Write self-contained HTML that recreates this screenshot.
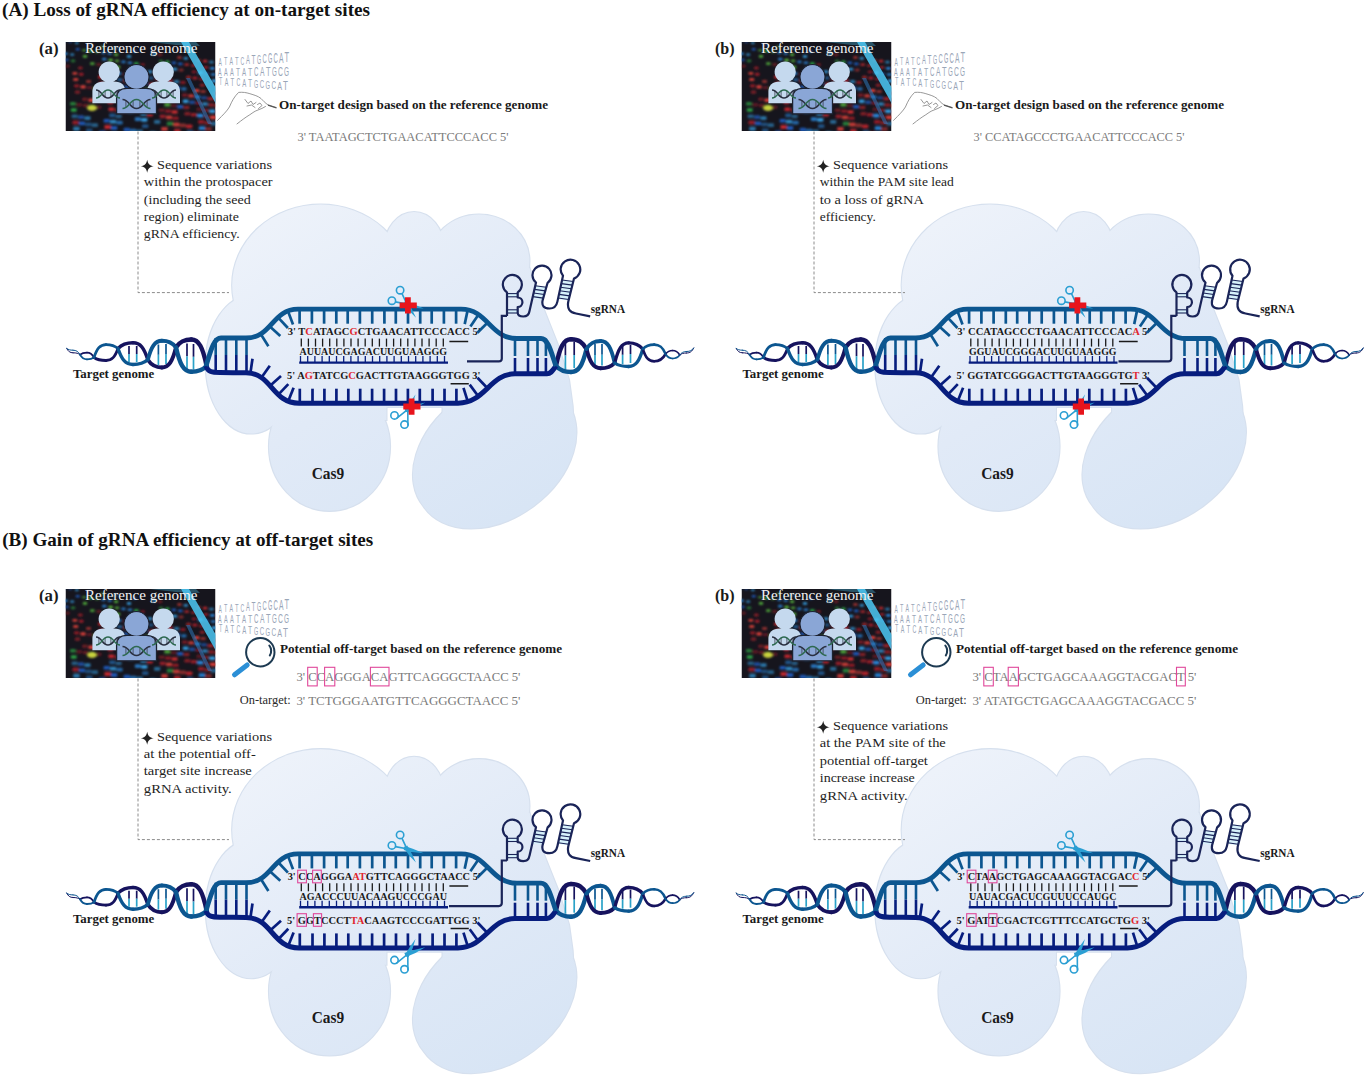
<!DOCTYPE html><html><head><meta charset="utf-8"><style>html,body{margin:0;padding:0;background:#fff;width:1366px;height:1075px;overflow:hidden}svg{display:block}</style></head><body><svg width="1366" height="1075" viewBox="0 0 1366 1075"><defs><clipPath id="refclip"><rect x="65.5" y="42" width="150" height="89"/></clipPath><filter id="soft" x="-5%" y="-5%" width="110%" height="110%"><feGaussianBlur stdDeviation="0.9"/></filter><linearGradient id="blobg" gradientUnits="userSpaceOnUse" x1="300" y1="205" x2="500" y2="525"><stop offset="0" stop-color="#edf2fa"/><stop offset="0.5" stop-color="#e1eaf7"/><stop offset="1" stop-color="#d8e5f5"/></linearGradient></defs><rect width="1366" height="1075" fill="#fff"/><text x="2" y="15.8" font-family="Liberation Serif" font-size="19" font-weight="bold" fill="#111" textLength="368" lengthAdjust="spacingAndGlyphs">(A) Loss of gRNA efficiency at on-target sites</text><text x="2.2" y="546.4" font-family="Liberation Serif" font-size="19" font-weight="bold" fill="#111" textLength="371" lengthAdjust="spacingAndGlyphs">(B) Gain of gRNA efficiency at off-target sites</text><g transform="translate(0,0)"><g fill="#d9e3f0" stroke="#d6e0ee" stroke-width="2.2"><ellipse cx="320.6" cy="285.3" rx="88.4" ry="80.8"/><ellipse cx="414.1" cy="248.4" rx="29.8" ry="36.3"/><ellipse cx="479.1" cy="261.2" rx="50.3" ry="46.7"/><ellipse cx="251.3" cy="364.5" rx="45.5" ry="69"/><ellipse cx="329.5" cy="446.6" rx="60.5" ry="64.2"/><path d="M423.6,506.4A88.6,63.4 143.4 1 1 565.8,400.8A88.6,63.4 143.4 1 1 423.6,506.4Z"/><path d="M250,300L320,250L414,262L479,270L529.5,268C536,290 540,300 544,310L558,345L569,380L572.6,406L574,432L545,470L442.6,420L442.6,407L386.4,407L386.4,420L330,420L255,410L222,360Z"/></g><g fill="url(#blobg)"><ellipse cx="320.6" cy="285.3" rx="88.4" ry="80.8"/><ellipse cx="414.1" cy="248.4" rx="29.8" ry="36.3"/><ellipse cx="479.1" cy="261.2" rx="50.3" ry="46.7"/><ellipse cx="251.3" cy="364.5" rx="45.5" ry="69"/><ellipse cx="329.5" cy="446.6" rx="60.5" ry="64.2"/><path d="M423.6,506.4A88.6,63.4 143.4 1 1 565.8,400.8A88.6,63.4 143.4 1 1 423.6,506.4Z"/><path d="M250,300L320,250L414,262L479,270L529.5,268C536,290 540,300 544,310L558,345L569,380L572.6,406L574,432L545,470L442.6,420L442.6,407L386.4,407L386.4,420L330,420L255,410L222,360Z"/></g><path d="M129,346V354" stroke="#16135e" stroke-width="1.7"/><path d="M129,354V362" stroke="#2aa2c8" stroke-width="1.7"/><path d="M136.7,346V354" stroke="#16135e" stroke-width="1.7"/><path d="M136.7,354V362" stroke="#2aa2c8" stroke-width="1.7"/><path d="M158.4,344.5V354.8" stroke="#0c5690" stroke-width="1.7"/><path d="M158.4,354.8V365" stroke="#2aa2c8" stroke-width="1.7"/><path d="M166,344V354" stroke="#0c5690" stroke-width="1.7"/><path d="M166,354V364" stroke="#2aa2c8" stroke-width="1.7"/><path d="M187,343.5V356.2" stroke="#16135e" stroke-width="1.7"/><path d="M187,356.2V369" stroke="#2aa2c8" stroke-width="1.7"/><path d="M193.5,344V356.8" stroke="#16135e" stroke-width="1.7"/><path d="M193.5,356.8V369.5" stroke="#2aa2c8" stroke-width="1.7"/><path d="M66.7,348.4C68.3,351.5 69.8,352.8 73,352.8" stroke="#16135e" stroke-width="1.0" fill="none" stroke-linecap="round"/><path d="M66.7,348.4C68.3,349.7 69.8,350.2 73,350.2" stroke="#0c5690" stroke-width="1.0" fill="none" stroke-linecap="round"/><path d="M73,352.8C76.5,352.8 78.2,353.3 80,354.6" stroke="#16135e" stroke-width="1.0" fill="none" stroke-linecap="round"/><path d="M73,350.2C76.5,350.2 78.2,351.5 80,354.6" stroke="#0c5690" stroke-width="1.0" fill="none" stroke-linecap="round"/><path d="M80,354.6C81.8,353.2 83.5,352.6 87,352.6" stroke="#16135e" stroke-width="1.8" fill="none" stroke-linecap="round"/><path d="M80,354.6C81.8,357.9 83.5,359.3 87,359.3" stroke="#0c5690" stroke-width="1.8" fill="none" stroke-linecap="round"/><path d="M87,352.6C90.5,352.6 92.2,354.1 94,357.5" stroke="#16135e" stroke-width="1.8" fill="none" stroke-linecap="round"/><path d="M87,359.3C90.5,359.3 92.2,358.8 94,357.5" stroke="#0c5690" stroke-width="1.8" fill="none" stroke-linecap="round"/><path d="M94,357.5C97,359.6 100,360.5 106,360.5" stroke="#16135e" stroke-width="2.8" fill="none" stroke-linecap="round"/><path d="M94,357.5C97,348.5 100,344.6 106,344.6" stroke="#0c5690" stroke-width="2.8" fill="none" stroke-linecap="round"/><path d="M106,360.5C112,360.5 115,356.9 118,348.5" stroke="#16135e" stroke-width="2.8" fill="none" stroke-linecap="round"/><path d="M106,344.6C112,344.6 115,345.8 118,348.5" stroke="#0c5690" stroke-width="2.8" fill="none" stroke-linecap="round"/><path d="M118,348.5C121.8,344.5 125.5,342.8 133,342.8" stroke="#16135e" stroke-width="3.4" fill="none" stroke-linecap="round"/><path d="M118,348.5C121.8,359.7 125.5,364.5 133,364.5" stroke="#0c5690" stroke-width="3.4" fill="none" stroke-linecap="round"/><path d="M133,342.8C140.4,342.8 144.1,347.9 147.8,359.8" stroke="#16135e" stroke-width="3.4" fill="none" stroke-linecap="round"/><path d="M133,364.5C140.4,364.5 144.1,363.1 147.8,359.8" stroke="#0c5690" stroke-width="3.4" fill="none" stroke-linecap="round"/><path d="M147.8,359.8C151.3,365.2 154.9,367.5 161.9,367.5" stroke="#16135e" stroke-width="3.9" fill="none" stroke-linecap="round"/><path d="M147.8,359.8C151.3,346.5 154.9,340.8 161.9,340.8" stroke="#0c5690" stroke-width="3.9" fill="none" stroke-linecap="round"/><path d="M161.9,367.5C168.9,367.5 172.5,361.4 176,347.3" stroke="#16135e" stroke-width="3.9" fill="none" stroke-linecap="round"/><path d="M161.9,340.8C168.9,340.8 172.5,342.8 176,347.3" stroke="#0c5690" stroke-width="3.9" fill="none" stroke-linecap="round"/><path d="M176,347.3C179.8,341.8 183.7,339.5 191.3,339.5" stroke="#16135e" stroke-width="4.4" fill="none" stroke-linecap="round"/><path d="M176,347.3C179.8,364.4 183.7,371.8 191.3,371.8" stroke="#0c5690" stroke-width="4.4" fill="none" stroke-linecap="round"/><path d="M191.3,339.5C198.9,339.5 202.8,347.4 206.6,366" stroke="#16135e" stroke-width="4.4" fill="none" stroke-linecap="round"/><path d="M191.3,371.8C198.9,371.8 202.8,370.1 206.6,366" stroke="#0c5690" stroke-width="4.4" fill="none" stroke-linecap="round"/><path d="M565.4,342V355.5" stroke="#16135e" stroke-width="1.7"/><path d="M565.4,355.5V369" stroke="#2aa2c8" stroke-width="1.7"/><path d="M574.2,342V355" stroke="#16135e" stroke-width="1.7"/><path d="M574.2,355V368" stroke="#2aa2c8" stroke-width="1.7"/><path d="M595,344V355" stroke="#0c5690" stroke-width="1.7"/><path d="M595,355V366" stroke="#2aa2c8" stroke-width="1.7"/><path d="M602,344V354.8" stroke="#0c5690" stroke-width="1.7"/><path d="M602,354.8V365.5" stroke="#2aa2c8" stroke-width="1.7"/><path d="M622.6,345.5V354.8" stroke="#16135e" stroke-width="1.7"/><path d="M622.6,354.8V364" stroke="#2aa2c8" stroke-width="1.7"/><path d="M630.5,345V354" stroke="#16135e" stroke-width="1.7"/><path d="M630.5,354V363" stroke="#2aa2c8" stroke-width="1.7"/><path d="M556,366C559.8,347.3 563.5,339.3 571,339.3" stroke="#16135e" stroke-width="4.4" fill="none" stroke-linecap="round"/><path d="M556,366C559.8,370.2 563.5,372 571,372" stroke="#0c5690" stroke-width="4.4" fill="none" stroke-linecap="round"/><path d="M571,339.3C578.8,339.3 582.6,342.2 586.5,349" stroke="#16135e" stroke-width="4.4" fill="none" stroke-linecap="round"/><path d="M571,372C578.8,372 582.6,365.1 586.5,349" stroke="#0c5690" stroke-width="4.4" fill="none" stroke-linecap="round"/><path d="M586.5,349C590,362.5 593.5,368.3 600.6,368.3" stroke="#16135e" stroke-width="3.9" fill="none" stroke-linecap="round"/><path d="M586.5,349C590,343.4 593.5,341 600.6,341" stroke="#0c5690" stroke-width="3.9" fill="none" stroke-linecap="round"/><path d="M600.6,368.3C607.7,368.3 611.2,366.7 614.7,363" stroke="#16135e" stroke-width="3.9" fill="none" stroke-linecap="round"/><path d="M600.6,341C607.7,341 611.2,347.6 614.7,363" stroke="#0c5690" stroke-width="3.9" fill="none" stroke-linecap="round"/><path d="M614.7,363C618.2,348.9 621.7,342.8 628.7,342.8" stroke="#16135e" stroke-width="3.3" fill="none" stroke-linecap="round"/><path d="M614.7,363C618.2,365.4 621.7,366.5 628.7,366.5" stroke="#0c5690" stroke-width="3.3" fill="none" stroke-linecap="round"/><path d="M628.7,342.8C635.8,342.8 639.3,344.7 642.8,349" stroke="#16135e" stroke-width="3.3" fill="none" stroke-linecap="round"/><path d="M628.7,366.5C635.8,366.5 639.3,361.2 642.8,349" stroke="#0c5690" stroke-width="3.3" fill="none" stroke-linecap="round"/><path d="M642.8,349C645.6,357.6 648.5,361.3 654.2,361.3" stroke="#16135e" stroke-width="2.6" fill="none" stroke-linecap="round"/><path d="M642.8,349C645.6,345.9 648.5,344.6 654.2,344.6" stroke="#0c5690" stroke-width="2.6" fill="none" stroke-linecap="round"/><path d="M654.2,361.3C659.9,361.3 662.8,359.1 665.6,354" stroke="#16135e" stroke-width="2.6" fill="none" stroke-linecap="round"/><path d="M654.2,344.6C659.9,344.6 662.8,347.4 665.6,354" stroke="#0c5690" stroke-width="2.6" fill="none" stroke-linecap="round"/><path d="M665.6,354C667.4,351.6 669.1,350.5 672.6,350.5" stroke="#16135e" stroke-width="1.7" fill="none" stroke-linecap="round"/><path d="M665.6,354C667.4,357.1 669.1,358.5 672.6,358.5" stroke="#0c5690" stroke-width="1.7" fill="none" stroke-linecap="round"/><path d="M672.6,350.5C676.2,350.5 677.9,351.9 679.7,355" stroke="#16135e" stroke-width="1.7" fill="none" stroke-linecap="round"/><path d="M672.6,358.5C676.2,358.5 677.9,357.4 679.7,355" stroke="#0c5690" stroke-width="1.7" fill="none" stroke-linecap="round"/><path d="M679.7,355C681.5,353.6 683.2,353 686.7,353" stroke="#16135e" stroke-width="1.0" fill="none" stroke-linecap="round"/><path d="M679.7,355C681.5,352.6 683.2,351.5 686.7,351.5" stroke="#0c5690" stroke-width="1.0" fill="none" stroke-linecap="round"/><path d="M686.7,353C690.2,353 692,351.5 693.7,348" stroke="#16135e" stroke-width="1.0" fill="none" stroke-linecap="round"/><path d="M686.7,351.5C690.2,351.5 692,350.4 693.7,348" stroke="#0c5690" stroke-width="1.0" fill="none" stroke-linecap="round"/><path d="M215.7,338V355" stroke="#0c5690" stroke-width="2.6"/><path d="M215.7,355V372.5" stroke="#071d7e" stroke-width="2.6"/><path d="M226,338V355" stroke="#0c5690" stroke-width="2.6"/><path d="M226,355V372.5" stroke="#071d7e" stroke-width="2.6"/><path d="M236.3,338V355" stroke="#0c5690" stroke-width="2.6"/><path d="M236.3,355V372.5" stroke="#071d7e" stroke-width="2.6"/><path d="M246.5,338V355" stroke="#0c5690" stroke-width="2.6"/><path d="M246.5,355V372.5" stroke="#071d7e" stroke-width="2.6"/><path d="M515,338.5V356" stroke="#0c5690" stroke-width="2.6"/><path d="M515,358V373.8" stroke="#071d7e" stroke-width="2.6"/><path d="M528,338.5V356" stroke="#0c5690" stroke-width="2.6"/><path d="M528,358V373.8" stroke="#071d7e" stroke-width="2.6"/><path d="M537.5,338.5V356" stroke="#0c5690" stroke-width="2.6"/><path d="M537.5,358V373.8" stroke="#071d7e" stroke-width="2.6"/><path d="M545.9,338.5V356" stroke="#0c5690" stroke-width="2.6"/><path d="M545.9,358V373.8" stroke="#071d7e" stroke-width="2.6"/><path d="M260.7,334L268.4,346.3" stroke="#0c5690" stroke-width="2.7"/><path d="M269.6,326.2L280.3,336" stroke="#0c5690" stroke-width="2.7"/><path d="M278,317.3L287.9,328" stroke="#0c5690" stroke-width="2.7"/><path d="M287.9,310.9L293,324.5" stroke="#0c5690" stroke-width="2.7"/><path d="M299.6,309.2L299.6,323.7" stroke="#0c5690" stroke-width="2.7"/><path d="M311.9,309.2L311.9,323.7" stroke="#0c5690" stroke-width="2.7"/><path d="M324.1,309.2L324.1,323.7" stroke="#0c5690" stroke-width="2.7"/><path d="M336.3,309.2L336.3,323.7" stroke="#0c5690" stroke-width="2.7"/><path d="M347.7,309.2L347.7,323.7" stroke="#0c5690" stroke-width="2.7"/><path d="M359.9,309.2L359.9,323.7" stroke="#0c5690" stroke-width="2.7"/><path d="M372.2,309.2L372.2,323.7" stroke="#0c5690" stroke-width="2.7"/><path d="M384.4,309.2L384.4,323.7" stroke="#0c5690" stroke-width="2.7"/><path d="M395.8,309.2L395.8,323.7" stroke="#0c5690" stroke-width="2.7"/><path d="M408,309.2L408,323.7" stroke="#0c5690" stroke-width="2.7"/><path d="M420.2,309.2L420.2,323.7" stroke="#0c5690" stroke-width="2.7"/><path d="M431.7,309.2L431.7,323.7" stroke="#0c5690" stroke-width="2.7"/><path d="M443.9,309.2L443.9,323.7" stroke="#0c5690" stroke-width="2.7"/><path d="M456.1,309.2L456.1,323.7" stroke="#0c5690" stroke-width="2.7"/><path d="M467.7,309.9L464.7,324.1" stroke="#0c5690" stroke-width="2.7"/><path d="M478.6,314.6L470.4,326.6" stroke="#0c5690" stroke-width="2.7"/><path d="M487.7,322.5L477.4,332.8" stroke="#0c5690" stroke-width="2.7"/><path d="M250.4,373.1L252.5,358.8" stroke="#071d7e" stroke-width="2.7"/><path d="M261.5,377.6L269.8,365.7" stroke="#071d7e" stroke-width="2.7"/><path d="M270.1,385.7L281,376.1" stroke="#071d7e" stroke-width="2.7"/><path d="M278.3,394.6L288.3,384.1" stroke="#071d7e" stroke-width="2.7"/><path d="M288.2,401.2L293.6,387.8" stroke="#071d7e" stroke-width="2.7"/><path d="M299.8,403.2L299.8,388.7" stroke="#071d7e" stroke-width="2.7"/><path d="M312.5,403.2L312.5,388.7" stroke="#071d7e" stroke-width="2.7"/><path d="M324.4,403.2L324.4,388.7" stroke="#071d7e" stroke-width="2.7"/><path d="M336.4,403.2L336.4,388.7" stroke="#071d7e" stroke-width="2.7"/><path d="M348.3,403.2L348.3,388.7" stroke="#071d7e" stroke-width="2.7"/><path d="M360.2,403.2L360.2,388.7" stroke="#071d7e" stroke-width="2.7"/><path d="M372.1,403.2L372.1,388.7" stroke="#071d7e" stroke-width="2.7"/><path d="M384.1,403.2L384.1,388.7" stroke="#071d7e" stroke-width="2.7"/><path d="M396,403.2L396,388.7" stroke="#071d7e" stroke-width="2.7"/><path d="M407.9,403.2L407.9,388.7" stroke="#071d7e" stroke-width="2.7"/><path d="M419.8,403.2L419.8,388.7" stroke="#071d7e" stroke-width="2.7"/><path d="M432.6,403.2L432.6,388.7" stroke="#071d7e" stroke-width="2.7"/><path d="M444.5,403.2L444.5,388.7" stroke="#071d7e" stroke-width="2.7"/><path d="M456.4,403.2L456.4,388.7" stroke="#071d7e" stroke-width="2.7"/><path d="M467.8,401.7L463.5,387.9" stroke="#071d7e" stroke-width="2.7"/><path d="M478.3,396.3L469.7,384.6" stroke="#071d7e" stroke-width="2.7"/><path d="M487.5,388.3L477.5,377.8" stroke="#071d7e" stroke-width="2.7"/><path d="M206,366C208,372 212,372.5 220,372.5C228.7,372.6 237.3,372.7 246,372.8C272,372.8 272,403.2 299,403.2C352,403.2 405,403.2 458,403.2C485,403.2 490,373.8 515,373.8C525.7,373.8 536.3,373.8 547,373.8C551,373.8 553,370 556,366" stroke="#071d7e" stroke-width="5" fill="none" stroke-linejoin="round"/><path d="M206,366C210,354 213,338 221,338C229.3,338 237.7,338 246,338C272,338 272,309.2 298,309.2C352.3,309.2 406.7,309.2 461,309.2C488,309.2 490,338.5 517,338.5C525,338.5 533,338.5 541,338.5C549,338.5 552,356 556,366" stroke="#0c5690" stroke-width="4.8" fill="none" stroke-linejoin="round"/><path d="M467,361.4H498.8Q501.8,361.4 501.8,358.4V315.8H507" stroke="#1a2458" stroke-width="2.2" fill="none"/><rect x="507" y="293.3" width="10.7" height="3.8" fill="#d6f1fb"/><rect x="507" y="309.5" width="10.7" height="3.8" fill="#d6f1fb"/><path d="M507,293.6H517.7" stroke="#1a2458" stroke-width="1.1"/><path d="M507,296.8H517.7" stroke="#1a2458" stroke-width="1.1"/><path d="M507,309.8H517.7" stroke="#1a2458" stroke-width="1.1"/><path d="M507,313H517.7" stroke="#1a2458" stroke-width="1.1"/><path d="M535.3,285.5L546.4,287L542.7,300L532.4,298.5Z" fill="#d6f1fb"/><path d="M535.2,285.8L546.3,287.3" stroke="#1a2458" stroke-width="1.1"/><path d="M534.4,289.4L545.3,290.9" stroke="#1a2458" stroke-width="1.1"/><path d="M533.6,293L544.3,294.5" stroke="#1a2458" stroke-width="1.1"/><path d="M532.8,296.6L543.3,298.1" stroke="#1a2458" stroke-width="1.1"/><path d="M562.2,279.5L573.4,281L568.6,300.5L558,299Z" fill="#d6f1fb"/><path d="M562.1,280L573.3,281.5" stroke="#1a2458" stroke-width="1.1"/><path d="M561.3,283.6L572.4,285.1" stroke="#1a2458" stroke-width="1.1"/><path d="M560.5,287.2L571.5,288.7" stroke="#1a2458" stroke-width="1.1"/><path d="M559.7,290.8L570.6,292.3" stroke="#1a2458" stroke-width="1.1"/><path d="M559,294.4L569.7,295.9" stroke="#1a2458" stroke-width="1.1"/><path d="M558.2,298L568.8,299.5" stroke="#1a2458" stroke-width="1.1"/><path d="M507,316V292.3 A9.5,9.5 0 1 1 517.7,292.3 V297.5 A4.6,4.6 0 0 1 517.7,307 V313 Q518,316.5 523.3,316.5 Q528.7,316.5 529.5,311 L536,282.5 A9.5,9.5 0 1 1 547.6,282.8 L542.6,300.4 Q541,308.5 549.5,308.5 Q556,308.5 557.4,301.6 L563,275.8 A9.8,9.8 0 1 1 574,278.6 L568.2,302 Q566.5,312 576,313.5 L590.2,316.3" stroke="#1a2458" stroke-width="2.2" fill="none" stroke-linejoin="round"/><circle cx="400.1" cy="290.2" r="3.7" stroke="#2b9fd3" stroke-width="1.6" fill="none"/><circle cx="391.9" cy="300.7" r="3.7" stroke="#2b9fd3" stroke-width="1.6" fill="none"/><path d="M401.9,293.4L406.8,304M395.3,301.9L406.8,304" stroke="#2b9fd3" stroke-width="1.6"/><path d="M403.7,305.3Q413.3,308.4 423.7,308.6Q414.4,304.3 404.8,301.3Z" fill="#2b9fd3"/><path d="M403.7,303.1Q408.6,311.3 416,317.8Q412.1,308.9 407.2,300.8Z" fill="#2b9fd3"/><path d="M405,297.2h5.8v5.2h6v5.8h-6v5.4h-5.8v-5.4h-5.4v-5.8h5.4z" fill="#e8141c"/><circle cx="394.5" cy="415.4" r="3.7" stroke="#2b9fd3" stroke-width="1.6" fill="none"/><circle cx="404.5" cy="424.6" r="3.7" stroke="#2b9fd3" stroke-width="1.6" fill="none"/><path d="M396.3,418.6L407.8,409.3M407.9,425.8L407.8,409.3" stroke="#2b9fd3" stroke-width="1.6"/><path d="M408.5,412.5Q413.3,404.1 415.5,394.4Q409.6,402.2 404.8,410.6Z" fill="#2b9fd3"/><path d="M405.9,412.3Q416.1,408.8 425.2,402.6Q414.6,404.9 404.4,408.3Z" fill="#2b9fd3"/><path d="M408.7,398.4h5.8v5.2h6v5.8h-6v5.4h-5.8v-5.4h-5.4v-5.8h5.4z" fill="#e8141c"/><text x="287.7" y="335.3" font-family="Liberation Serif" font-size="11.4" font-weight="bold" fill="#1a1a1a" textLength="193" lengthAdjust="spacingAndGlyphs">3' T<tspan fill="#e0262e">C</tspan>ATAGC<tspan fill="#e0262e">G</tspan>CTGAACATTCCCACC 5'</text><path d="M301.3,338.6V346.6" stroke="#1a1a1a" stroke-width="1.3"/><path d="M308.4,338.6V346.6" stroke="#1a1a1a" stroke-width="1.3"/><path d="M315.5,338.6V346.6" stroke="#1a1a1a" stroke-width="1.3"/><path d="M322.6,338.6V346.6" stroke="#1a1a1a" stroke-width="1.3"/><path d="M329.7,338.6V346.6" stroke="#1a1a1a" stroke-width="1.3"/><path d="M336.8,338.6V346.6" stroke="#1a1a1a" stroke-width="1.3"/><path d="M343.9,338.6V346.6" stroke="#1a1a1a" stroke-width="1.3"/><path d="M351,338.6V346.6" stroke="#1a1a1a" stroke-width="1.3"/><path d="M358.1,338.6V346.6" stroke="#1a1a1a" stroke-width="1.3"/><path d="M365.2,338.6V346.6" stroke="#1a1a1a" stroke-width="1.3"/><path d="M372.3,338.6V346.6" stroke="#1a1a1a" stroke-width="1.3"/><path d="M379.4,338.6V346.6" stroke="#1a1a1a" stroke-width="1.3"/><path d="M386.5,338.6V346.6" stroke="#1a1a1a" stroke-width="1.3"/><path d="M393.6,338.6V346.6" stroke="#1a1a1a" stroke-width="1.3"/><path d="M400.7,338.6V346.6" stroke="#1a1a1a" stroke-width="1.3"/><path d="M407.8,338.6V346.6" stroke="#1a1a1a" stroke-width="1.3"/><path d="M414.9,338.6V346.6" stroke="#1a1a1a" stroke-width="1.3"/><path d="M422,338.6V346.6" stroke="#1a1a1a" stroke-width="1.3"/><path d="M429.1,338.6V346.6" stroke="#1a1a1a" stroke-width="1.3"/><path d="M436.2,338.6V346.6" stroke="#1a1a1a" stroke-width="1.3"/><path d="M443.3,338.6V346.6" stroke="#1a1a1a" stroke-width="1.3"/><text x="299.5" y="355.3" font-family="Liberation Serif" font-size="11.4" font-weight="bold" fill="#1a1a1a" textLength="147.5" lengthAdjust="spacingAndGlyphs">AUUAUCGAGACUUGUAAGGG</text><path d="M300.5,356V362" stroke="#071d7e" stroke-width="1.3"/><path d="M307.7,356V362" stroke="#071d7e" stroke-width="1.3"/><path d="M314.9,356V362" stroke="#071d7e" stroke-width="1.3"/><path d="M322.1,356V362" stroke="#071d7e" stroke-width="1.3"/><path d="M329.3,356V362" stroke="#071d7e" stroke-width="1.3"/><path d="M336.5,356V362" stroke="#071d7e" stroke-width="1.3"/><path d="M343.7,356V362" stroke="#071d7e" stroke-width="1.3"/><path d="M350.9,356V362" stroke="#071d7e" stroke-width="1.3"/><path d="M358.1,356V362" stroke="#071d7e" stroke-width="1.3"/><path d="M365.3,356V362" stroke="#071d7e" stroke-width="1.3"/><path d="M372.5,356V362" stroke="#071d7e" stroke-width="1.3"/><path d="M379.7,356V362" stroke="#071d7e" stroke-width="1.3"/><path d="M386.9,356V362" stroke="#071d7e" stroke-width="1.3"/><path d="M394.1,356V362" stroke="#071d7e" stroke-width="1.3"/><path d="M401.3,356V362" stroke="#071d7e" stroke-width="1.3"/><path d="M408.5,356V362" stroke="#071d7e" stroke-width="1.3"/><path d="M415.7,356V362" stroke="#071d7e" stroke-width="1.3"/><path d="M422.9,356V362" stroke="#071d7e" stroke-width="1.3"/><path d="M430.1,356V362" stroke="#071d7e" stroke-width="1.3"/><path d="M437.3,356V362" stroke="#071d7e" stroke-width="1.3"/><path d="M444.5,356V362" stroke="#071d7e" stroke-width="1.3"/><path d="M299.2,362.6H448" stroke="#071d7e" stroke-width="2.4"/><text x="287" y="378.9" font-family="Liberation Serif" font-size="11.4" font-weight="bold" fill="#1a1a1a" textLength="193.5" lengthAdjust="spacingAndGlyphs">5' A<tspan fill="#e0262e">G</tspan>TATCG<tspan fill="#e0262e">C</tspan>GACTTGTAAGGGTGG 3'</text><path d="M449.4,341.4H468.2M450.6,383.7H468.8" stroke="#1a1a1a" stroke-width="1.5"/><text x="72.9" y="378" font-family="Liberation Serif" font-size="13" font-weight="bold" fill="#1a1a1a" textLength="81.4" lengthAdjust="spacingAndGlyphs">Target genome</text><text x="311.7" y="478.6" font-family="Liberation Serif" font-size="16" font-weight="bold" fill="#1a1a1a" textLength="32.5" lengthAdjust="spacingAndGlyphs">Cas9</text><text x="590.7" y="312.5" font-family="Liberation Serif" font-size="11.5" font-weight="bold" fill="#1a1a1a" textLength="34.3" lengthAdjust="spacingAndGlyphs">sgRNA</text></g><g transform="translate(0,0)"><text x="39" y="53.8" font-family="Liberation Serif" font-size="16.5" font-weight="bold" fill="#1a1a1a" textLength="19.6" lengthAdjust="spacingAndGlyphs">(a)</text><g clip-path="url(#refclip)"><rect x="65.5" y="42" width="150" height="89" fill="#16151d"/><g filter="url(#soft)"><rect x="62" y="40" width="3.9" height="2.4" rx="1.2" fill="#2060c8" opacity="0.47"/><rect x="68.4" y="40.9" width="4" height="2.4" rx="1.2" fill="#2060c8" opacity="0.48"/><rect x="74.8" y="41.8" width="4" height="2.4" rx="1.2" fill="#38a8f0" opacity="0.66"/><rect x="87.6" y="43.6" width="4" height="2.4" rx="1.2" fill="#2060c8" opacity="0.51"/><rect x="100.4" y="45.4" width="4.1" height="2.5" rx="1.2" fill="#5ac040" opacity="0.47"/><rect x="113.2" y="47.2" width="4.2" height="2.5" rx="1.2" fill="#38a8f0" opacity="0.52"/><rect x="132.4" y="49.9" width="4.2" height="2.5" rx="1.2" fill="#2060c8" opacity="0.74"/><rect x="151.6" y="52.6" width="4.3" height="2.6" rx="1.2" fill="#38a8f0" opacity="0.79"/><rect x="158" y="53.5" width="4.3" height="2.6" rx="1.2" fill="#a01c28" opacity="0.63"/><rect x="177.2" y="56.2" width="4.4" height="2.6" rx="1.2" fill="#e0403a" opacity="0.71"/><rect x="183.6" y="57.1" width="4.4" height="2.7" rx="1.2" fill="#38a8f0" opacity="0.75"/><rect x="196.4" y="58.9" width="4.5" height="2.7" rx="1.2" fill="#e0403a" opacity="0.53"/><rect x="202.8" y="59.8" width="4.5" height="2.7" rx="1.2" fill="#d02a30" opacity="0.83"/><rect x="209.2" y="60.7" width="4.5" height="2.7" rx="1.2" fill="#38a8f0" opacity="0.62"/><rect x="215.6" y="61.6" width="4.6" height="2.7" rx="1.2" fill="#a01c28" opacity="0.48"/><rect x="75.6" y="48" width="4.2" height="2.5" rx="1.2" fill="#2060c8" opacity="0.80"/><rect x="82" y="48.9" width="4.2" height="2.5" rx="1.2" fill="#5ac040" opacity="0.59"/><rect x="88.4" y="49.8" width="4.2" height="2.5" rx="1.2" fill="#30b84a" opacity="0.92"/><rect x="94.8" y="50.7" width="4.3" height="2.6" rx="1.2" fill="#5ac040" opacity="0.48"/><rect x="101.2" y="51.6" width="4.3" height="2.6" rx="1.2" fill="#2a8ee8" opacity="0.65"/><rect x="107.6" y="52.5" width="4.3" height="2.6" rx="1.2" fill="#2a8ee8" opacity="0.67"/><rect x="114" y="53.4" width="4.3" height="2.6" rx="1.2" fill="#5ac040" opacity="0.88"/><rect x="126.8" y="55.2" width="4.4" height="2.6" rx="1.2" fill="#38a8f0" opacity="0.93"/><rect x="158.8" y="59.7" width="4.5" height="2.7" rx="1.2" fill="#30b84a" opacity="0.52"/><rect x="165.2" y="60.6" width="4.5" height="2.7" rx="1.2" fill="#30b84a" opacity="0.80"/><rect x="171.6" y="61.5" width="4.6" height="2.7" rx="1.2" fill="#2060c8" opacity="0.82"/><rect x="178" y="62.4" width="4.6" height="2.8" rx="1.2" fill="#2060c8" opacity="0.85"/><rect x="184.4" y="63.3" width="4.6" height="2.8" rx="1.2" fill="#d02a30" opacity="0.69"/><rect x="190.8" y="64.2" width="4.6" height="2.8" rx="1.2" fill="#b8222c" opacity="0.67"/><rect x="203.6" y="66" width="4.7" height="2.8" rx="1.2" fill="#b8222c" opacity="0.72"/><rect x="210" y="66.9" width="4.7" height="2.8" rx="1.2" fill="#2a8ee8" opacity="0.89"/><rect x="216.4" y="67.8" width="4.8" height="2.9" rx="1.2" fill="#e0403a" opacity="0.93"/><rect x="63.6" y="52.4" width="4.3" height="2.6" rx="1.2" fill="#2a8ee8" opacity="0.87"/><rect x="70" y="53.3" width="4.3" height="2.6" rx="1.2" fill="#38a8f0" opacity="0.61"/><rect x="82.8" y="55.1" width="4.4" height="2.6" rx="1.2" fill="#5ac040" opacity="0.86"/><rect x="102" y="57.8" width="4.5" height="2.7" rx="1.2" fill="#2a8ee8" opacity="0.80"/><rect x="108.4" y="58.7" width="4.5" height="2.7" rx="1.2" fill="#5ac040" opacity="0.94"/><rect x="114.8" y="59.6" width="4.5" height="2.7" rx="1.2" fill="#5ac040" opacity="0.71"/><rect x="121.2" y="60.5" width="4.5" height="2.7" rx="1.2" fill="#2a8ee8" opacity="0.72"/><rect x="127.6" y="61.4" width="4.6" height="2.7" rx="1.2" fill="#2a8ee8" opacity="0.76"/><rect x="134" y="62.3" width="4.6" height="2.8" rx="1.2" fill="#30b84a" opacity="0.86"/><rect x="140.4" y="63.2" width="4.6" height="2.8" rx="1.2" fill="#a01c28" opacity="0.63"/><rect x="172.4" y="67.7" width="4.8" height="2.9" rx="1.2" fill="#38a8f0" opacity="0.85"/><rect x="178.8" y="68.6" width="4.8" height="2.9" rx="1.2" fill="#e0403a" opacity="0.49"/><rect x="191.6" y="70.4" width="4.8" height="2.9" rx="1.2" fill="#a01c28" opacity="0.76"/><rect x="198" y="71.3" width="4.9" height="2.9" rx="1.2" fill="#38a8f0" opacity="0.90"/><rect x="204.4" y="72.2" width="4.9" height="2.9" rx="1.2" fill="#2060c8" opacity="0.51"/><rect x="210.8" y="73.1" width="4.9" height="2.9" rx="1.2" fill="#2a8ee8" opacity="0.69"/><rect x="64.4" y="58.6" width="4.5" height="2.7" rx="1.2" fill="#2060c8" opacity="0.65"/><rect x="70.8" y="59.5" width="4.5" height="2.7" rx="1.2" fill="#30b84a" opacity="0.54"/><rect x="90" y="62.2" width="4.6" height="2.8" rx="1.2" fill="#5ac040" opacity="0.78"/><rect x="96.4" y="63.1" width="4.6" height="2.8" rx="1.2" fill="#b8222c" opacity="0.46"/><rect x="102.8" y="64" width="4.6" height="2.8" rx="1.2" fill="#30b84a" opacity="0.67"/><rect x="109.2" y="64.9" width="4.7" height="2.8" rx="1.2" fill="#5ac040" opacity="0.56"/><rect x="115.6" y="65.8" width="4.7" height="2.8" rx="1.2" fill="#5ac040" opacity="0.87"/><rect x="128.4" y="67.6" width="4.7" height="2.8" rx="1.2" fill="#2060c8" opacity="0.66"/><rect x="134.8" y="68.5" width="4.8" height="2.9" rx="1.2" fill="#2060c8" opacity="0.71"/><rect x="141.2" y="69.4" width="4.8" height="2.9" rx="1.2" fill="#2a8ee8" opacity="0.54"/><rect x="147.6" y="70.3" width="4.8" height="2.9" rx="1.2" fill="#38a8f0" opacity="0.79"/><rect x="154" y="71.2" width="4.9" height="2.9" rx="1.2" fill="#d02a30" opacity="0.89"/><rect x="186" y="75.7" width="5" height="3" rx="1.2" fill="#d02a30" opacity="0.67"/><rect x="192.4" y="76.6" width="5" height="3" rx="1.2" fill="#b8222c" opacity="0.80"/><rect x="198.8" y="77.5" width="5" height="3" rx="1.2" fill="#a01c28" opacity="0.70"/><rect x="211.6" y="79.3" width="5.1" height="3.1" rx="1.2" fill="#38a8f0" opacity="0.91"/><rect x="65.2" y="64.8" width="4.7" height="2.8" rx="1.2" fill="#a01c28" opacity="0.52"/><rect x="78" y="66.6" width="4.7" height="2.8" rx="1.2" fill="#b8222c" opacity="0.66"/><rect x="103.6" y="70.2" width="4.8" height="2.9" rx="1.2" fill="#38a8f0" opacity="0.52"/><rect x="110" y="71.1" width="4.9" height="2.9" rx="1.2" fill="#30b84a" opacity="0.65"/><rect x="116.4" y="72" width="4.9" height="2.9" rx="1.2" fill="#2a8ee8" opacity="0.80"/><rect x="122.8" y="72.9" width="4.9" height="2.9" rx="1.2" fill="#a01c28" opacity="0.55"/><rect x="135.6" y="74.7" width="5" height="3" rx="1.2" fill="#a01c28" opacity="0.67"/><rect x="148.4" y="76.5" width="5" height="3" rx="1.2" fill="#2a8ee8" opacity="0.51"/><rect x="154.8" y="77.4" width="5" height="3" rx="1.2" fill="#d02a30" opacity="0.49"/><rect x="167.6" y="79.2" width="5.1" height="3.1" rx="1.2" fill="#b8222c" opacity="0.86"/><rect x="174" y="80.1" width="5.1" height="3.1" rx="1.2" fill="#38a8f0" opacity="0.65"/><rect x="180.4" y="81" width="5.1" height="3.1" rx="1.2" fill="#a01c28" opacity="0.80"/><rect x="199.6" y="83.7" width="5.2" height="3.1" rx="1.2" fill="#d02a30" opacity="0.58"/><rect x="72.4" y="71.9" width="4.9" height="2.9" rx="1.2" fill="#e0403a" opacity="0.88"/><rect x="78.8" y="72.8" width="4.9" height="2.9" rx="1.2" fill="#a01c28" opacity="0.91"/><rect x="98" y="75.5" width="5" height="3" rx="1.2" fill="#d02a30" opacity="0.93"/><rect x="117.2" y="78.2" width="5.1" height="3" rx="1.2" fill="#2a8ee8" opacity="0.59"/><rect x="123.6" y="79.1" width="5.1" height="3.1" rx="1.2" fill="#e0403a" opacity="0.85"/><rect x="130" y="80" width="5.1" height="3.1" rx="1.2" fill="#d02a30" opacity="0.82"/><rect x="136.4" y="80.9" width="5.1" height="3.1" rx="1.2" fill="#a01c28" opacity="0.57"/><rect x="142.8" y="81.8" width="5.2" height="3.1" rx="1.2" fill="#2060c8" opacity="0.70"/><rect x="149.2" y="82.7" width="5.2" height="3.1" rx="1.2" fill="#e0403a" opacity="0.79"/><rect x="155.6" y="83.6" width="5.2" height="3.1" rx="1.2" fill="#b8222c" opacity="0.65"/><rect x="162" y="84.5" width="5.2" height="3.1" rx="1.2" fill="#b8222c" opacity="0.46"/><rect x="168.4" y="85.4" width="5.3" height="3.2" rx="1.2" fill="#30b84a" opacity="0.49"/><rect x="174.8" y="86.3" width="5.3" height="3.2" rx="1.2" fill="#2060c8" opacity="0.94"/><rect x="181.2" y="87.2" width="5.3" height="3.2" rx="1.2" fill="#2a8ee8" opacity="0.68"/><rect x="194" y="89" width="5.4" height="3.2" rx="1.2" fill="#e0403a" opacity="0.94"/><rect x="200.4" y="89.9" width="5.4" height="3.2" rx="1.2" fill="#e0403a" opacity="0.56"/><rect x="213.2" y="91.7" width="5.5" height="3.3" rx="1.2" fill="#e0403a" opacity="0.70"/><rect x="73.2" y="78.1" width="5.1" height="3" rx="1.2" fill="#e0403a" opacity="0.86"/><rect x="86" y="79.9" width="5.1" height="3.1" rx="1.2" fill="#e0403a" opacity="0.60"/><rect x="98.8" y="81.7" width="5.2" height="3.1" rx="1.2" fill="#b8222c" opacity="0.78"/><rect x="105.2" y="82.6" width="5.2" height="3.1" rx="1.2" fill="#5ac040" opacity="0.81"/><rect x="111.6" y="83.5" width="5.2" height="3.1" rx="1.2" fill="#b8222c" opacity="0.47"/><rect x="118" y="84.4" width="5.2" height="3.1" rx="1.2" fill="#2060c8" opacity="0.80"/><rect x="124.4" y="85.3" width="5.3" height="3.2" rx="1.2" fill="#2060c8" opacity="0.87"/><rect x="130.8" y="86.2" width="5.3" height="3.2" rx="1.2" fill="#2060c8" opacity="0.79"/><rect x="137.2" y="87.1" width="5.3" height="3.2" rx="1.2" fill="#d02a30" opacity="0.47"/><rect x="143.6" y="88" width="5.3" height="3.2" rx="1.2" fill="#5ac040" opacity="0.73"/><rect x="150" y="88.9" width="5.4" height="3.2" rx="1.2" fill="#38a8f0" opacity="0.58"/><rect x="156.4" y="89.8" width="5.4" height="3.2" rx="1.2" fill="#d02a30" opacity="0.78"/><rect x="169.2" y="91.6" width="5.4" height="3.3" rx="1.2" fill="#d02a30" opacity="0.87"/><rect x="182" y="93.4" width="5.5" height="3.3" rx="1.2" fill="#a01c28" opacity="0.70"/><rect x="188.4" y="94.3" width="5.5" height="3.3" rx="1.2" fill="#e0403a" opacity="0.83"/><rect x="194.8" y="95.2" width="5.6" height="3.3" rx="1.2" fill="#2a8ee8" opacity="0.75"/><rect x="201.2" y="96.1" width="5.6" height="3.3" rx="1.2" fill="#2060c8" opacity="0.60"/><rect x="207.6" y="97" width="5.6" height="3.4" rx="1.2" fill="#d02a30" opacity="0.69"/><rect x="214" y="97.9" width="5.6" height="3.4" rx="1.2" fill="#b8222c" opacity="0.79"/><rect x="74" y="84.3" width="5.2" height="3.1" rx="1.2" fill="#a01c28" opacity="0.83"/><rect x="80.4" y="85.2" width="5.3" height="3.2" rx="1.2" fill="#e0403a" opacity="0.94"/><rect x="86.8" y="86.1" width="5.3" height="3.2" rx="1.2" fill="#a01c28" opacity="0.49"/><rect x="93.2" y="87" width="5.3" height="3.2" rx="1.2" fill="#c8e040" opacity="0.55"/><rect x="99.6" y="87.9" width="5.3" height="3.2" rx="1.2" fill="#d02a30" opacity="0.52"/><rect x="106" y="88.8" width="5.4" height="3.2" rx="1.2" fill="#5ac040" opacity="0.89"/><rect x="112.4" y="89.7" width="5.4" height="3.2" rx="1.2" fill="#a01c28" opacity="0.65"/><rect x="125.2" y="91.5" width="5.4" height="3.3" rx="1.2" fill="#30b84a" opacity="0.66"/><rect x="131.6" y="92.4" width="5.5" height="3.3" rx="1.2" fill="#e0403a" opacity="0.45"/><rect x="138" y="93.3" width="5.5" height="3.3" rx="1.2" fill="#30b84a" opacity="0.81"/><rect x="144.4" y="94.2" width="5.5" height="3.3" rx="1.2" fill="#e0403a" opacity="0.48"/><rect x="150.8" y="95.1" width="5.6" height="3.3" rx="1.2" fill="#5ac040" opacity="0.83"/><rect x="157.2" y="96" width="5.6" height="3.3" rx="1.2" fill="#d02a30" opacity="0.87"/><rect x="170" y="97.8" width="5.6" height="3.4" rx="1.2" fill="#e0403a" opacity="0.67"/><rect x="182.8" y="99.6" width="5.7" height="3.4" rx="1.2" fill="#38a8f0" opacity="0.89"/><rect x="189.2" y="100.5" width="5.7" height="3.4" rx="1.2" fill="#2060c8" opacity="0.72"/><rect x="195.6" y="101.4" width="5.7" height="3.4" rx="1.2" fill="#a01c28" opacity="0.68"/><rect x="202" y="102.3" width="5.8" height="3.5" rx="1.2" fill="#38a8f0" opacity="0.69"/><rect x="208.4" y="103.2" width="5.8" height="3.5" rx="1.2" fill="#b8222c" opacity="0.69"/><rect x="214.8" y="104.1" width="5.8" height="3.5" rx="1.2" fill="#e0403a" opacity="0.65"/><rect x="74.8" y="90.5" width="5.4" height="3.3" rx="1.2" fill="#d02a30" opacity="0.53"/><rect x="94" y="93.2" width="5.5" height="3.3" rx="1.2" fill="#b8222c" opacity="0.68"/><rect x="100.4" y="94.1" width="5.5" height="3.3" rx="1.2" fill="#30b84a" opacity="0.57"/><rect x="113.2" y="95.9" width="5.6" height="3.3" rx="1.2" fill="#e0403a" opacity="0.58"/><rect x="119.6" y="96.8" width="5.6" height="3.4" rx="1.2" fill="#38a8f0" opacity="0.64"/><rect x="126" y="97.7" width="5.6" height="3.4" rx="1.2" fill="#e0403a" opacity="0.62"/><rect x="145.2" y="100.4" width="5.7" height="3.4" rx="1.2" fill="#b8222c" opacity="0.50"/><rect x="151.6" y="101.3" width="5.7" height="3.4" rx="1.2" fill="#a01c28" opacity="0.67"/><rect x="164.4" y="103.1" width="5.8" height="3.5" rx="1.2" fill="#5ac040" opacity="0.80"/><rect x="170.8" y="104" width="5.8" height="3.5" rx="1.2" fill="#a01c28" opacity="0.45"/><rect x="177.2" y="104.9" width="5.8" height="3.5" rx="1.2" fill="#2060c8" opacity="0.88"/><rect x="183.6" y="105.8" width="5.9" height="3.5" rx="1.2" fill="#d02a30" opacity="0.56"/><rect x="196.4" y="107.6" width="5.9" height="3.5" rx="1.2" fill="#a01c28" opacity="0.49"/><rect x="202.8" y="108.5" width="5.9" height="3.6" rx="1.2" fill="#b8222c" opacity="0.57"/><rect x="209.2" y="109.4" width="6" height="3.6" rx="1.2" fill="#38a8f0" opacity="0.93"/><rect x="215.6" y="110.3" width="6" height="3.6" rx="1.2" fill="#a01c28" opacity="0.80"/><rect x="82" y="97.6" width="5.6" height="3.4" rx="1.2" fill="#a01c28" opacity="0.58"/><rect x="88.4" y="98.5" width="5.7" height="3.4" rx="1.2" fill="#e0403a" opacity="0.95"/><rect x="107.6" y="101.2" width="5.7" height="3.4" rx="1.2" fill="#b8222c" opacity="0.72"/><rect x="120.4" y="103" width="5.8" height="3.5" rx="1.2" fill="#30b84a" opacity="0.70"/><rect x="126.8" y="103.9" width="5.8" height="3.5" rx="1.2" fill="#e0403a" opacity="0.56"/><rect x="133.2" y="104.8" width="5.8" height="3.5" rx="1.2" fill="#a01c28" opacity="0.47"/><rect x="139.6" y="105.7" width="5.9" height="3.5" rx="1.2" fill="#a01c28" opacity="0.55"/><rect x="146" y="106.6" width="5.9" height="3.5" rx="1.2" fill="#2a8ee8" opacity="0.70"/><rect x="158.8" y="108.4" width="5.9" height="3.6" rx="1.2" fill="#a01c28" opacity="0.56"/><rect x="165.2" y="109.3" width="6" height="3.6" rx="1.2" fill="#a01c28" opacity="0.76"/><rect x="171.6" y="110.2" width="6" height="3.6" rx="1.2" fill="#d02a30" opacity="0.92"/><rect x="184.4" y="112" width="6" height="3.6" rx="1.2" fill="#b8222c" opacity="0.66"/><rect x="190.8" y="112.9" width="6.1" height="3.6" rx="1.2" fill="#a01c28" opacity="0.90"/><rect x="197.2" y="113.8" width="6.1" height="3.7" rx="1.2" fill="#2a8ee8" opacity="0.92"/><rect x="203.6" y="114.7" width="6.1" height="3.7" rx="1.2" fill="#a01c28" opacity="0.47"/><rect x="210" y="115.6" width="6.2" height="3.7" rx="1.2" fill="#e0403a" opacity="0.94"/><rect x="216.4" y="116.5" width="6.2" height="3.7" rx="1.2" fill="#d02a30" opacity="0.59"/><rect x="70" y="102" width="5.8" height="3.5" rx="1.2" fill="#30b84a" opacity="0.64"/><rect x="76.4" y="102.9" width="5.8" height="3.5" rx="1.2" fill="#a01c28" opacity="0.49"/><rect x="82.8" y="103.8" width="5.8" height="3.5" rx="1.2" fill="#a01c28" opacity="0.55"/><rect x="89.2" y="104.7" width="5.8" height="3.5" rx="1.2" fill="#5ac040" opacity="0.57"/><rect x="95.6" y="105.6" width="5.9" height="3.5" rx="1.2" fill="#a01c28" opacity="0.47"/><rect x="108.4" y="107.4" width="5.9" height="3.5" rx="1.2" fill="#d02a30" opacity="0.90"/><rect x="114.8" y="108.3" width="5.9" height="3.6" rx="1.2" fill="#d02a30" opacity="0.58"/><rect x="121.2" y="109.2" width="6" height="3.6" rx="1.2" fill="#e0403a" opacity="0.60"/><rect x="127.6" y="110.1" width="6" height="3.6" rx="1.2" fill="#2a8ee8" opacity="0.46"/><rect x="140.4" y="111.9" width="6" height="3.6" rx="1.2" fill="#38a8f0" opacity="0.84"/><rect x="146.8" y="112.8" width="6.1" height="3.6" rx="1.2" fill="#b8222c" opacity="0.91"/><rect x="159.6" y="114.6" width="6.1" height="3.7" rx="1.2" fill="#b8222c" opacity="0.75"/><rect x="166" y="115.5" width="6.1" height="3.7" rx="1.2" fill="#e0403a" opacity="0.84"/><rect x="172.4" y="116.4" width="6.2" height="3.7" rx="1.2" fill="#a01c28" opacity="0.83"/><rect x="198" y="120" width="6.3" height="3.8" rx="1.2" fill="#a01c28" opacity="0.89"/><rect x="204.4" y="120.9" width="6.3" height="3.8" rx="1.2" fill="#d02a30" opacity="0.55"/><rect x="210.8" y="121.8" width="6.3" height="3.8" rx="1.2" fill="#38a8f0" opacity="0.54"/><rect x="70.8" y="108.2" width="5.9" height="3.6" rx="1.2" fill="#30b84a" opacity="0.84"/><rect x="109.2" y="113.6" width="6.1" height="3.7" rx="1.2" fill="#2a8ee8" opacity="0.53"/><rect x="115.6" y="114.5" width="6.1" height="3.7" rx="1.2" fill="#38a8f0" opacity="0.48"/><rect x="134.8" y="117.2" width="6.2" height="3.7" rx="1.2" fill="#2a8ee8" opacity="0.78"/><rect x="141.2" y="118.1" width="6.2" height="3.7" rx="1.2" fill="#38a8f0" opacity="0.89"/><rect x="154" y="119.9" width="6.3" height="3.8" rx="1.2" fill="#38a8f0" opacity="0.57"/><rect x="166.8" y="121.7" width="6.3" height="3.8" rx="1.2" fill="#30b84a" opacity="0.64"/><rect x="173.2" y="122.6" width="6.4" height="3.8" rx="1.2" fill="#e0403a" opacity="0.84"/><rect x="179.6" y="123.5" width="6.4" height="3.8" rx="1.2" fill="#e0403a" opacity="0.56"/><rect x="186" y="124.4" width="6.4" height="3.8" rx="1.2" fill="#b8222c" opacity="0.95"/><rect x="198.8" y="126.2" width="6.5" height="3.9" rx="1.2" fill="#2a8ee8" opacity="0.86"/><rect x="205.2" y="127.1" width="6.5" height="3.9" rx="1.2" fill="#e0403a" opacity="0.49"/><rect x="71.6" y="114.4" width="6.1" height="3.7" rx="1.2" fill="#38a8f0" opacity="0.50"/><rect x="78" y="115.3" width="6.1" height="3.7" rx="1.2" fill="#2060c8" opacity="0.72"/><rect x="84.4" y="116.2" width="6.2" height="3.7" rx="1.2" fill="#38a8f0" opacity="0.65"/><rect x="103.6" y="118.9" width="6.2" height="3.7" rx="1.2" fill="#2060c8" opacity="0.89"/><rect x="110" y="119.8" width="6.3" height="3.8" rx="1.2" fill="#38a8f0" opacity="0.77"/><rect x="116.4" y="120.7" width="6.3" height="3.8" rx="1.2" fill="#2a8ee8" opacity="0.67"/><rect x="142" y="124.3" width="6.4" height="3.8" rx="1.2" fill="#2a8ee8" opacity="0.51"/><rect x="161.2" y="127" width="6.5" height="3.9" rx="1.2" fill="#e0403a" opacity="0.82"/><rect x="174" y="128.8" width="6.5" height="3.9" rx="1.2" fill="#b8222c" opacity="0.91"/><rect x="186.8" y="130.6" width="6.6" height="4" rx="1.2" fill="#2a8ee8" opacity="0.60"/><rect x="193.2" y="131.5" width="6.6" height="4" rx="1.2" fill="#a01c28" opacity="0.61"/><rect x="199.6" y="132.4" width="6.6" height="4" rx="1.2" fill="#2a8ee8" opacity="0.90"/><rect x="72.4" y="120.6" width="6.3" height="3.8" rx="1.2" fill="#b8222c" opacity="0.77"/><rect x="78.8" y="121.5" width="6.3" height="3.8" rx="1.2" fill="#2060c8" opacity="0.87"/><rect x="85.2" y="122.4" width="6.3" height="3.8" rx="1.2" fill="#2a8ee8" opacity="0.47"/><rect x="91.6" y="123.3" width="6.4" height="3.8" rx="1.2" fill="#38a8f0" opacity="0.51"/><rect x="104.4" y="125.1" width="6.4" height="3.9" rx="1.2" fill="#d02a30" opacity="0.89"/><rect x="110.8" y="126" width="6.5" height="3.9" rx="1.2" fill="#2060c8" opacity="0.87"/><rect x="123.6" y="127.8" width="6.5" height="3.9" rx="1.2" fill="#2060c8" opacity="0.84"/><rect x="130" y="128.7" width="6.5" height="3.9" rx="1.2" fill="#2a8ee8" opacity="0.66"/><rect x="136.4" y="129.6" width="6.6" height="3.9" rx="1.2" fill="#38a8f0" opacity="0.54"/><rect x="149.2" y="131.4" width="6.6" height="4" rx="1.2" fill="#38a8f0" opacity="0.83"/><rect x="155.6" y="132.3" width="6.6" height="4" rx="1.2" fill="#2a8ee8" opacity="0.86"/><rect x="73.2" y="126.8" width="6.5" height="3.9" rx="1.2" fill="#38a8f0" opacity="0.67"/><rect x="86" y="128.6" width="6.5" height="3.9" rx="1.2" fill="#2a8ee8" opacity="0.47"/><rect x="98.8" y="130.4" width="6.6" height="3.9" rx="1.2" fill="#2060c8" opacity="0.71"/><rect x="111.6" y="132.2" width="6.6" height="4" rx="1.2" fill="#2a8ee8" opacity="0.46"/><ellipse cx="92" cy="108" rx="5" ry="3" fill="#d8e040" opacity="0.9"/></g><path d="M150,42L196,42L200,46L176,45Z" fill="#4cc8f4" opacity="0.35"/><path d="M181,42L189,42L216,88L216,104Z" fill="#4cc8f4" opacity="0.85"/><path d="M186,78L190,78L212,124L208,124Z" fill="#2f7fc8" opacity="0.5"/></g><circle cx="109.2" cy="72.1" r="10.6" fill="#c5d9ee"/><path d="M92.4,103.2V92Q92.4,81.4 104,81.4H114Q125.3,81.4 125.3,92V103.2Z" fill="#c5d9ee"/><circle cx="163.3" cy="72.1" r="10.6" fill="#c5d9ee"/><path d="M147,103.2V92Q147,81.4 158,81.4H169Q180,81.4 180,92V103.2Z" fill="#c5d9ee"/><circle cx="136.5" cy="77" r="12.4" fill="#8aa6d6" stroke="#1c2230" stroke-width="1.3"/><path d="M116.6,113.8V98Q116.6,88.3 127,88.3H146Q156.5,88.3 156.5,98V113.8Z" fill="#8aa6d6" stroke="#1c2230" stroke-width="1.3"/><circle cx="136.5" cy="77" r="11.8" fill="#8aa6d6"/><path d="M98.9,91V97" stroke="#3a4050" stroke-width="0.8"/><path d="M105.1,91V97" stroke="#3a4050" stroke-width="0.8"/><path d="M110.9,91V97" stroke="#3a4050" stroke-width="0.8"/><path d="M117.1,91V97" stroke="#3a4050" stroke-width="0.8"/><path d="M96,90C102,90 102,98 108,98C114,98 114,90 120,90" stroke="#2a3040" stroke-width="1.6" fill="none"/><path d="M96,98C102,98 102,90 108,90C114,90 114,98 120,98" stroke="#2e6a50" stroke-width="1.4" fill="none"/><path d="M154.9,91V97" stroke="#3a4050" stroke-width="0.8"/><path d="M161.1,91V97" stroke="#3a4050" stroke-width="0.8"/><path d="M166.9,91V97" stroke="#3a4050" stroke-width="0.8"/><path d="M173.1,91V97" stroke="#3a4050" stroke-width="0.8"/><path d="M152,90C158,90 158,98 164,98C170,98 170,90 176,90" stroke="#2a3040" stroke-width="1.6" fill="none"/><path d="M152,98C158,98 158,90 164,90C170,90 170,98 176,98" stroke="#2e6a50" stroke-width="1.4" fill="none"/><path d="M125.9,100.5V107.5" stroke="#3a4050" stroke-width="0.8"/><path d="M133.1,100.5V107.5" stroke="#3a4050" stroke-width="0.8"/><path d="M139.9,100.5V107.5" stroke="#3a4050" stroke-width="0.8"/><path d="M147.1,100.5V107.5" stroke="#3a4050" stroke-width="0.8"/><path d="M122.5,99.5C129.5,99.5 129.5,108.5 136.5,108.5C143.5,108.5 143.5,99.5 150.5,99.5" stroke="#2a3040" stroke-width="1.6" fill="none"/><path d="M122.5,108.5C129.5,108.5 129.5,99.5 136.5,99.5C143.5,99.5 143.5,108.5 150.5,108.5" stroke="#2e6a50" stroke-width="1.4" fill="none"/><text x="84.9" y="52.8" font-family="Liberation Serif" font-size="14.5" fill="#f2f2f2" textLength="112.6" lengthAdjust="spacingAndGlyphs">Reference genome</text><g font-family="Liberation Sans" fill="#9aa6b8"><text x="218.4" y="65.5" font-size="10" transform="scale(1,1)" textLength="3.3" lengthAdjust="spacingAndGlyphs">A</text><text x="223.9" y="65.2" font-size="10.4" transform="scale(1,1)" textLength="3.4" lengthAdjust="spacingAndGlyphs">T</text><text x="229.4" y="65" font-size="10.8" transform="scale(1,1)" textLength="3.5" lengthAdjust="spacingAndGlyphs">A</text><text x="234.9" y="64.7" font-size="11.2" transform="scale(1,1)" textLength="3.6" lengthAdjust="spacingAndGlyphs">T</text><text x="240.4" y="64.5" font-size="11.7" transform="scale(1,1)" textLength="3.7" lengthAdjust="spacingAndGlyphs">C</text><text x="245.9" y="64.2" font-size="12.1" transform="scale(1,1)" textLength="3.9" lengthAdjust="spacingAndGlyphs">A</text><text x="251.4" y="64" font-size="12.5" transform="scale(1,1)" textLength="4" lengthAdjust="spacingAndGlyphs">T</text><text x="257" y="63.7" font-size="12.9" transform="scale(1,1)" textLength="4.1" lengthAdjust="spacingAndGlyphs">G</text><text x="262.5" y="63.4" font-size="13.3" transform="scale(1,1)" textLength="4.2" lengthAdjust="spacingAndGlyphs">C</text><text x="268" y="63.2" font-size="13.8" transform="scale(1,1)" textLength="4.3" lengthAdjust="spacingAndGlyphs">G</text><text x="273.5" y="62.9" font-size="14.2" transform="scale(1,1)" textLength="4.4" lengthAdjust="spacingAndGlyphs">C</text><text x="279" y="62.7" font-size="14.6" transform="scale(1,1)" textLength="4.5" lengthAdjust="spacingAndGlyphs">A</text><text x="284.5" y="62.4" font-size="15" transform="scale(1,1)" textLength="4.6" lengthAdjust="spacingAndGlyphs">T</text><text x="218" y="75.6" font-size="10" transform="scale(1,1)" textLength="3.6" lengthAdjust="spacingAndGlyphs">A</text><text x="224" y="75.7" font-size="10.3" transform="scale(1,1)" textLength="3.7" lengthAdjust="spacingAndGlyphs">A</text><text x="230" y="75.7" font-size="10.6" transform="scale(1,1)" textLength="3.8" lengthAdjust="spacingAndGlyphs">A</text><text x="236" y="75.8" font-size="11" transform="scale(1,1)" textLength="4" lengthAdjust="spacingAndGlyphs">T</text><text x="242" y="75.9" font-size="11.3" transform="scale(1,1)" textLength="4.1" lengthAdjust="spacingAndGlyphs">A</text><text x="248" y="76" font-size="11.6" transform="scale(1,1)" textLength="4.2" lengthAdjust="spacingAndGlyphs">T</text><text x="254" y="76" font-size="11.9" transform="scale(1,1)" textLength="4.4" lengthAdjust="spacingAndGlyphs">C</text><text x="260" y="76.1" font-size="12.2" transform="scale(1,1)" textLength="4.5" lengthAdjust="spacingAndGlyphs">A</text><text x="266" y="76.2" font-size="12.5" transform="scale(1,1)" textLength="4.6" lengthAdjust="spacingAndGlyphs">T</text><text x="272" y="76.3" font-size="12.9" transform="scale(1,1)" textLength="4.8" lengthAdjust="spacingAndGlyphs">G</text><text x="278" y="76.3" font-size="13.2" transform="scale(1,1)" textLength="4.9" lengthAdjust="spacingAndGlyphs">C</text><text x="284" y="76.4" font-size="13.5" transform="scale(1,1)" textLength="5" lengthAdjust="spacingAndGlyphs">G</text><text x="219" y="85" font-size="10" transform="scale(1,1)" textLength="3.4" lengthAdjust="spacingAndGlyphs">T</text><text x="224.8" y="85.5" font-size="10.2" transform="scale(1,1)" textLength="3.6" lengthAdjust="spacingAndGlyphs">A</text><text x="230.6" y="85.9" font-size="10.4" transform="scale(1,1)" textLength="3.7" lengthAdjust="spacingAndGlyphs">T</text><text x="236.5" y="86.4" font-size="10.5" transform="scale(1,1)" textLength="3.8" lengthAdjust="spacingAndGlyphs">C</text><text x="242.3" y="86.9" font-size="10.7" transform="scale(1,1)" textLength="4" lengthAdjust="spacingAndGlyphs">A</text><text x="248.1" y="87.4" font-size="10.9" transform="scale(1,1)" textLength="4.1" lengthAdjust="spacingAndGlyphs">T</text><text x="253.9" y="87.8" font-size="11.1" transform="scale(1,1)" textLength="4.2" lengthAdjust="spacingAndGlyphs">G</text><text x="259.7" y="88.3" font-size="11.3" transform="scale(1,1)" textLength="4.4" lengthAdjust="spacingAndGlyphs">C</text><text x="265.5" y="88.8" font-size="11.5" transform="scale(1,1)" textLength="4.5" lengthAdjust="spacingAndGlyphs">G</text><text x="271.4" y="89.3" font-size="11.6" transform="scale(1,1)" textLength="4.6" lengthAdjust="spacingAndGlyphs">C</text><text x="277.2" y="89.7" font-size="11.8" transform="scale(1,1)" textLength="4.8" lengthAdjust="spacingAndGlyphs">A</text><text x="283" y="90.2" font-size="12" transform="scale(1,1)" textLength="4.9" lengthAdjust="spacingAndGlyphs">T</text></g><path d="M138,131.5V292.6H229" stroke="#8c8c8c" stroke-width="1" stroke-dasharray="3,2" fill="none"/><g transform="translate(147.2,166.3)"><path d="M0,-6.5C0.9,-2.2 2.2,-0.9 6.5,0C2.2,0.9 0.9,2.2 0,6.5C-0.9,2.2 -2.2,0.9 -6.5,0C-2.2,-0.9 -0.9,-2.2 0,-6.5Z" fill="#222"/></g><text x="157" y="169" font-family="Liberation Serif" font-size="13.4" fill="#1e1e1e" textLength="115" lengthAdjust="spacingAndGlyphs">Sequence variations</text><text x="143.8" y="186.3" font-family="Liberation Serif" font-size="13.4" fill="#1e1e1e" textLength="128.8" lengthAdjust="spacingAndGlyphs">within the protospacer</text><text x="143.8" y="203.6" font-family="Liberation Serif" font-size="13.4" fill="#1e1e1e" textLength="107" lengthAdjust="spacingAndGlyphs">(including the seed</text><text x="143.8" y="220.9" font-family="Liberation Serif" font-size="13.4" fill="#1e1e1e" textLength="95" lengthAdjust="spacingAndGlyphs">region) eliminate</text><text x="143.8" y="238.2" font-family="Liberation Serif" font-size="13.4" fill="#1e1e1e" textLength="96" lengthAdjust="spacingAndGlyphs">gRNA efficiency.</text><g stroke="#8c8c8c" fill="none" stroke-width="0.9" stroke-linecap="round"><path d="M217.6,120.3C223,115 227,111 229.4,107C232,101 234,97 238.6,92.4C243,92 246,92.5 249.9,93.7C254,95 258,96 261,98.5C263,100.5 265,103 268.3,105L276,107.6"/><path d="M237,123.9C242,120 246,117 249.9,114.7C253,112.5 255,111 258,110C261,109 263,108 265.5,106.5"/><path d="M245,99.5L248,103.5L251,101L253,104.5L256,102.5M247,106L251.5,105L255,107.5M257.5,104.5L260,103L262,105.5L258.5,108.5"/></g><path d="M268,105.2L276.5,107.8" stroke="#555" stroke-width="1.4"/><text x="279" y="109" font-family="Liberation Serif" font-size="13" font-weight="bold" fill="#1a1a1a" textLength="269" lengthAdjust="spacingAndGlyphs">On-target design based on the reference genome</text><text x="297.5" y="140.7" font-family="Liberation Serif" font-size="12" fill="#7a7a7a" textLength="211" lengthAdjust="spacingAndGlyphs">3' TAATAGCTCTGAACATTCCCACC 5'</text></g><g transform="translate(669.5,0)"><g fill="#d9e3f0" stroke="#d6e0ee" stroke-width="2.2"><ellipse cx="320.6" cy="285.3" rx="88.4" ry="80.8"/><ellipse cx="414.1" cy="248.4" rx="29.8" ry="36.3"/><ellipse cx="479.1" cy="261.2" rx="50.3" ry="46.7"/><ellipse cx="251.3" cy="364.5" rx="45.5" ry="69"/><ellipse cx="329.5" cy="446.6" rx="60.5" ry="64.2"/><path d="M423.6,506.4A88.6,63.4 143.4 1 1 565.8,400.8A88.6,63.4 143.4 1 1 423.6,506.4Z"/><path d="M250,300L320,250L414,262L479,270L529.5,268C536,290 540,300 544,310L558,345L569,380L572.6,406L574,432L545,470L442.6,420L442.6,407L386.4,407L386.4,420L330,420L255,410L222,360Z"/></g><g fill="url(#blobg)"><ellipse cx="320.6" cy="285.3" rx="88.4" ry="80.8"/><ellipse cx="414.1" cy="248.4" rx="29.8" ry="36.3"/><ellipse cx="479.1" cy="261.2" rx="50.3" ry="46.7"/><ellipse cx="251.3" cy="364.5" rx="45.5" ry="69"/><ellipse cx="329.5" cy="446.6" rx="60.5" ry="64.2"/><path d="M423.6,506.4A88.6,63.4 143.4 1 1 565.8,400.8A88.6,63.4 143.4 1 1 423.6,506.4Z"/><path d="M250,300L320,250L414,262L479,270L529.5,268C536,290 540,300 544,310L558,345L569,380L572.6,406L574,432L545,470L442.6,420L442.6,407L386.4,407L386.4,420L330,420L255,410L222,360Z"/></g><path d="M129,346V354" stroke="#16135e" stroke-width="1.7"/><path d="M129,354V362" stroke="#2aa2c8" stroke-width="1.7"/><path d="M136.7,346V354" stroke="#16135e" stroke-width="1.7"/><path d="M136.7,354V362" stroke="#2aa2c8" stroke-width="1.7"/><path d="M158.4,344.5V354.8" stroke="#0c5690" stroke-width="1.7"/><path d="M158.4,354.8V365" stroke="#2aa2c8" stroke-width="1.7"/><path d="M166,344V354" stroke="#0c5690" stroke-width="1.7"/><path d="M166,354V364" stroke="#2aa2c8" stroke-width="1.7"/><path d="M187,343.5V356.2" stroke="#16135e" stroke-width="1.7"/><path d="M187,356.2V369" stroke="#2aa2c8" stroke-width="1.7"/><path d="M193.5,344V356.8" stroke="#16135e" stroke-width="1.7"/><path d="M193.5,356.8V369.5" stroke="#2aa2c8" stroke-width="1.7"/><path d="M66.7,348.4C68.3,351.5 69.8,352.8 73,352.8" stroke="#16135e" stroke-width="1.0" fill="none" stroke-linecap="round"/><path d="M66.7,348.4C68.3,349.7 69.8,350.2 73,350.2" stroke="#0c5690" stroke-width="1.0" fill="none" stroke-linecap="round"/><path d="M73,352.8C76.5,352.8 78.2,353.3 80,354.6" stroke="#16135e" stroke-width="1.0" fill="none" stroke-linecap="round"/><path d="M73,350.2C76.5,350.2 78.2,351.5 80,354.6" stroke="#0c5690" stroke-width="1.0" fill="none" stroke-linecap="round"/><path d="M80,354.6C81.8,353.2 83.5,352.6 87,352.6" stroke="#16135e" stroke-width="1.8" fill="none" stroke-linecap="round"/><path d="M80,354.6C81.8,357.9 83.5,359.3 87,359.3" stroke="#0c5690" stroke-width="1.8" fill="none" stroke-linecap="round"/><path d="M87,352.6C90.5,352.6 92.2,354.1 94,357.5" stroke="#16135e" stroke-width="1.8" fill="none" stroke-linecap="round"/><path d="M87,359.3C90.5,359.3 92.2,358.8 94,357.5" stroke="#0c5690" stroke-width="1.8" fill="none" stroke-linecap="round"/><path d="M94,357.5C97,359.6 100,360.5 106,360.5" stroke="#16135e" stroke-width="2.8" fill="none" stroke-linecap="round"/><path d="M94,357.5C97,348.5 100,344.6 106,344.6" stroke="#0c5690" stroke-width="2.8" fill="none" stroke-linecap="round"/><path d="M106,360.5C112,360.5 115,356.9 118,348.5" stroke="#16135e" stroke-width="2.8" fill="none" stroke-linecap="round"/><path d="M106,344.6C112,344.6 115,345.8 118,348.5" stroke="#0c5690" stroke-width="2.8" fill="none" stroke-linecap="round"/><path d="M118,348.5C121.8,344.5 125.5,342.8 133,342.8" stroke="#16135e" stroke-width="3.4" fill="none" stroke-linecap="round"/><path d="M118,348.5C121.8,359.7 125.5,364.5 133,364.5" stroke="#0c5690" stroke-width="3.4" fill="none" stroke-linecap="round"/><path d="M133,342.8C140.4,342.8 144.1,347.9 147.8,359.8" stroke="#16135e" stroke-width="3.4" fill="none" stroke-linecap="round"/><path d="M133,364.5C140.4,364.5 144.1,363.1 147.8,359.8" stroke="#0c5690" stroke-width="3.4" fill="none" stroke-linecap="round"/><path d="M147.8,359.8C151.3,365.2 154.9,367.5 161.9,367.5" stroke="#16135e" stroke-width="3.9" fill="none" stroke-linecap="round"/><path d="M147.8,359.8C151.3,346.5 154.9,340.8 161.9,340.8" stroke="#0c5690" stroke-width="3.9" fill="none" stroke-linecap="round"/><path d="M161.9,367.5C168.9,367.5 172.5,361.4 176,347.3" stroke="#16135e" stroke-width="3.9" fill="none" stroke-linecap="round"/><path d="M161.9,340.8C168.9,340.8 172.5,342.8 176,347.3" stroke="#0c5690" stroke-width="3.9" fill="none" stroke-linecap="round"/><path d="M176,347.3C179.8,341.8 183.7,339.5 191.3,339.5" stroke="#16135e" stroke-width="4.4" fill="none" stroke-linecap="round"/><path d="M176,347.3C179.8,364.4 183.7,371.8 191.3,371.8" stroke="#0c5690" stroke-width="4.4" fill="none" stroke-linecap="round"/><path d="M191.3,339.5C198.9,339.5 202.8,347.4 206.6,366" stroke="#16135e" stroke-width="4.4" fill="none" stroke-linecap="round"/><path d="M191.3,371.8C198.9,371.8 202.8,370.1 206.6,366" stroke="#0c5690" stroke-width="4.4" fill="none" stroke-linecap="round"/><path d="M565.4,342V355.5" stroke="#16135e" stroke-width="1.7"/><path d="M565.4,355.5V369" stroke="#2aa2c8" stroke-width="1.7"/><path d="M574.2,342V355" stroke="#16135e" stroke-width="1.7"/><path d="M574.2,355V368" stroke="#2aa2c8" stroke-width="1.7"/><path d="M595,344V355" stroke="#0c5690" stroke-width="1.7"/><path d="M595,355V366" stroke="#2aa2c8" stroke-width="1.7"/><path d="M602,344V354.8" stroke="#0c5690" stroke-width="1.7"/><path d="M602,354.8V365.5" stroke="#2aa2c8" stroke-width="1.7"/><path d="M622.6,345.5V354.8" stroke="#16135e" stroke-width="1.7"/><path d="M622.6,354.8V364" stroke="#2aa2c8" stroke-width="1.7"/><path d="M630.5,345V354" stroke="#16135e" stroke-width="1.7"/><path d="M630.5,354V363" stroke="#2aa2c8" stroke-width="1.7"/><path d="M556,366C559.8,347.3 563.5,339.3 571,339.3" stroke="#16135e" stroke-width="4.4" fill="none" stroke-linecap="round"/><path d="M556,366C559.8,370.2 563.5,372 571,372" stroke="#0c5690" stroke-width="4.4" fill="none" stroke-linecap="round"/><path d="M571,339.3C578.8,339.3 582.6,342.2 586.5,349" stroke="#16135e" stroke-width="4.4" fill="none" stroke-linecap="round"/><path d="M571,372C578.8,372 582.6,365.1 586.5,349" stroke="#0c5690" stroke-width="4.4" fill="none" stroke-linecap="round"/><path d="M586.5,349C590,362.5 593.5,368.3 600.6,368.3" stroke="#16135e" stroke-width="3.9" fill="none" stroke-linecap="round"/><path d="M586.5,349C590,343.4 593.5,341 600.6,341" stroke="#0c5690" stroke-width="3.9" fill="none" stroke-linecap="round"/><path d="M600.6,368.3C607.7,368.3 611.2,366.7 614.7,363" stroke="#16135e" stroke-width="3.9" fill="none" stroke-linecap="round"/><path d="M600.6,341C607.7,341 611.2,347.6 614.7,363" stroke="#0c5690" stroke-width="3.9" fill="none" stroke-linecap="round"/><path d="M614.7,363C618.2,348.9 621.7,342.8 628.7,342.8" stroke="#16135e" stroke-width="3.3" fill="none" stroke-linecap="round"/><path d="M614.7,363C618.2,365.4 621.7,366.5 628.7,366.5" stroke="#0c5690" stroke-width="3.3" fill="none" stroke-linecap="round"/><path d="M628.7,342.8C635.8,342.8 639.3,344.7 642.8,349" stroke="#16135e" stroke-width="3.3" fill="none" stroke-linecap="round"/><path d="M628.7,366.5C635.8,366.5 639.3,361.2 642.8,349" stroke="#0c5690" stroke-width="3.3" fill="none" stroke-linecap="round"/><path d="M642.8,349C645.6,357.6 648.5,361.3 654.2,361.3" stroke="#16135e" stroke-width="2.6" fill="none" stroke-linecap="round"/><path d="M642.8,349C645.6,345.9 648.5,344.6 654.2,344.6" stroke="#0c5690" stroke-width="2.6" fill="none" stroke-linecap="round"/><path d="M654.2,361.3C659.9,361.3 662.8,359.1 665.6,354" stroke="#16135e" stroke-width="2.6" fill="none" stroke-linecap="round"/><path d="M654.2,344.6C659.9,344.6 662.8,347.4 665.6,354" stroke="#0c5690" stroke-width="2.6" fill="none" stroke-linecap="round"/><path d="M665.6,354C667.4,351.6 669.1,350.5 672.6,350.5" stroke="#16135e" stroke-width="1.7" fill="none" stroke-linecap="round"/><path d="M665.6,354C667.4,357.1 669.1,358.5 672.6,358.5" stroke="#0c5690" stroke-width="1.7" fill="none" stroke-linecap="round"/><path d="M672.6,350.5C676.2,350.5 677.9,351.9 679.7,355" stroke="#16135e" stroke-width="1.7" fill="none" stroke-linecap="round"/><path d="M672.6,358.5C676.2,358.5 677.9,357.4 679.7,355" stroke="#0c5690" stroke-width="1.7" fill="none" stroke-linecap="round"/><path d="M679.7,355C681.5,353.6 683.2,353 686.7,353" stroke="#16135e" stroke-width="1.0" fill="none" stroke-linecap="round"/><path d="M679.7,355C681.5,352.6 683.2,351.5 686.7,351.5" stroke="#0c5690" stroke-width="1.0" fill="none" stroke-linecap="round"/><path d="M686.7,353C690.2,353 692,351.5 693.7,348" stroke="#16135e" stroke-width="1.0" fill="none" stroke-linecap="round"/><path d="M686.7,351.5C690.2,351.5 692,350.4 693.7,348" stroke="#0c5690" stroke-width="1.0" fill="none" stroke-linecap="round"/><path d="M215.7,338V355" stroke="#0c5690" stroke-width="2.6"/><path d="M215.7,355V372.5" stroke="#071d7e" stroke-width="2.6"/><path d="M226,338V355" stroke="#0c5690" stroke-width="2.6"/><path d="M226,355V372.5" stroke="#071d7e" stroke-width="2.6"/><path d="M236.3,338V355" stroke="#0c5690" stroke-width="2.6"/><path d="M236.3,355V372.5" stroke="#071d7e" stroke-width="2.6"/><path d="M246.5,338V355" stroke="#0c5690" stroke-width="2.6"/><path d="M246.5,355V372.5" stroke="#071d7e" stroke-width="2.6"/><path d="M515,338.5V356" stroke="#0c5690" stroke-width="2.6"/><path d="M515,358V373.8" stroke="#071d7e" stroke-width="2.6"/><path d="M528,338.5V356" stroke="#0c5690" stroke-width="2.6"/><path d="M528,358V373.8" stroke="#071d7e" stroke-width="2.6"/><path d="M537.5,338.5V356" stroke="#0c5690" stroke-width="2.6"/><path d="M537.5,358V373.8" stroke="#071d7e" stroke-width="2.6"/><path d="M545.9,338.5V356" stroke="#0c5690" stroke-width="2.6"/><path d="M545.9,358V373.8" stroke="#071d7e" stroke-width="2.6"/><path d="M260.7,334L268.4,346.3" stroke="#0c5690" stroke-width="2.7"/><path d="M269.6,326.2L280.3,336" stroke="#0c5690" stroke-width="2.7"/><path d="M278,317.3L287.9,328" stroke="#0c5690" stroke-width="2.7"/><path d="M287.9,310.9L293,324.5" stroke="#0c5690" stroke-width="2.7"/><path d="M299.6,309.2L299.6,323.7" stroke="#0c5690" stroke-width="2.7"/><path d="M311.9,309.2L311.9,323.7" stroke="#0c5690" stroke-width="2.7"/><path d="M324.1,309.2L324.1,323.7" stroke="#0c5690" stroke-width="2.7"/><path d="M336.3,309.2L336.3,323.7" stroke="#0c5690" stroke-width="2.7"/><path d="M347.7,309.2L347.7,323.7" stroke="#0c5690" stroke-width="2.7"/><path d="M359.9,309.2L359.9,323.7" stroke="#0c5690" stroke-width="2.7"/><path d="M372.2,309.2L372.2,323.7" stroke="#0c5690" stroke-width="2.7"/><path d="M384.4,309.2L384.4,323.7" stroke="#0c5690" stroke-width="2.7"/><path d="M395.8,309.2L395.8,323.7" stroke="#0c5690" stroke-width="2.7"/><path d="M408,309.2L408,323.7" stroke="#0c5690" stroke-width="2.7"/><path d="M420.2,309.2L420.2,323.7" stroke="#0c5690" stroke-width="2.7"/><path d="M431.7,309.2L431.7,323.7" stroke="#0c5690" stroke-width="2.7"/><path d="M443.9,309.2L443.9,323.7" stroke="#0c5690" stroke-width="2.7"/><path d="M456.1,309.2L456.1,323.7" stroke="#0c5690" stroke-width="2.7"/><path d="M467.7,309.9L464.7,324.1" stroke="#0c5690" stroke-width="2.7"/><path d="M478.6,314.6L470.4,326.6" stroke="#0c5690" stroke-width="2.7"/><path d="M487.7,322.5L477.4,332.8" stroke="#0c5690" stroke-width="2.7"/><path d="M250.4,373.1L252.5,358.8" stroke="#071d7e" stroke-width="2.7"/><path d="M261.5,377.6L269.8,365.7" stroke="#071d7e" stroke-width="2.7"/><path d="M270.1,385.7L281,376.1" stroke="#071d7e" stroke-width="2.7"/><path d="M278.3,394.6L288.3,384.1" stroke="#071d7e" stroke-width="2.7"/><path d="M288.2,401.2L293.6,387.8" stroke="#071d7e" stroke-width="2.7"/><path d="M299.8,403.2L299.8,388.7" stroke="#071d7e" stroke-width="2.7"/><path d="M312.5,403.2L312.5,388.7" stroke="#071d7e" stroke-width="2.7"/><path d="M324.4,403.2L324.4,388.7" stroke="#071d7e" stroke-width="2.7"/><path d="M336.4,403.2L336.4,388.7" stroke="#071d7e" stroke-width="2.7"/><path d="M348.3,403.2L348.3,388.7" stroke="#071d7e" stroke-width="2.7"/><path d="M360.2,403.2L360.2,388.7" stroke="#071d7e" stroke-width="2.7"/><path d="M372.1,403.2L372.1,388.7" stroke="#071d7e" stroke-width="2.7"/><path d="M384.1,403.2L384.1,388.7" stroke="#071d7e" stroke-width="2.7"/><path d="M396,403.2L396,388.7" stroke="#071d7e" stroke-width="2.7"/><path d="M407.9,403.2L407.9,388.7" stroke="#071d7e" stroke-width="2.7"/><path d="M419.8,403.2L419.8,388.7" stroke="#071d7e" stroke-width="2.7"/><path d="M432.6,403.2L432.6,388.7" stroke="#071d7e" stroke-width="2.7"/><path d="M444.5,403.2L444.5,388.7" stroke="#071d7e" stroke-width="2.7"/><path d="M456.4,403.2L456.4,388.7" stroke="#071d7e" stroke-width="2.7"/><path d="M467.8,401.7L463.5,387.9" stroke="#071d7e" stroke-width="2.7"/><path d="M478.3,396.3L469.7,384.6" stroke="#071d7e" stroke-width="2.7"/><path d="M487.5,388.3L477.5,377.8" stroke="#071d7e" stroke-width="2.7"/><path d="M206,366C208,372 212,372.5 220,372.5C228.7,372.6 237.3,372.7 246,372.8C272,372.8 272,403.2 299,403.2C352,403.2 405,403.2 458,403.2C485,403.2 490,373.8 515,373.8C525.7,373.8 536.3,373.8 547,373.8C551,373.8 553,370 556,366" stroke="#071d7e" stroke-width="5" fill="none" stroke-linejoin="round"/><path d="M206,366C210,354 213,338 221,338C229.3,338 237.7,338 246,338C272,338 272,309.2 298,309.2C352.3,309.2 406.7,309.2 461,309.2C488,309.2 490,338.5 517,338.5C525,338.5 533,338.5 541,338.5C549,338.5 552,356 556,366" stroke="#0c5690" stroke-width="4.8" fill="none" stroke-linejoin="round"/><path d="M449,361.4H498.8Q501.8,361.4 501.8,358.4V315.8H507" stroke="#1a2458" stroke-width="2.2" fill="none"/><rect x="507" y="293.3" width="10.7" height="3.8" fill="#d6f1fb"/><rect x="507" y="309.5" width="10.7" height="3.8" fill="#d6f1fb"/><path d="M507,293.6H517.7" stroke="#1a2458" stroke-width="1.1"/><path d="M507,296.8H517.7" stroke="#1a2458" stroke-width="1.1"/><path d="M507,309.8H517.7" stroke="#1a2458" stroke-width="1.1"/><path d="M507,313H517.7" stroke="#1a2458" stroke-width="1.1"/><path d="M535.3,285.5L546.4,287L542.7,300L532.4,298.5Z" fill="#d6f1fb"/><path d="M535.2,285.8L546.3,287.3" stroke="#1a2458" stroke-width="1.1"/><path d="M534.4,289.4L545.3,290.9" stroke="#1a2458" stroke-width="1.1"/><path d="M533.6,293L544.3,294.5" stroke="#1a2458" stroke-width="1.1"/><path d="M532.8,296.6L543.3,298.1" stroke="#1a2458" stroke-width="1.1"/><path d="M562.2,279.5L573.4,281L568.6,300.5L558,299Z" fill="#d6f1fb"/><path d="M562.1,280L573.3,281.5" stroke="#1a2458" stroke-width="1.1"/><path d="M561.3,283.6L572.4,285.1" stroke="#1a2458" stroke-width="1.1"/><path d="M560.5,287.2L571.5,288.7" stroke="#1a2458" stroke-width="1.1"/><path d="M559.7,290.8L570.6,292.3" stroke="#1a2458" stroke-width="1.1"/><path d="M559,294.4L569.7,295.9" stroke="#1a2458" stroke-width="1.1"/><path d="M558.2,298L568.8,299.5" stroke="#1a2458" stroke-width="1.1"/><path d="M507,316V292.3 A9.5,9.5 0 1 1 517.7,292.3 V297.5 A4.6,4.6 0 0 1 517.7,307 V313 Q518,316.5 523.3,316.5 Q528.7,316.5 529.5,311 L536,282.5 A9.5,9.5 0 1 1 547.6,282.8 L542.6,300.4 Q541,308.5 549.5,308.5 Q556,308.5 557.4,301.6 L563,275.8 A9.8,9.8 0 1 1 574,278.6 L568.2,302 Q566.5,312 576,313.5 L590.2,316.3" stroke="#1a2458" stroke-width="2.2" fill="none" stroke-linejoin="round"/><circle cx="400.1" cy="290.2" r="3.7" stroke="#2b9fd3" stroke-width="1.6" fill="none"/><circle cx="391.9" cy="300.7" r="3.7" stroke="#2b9fd3" stroke-width="1.6" fill="none"/><path d="M401.9,293.4L406.8,304M395.3,301.9L406.8,304" stroke="#2b9fd3" stroke-width="1.6"/><path d="M403.7,305.3Q413.3,308.4 423.7,308.6Q414.4,304.3 404.8,301.3Z" fill="#2b9fd3"/><path d="M403.7,303.1Q408.6,311.3 416,317.8Q412.1,308.9 407.2,300.8Z" fill="#2b9fd3"/><path d="M405,297.2h5.8v5.2h6v5.8h-6v5.4h-5.8v-5.4h-5.4v-5.8h5.4z" fill="#e8141c"/><circle cx="394.5" cy="415.4" r="3.7" stroke="#2b9fd3" stroke-width="1.6" fill="none"/><circle cx="404.5" cy="424.6" r="3.7" stroke="#2b9fd3" stroke-width="1.6" fill="none"/><path d="M396.3,418.6L407.8,409.3M407.9,425.8L407.8,409.3" stroke="#2b9fd3" stroke-width="1.6"/><path d="M408.5,412.5Q413.3,404.1 415.5,394.4Q409.6,402.2 404.8,410.6Z" fill="#2b9fd3"/><path d="M405.9,412.3Q416.1,408.8 425.2,402.6Q414.6,404.9 404.4,408.3Z" fill="#2b9fd3"/><path d="M408.7,398.4h5.8v5.2h6v5.8h-6v5.4h-5.8v-5.4h-5.4v-5.8h5.4z" fill="#e8141c"/><text x="287.7" y="335.3" font-family="Liberation Serif" font-size="11.4" font-weight="bold" fill="#1a1a1a" textLength="193" lengthAdjust="spacingAndGlyphs">3' CCATAGCCCTGAACATTCCCAC<tspan fill="#e0262e">A</tspan> 5'</text><path d="M301.3,338.6V346.6" stroke="#1a1a1a" stroke-width="1.3"/><path d="M308.4,338.6V346.6" stroke="#1a1a1a" stroke-width="1.3"/><path d="M315.5,338.6V346.6" stroke="#1a1a1a" stroke-width="1.3"/><path d="M322.6,338.6V346.6" stroke="#1a1a1a" stroke-width="1.3"/><path d="M329.7,338.6V346.6" stroke="#1a1a1a" stroke-width="1.3"/><path d="M336.8,338.6V346.6" stroke="#1a1a1a" stroke-width="1.3"/><path d="M343.9,338.6V346.6" stroke="#1a1a1a" stroke-width="1.3"/><path d="M351,338.6V346.6" stroke="#1a1a1a" stroke-width="1.3"/><path d="M358.1,338.6V346.6" stroke="#1a1a1a" stroke-width="1.3"/><path d="M365.2,338.6V346.6" stroke="#1a1a1a" stroke-width="1.3"/><path d="M372.3,338.6V346.6" stroke="#1a1a1a" stroke-width="1.3"/><path d="M379.4,338.6V346.6" stroke="#1a1a1a" stroke-width="1.3"/><path d="M386.5,338.6V346.6" stroke="#1a1a1a" stroke-width="1.3"/><path d="M393.6,338.6V346.6" stroke="#1a1a1a" stroke-width="1.3"/><path d="M400.7,338.6V346.6" stroke="#1a1a1a" stroke-width="1.3"/><path d="M407.8,338.6V346.6" stroke="#1a1a1a" stroke-width="1.3"/><path d="M414.9,338.6V346.6" stroke="#1a1a1a" stroke-width="1.3"/><path d="M422,338.6V346.6" stroke="#1a1a1a" stroke-width="1.3"/><path d="M429.1,338.6V346.6" stroke="#1a1a1a" stroke-width="1.3"/><path d="M436.2,338.6V346.6" stroke="#1a1a1a" stroke-width="1.3"/><path d="M443.3,338.6V346.6" stroke="#1a1a1a" stroke-width="1.3"/><text x="299.5" y="355.3" font-family="Liberation Serif" font-size="11.4" font-weight="bold" fill="#1a1a1a" textLength="147.5" lengthAdjust="spacingAndGlyphs">GGUAUCGGGACUUGUAAGGG</text><path d="M300.5,356V362" stroke="#071d7e" stroke-width="1.3"/><path d="M307.7,356V362" stroke="#071d7e" stroke-width="1.3"/><path d="M314.9,356V362" stroke="#071d7e" stroke-width="1.3"/><path d="M322.1,356V362" stroke="#071d7e" stroke-width="1.3"/><path d="M329.3,356V362" stroke="#071d7e" stroke-width="1.3"/><path d="M336.5,356V362" stroke="#071d7e" stroke-width="1.3"/><path d="M343.7,356V362" stroke="#071d7e" stroke-width="1.3"/><path d="M350.9,356V362" stroke="#071d7e" stroke-width="1.3"/><path d="M358.1,356V362" stroke="#071d7e" stroke-width="1.3"/><path d="M365.3,356V362" stroke="#071d7e" stroke-width="1.3"/><path d="M372.5,356V362" stroke="#071d7e" stroke-width="1.3"/><path d="M379.7,356V362" stroke="#071d7e" stroke-width="1.3"/><path d="M386.9,356V362" stroke="#071d7e" stroke-width="1.3"/><path d="M394.1,356V362" stroke="#071d7e" stroke-width="1.3"/><path d="M401.3,356V362" stroke="#071d7e" stroke-width="1.3"/><path d="M408.5,356V362" stroke="#071d7e" stroke-width="1.3"/><path d="M415.7,356V362" stroke="#071d7e" stroke-width="1.3"/><path d="M422.9,356V362" stroke="#071d7e" stroke-width="1.3"/><path d="M430.1,356V362" stroke="#071d7e" stroke-width="1.3"/><path d="M437.3,356V362" stroke="#071d7e" stroke-width="1.3"/><path d="M444.5,356V362" stroke="#071d7e" stroke-width="1.3"/><path d="M299.2,362.6H448" stroke="#071d7e" stroke-width="2.4"/><text x="287" y="378.9" font-family="Liberation Serif" font-size="11.4" font-weight="bold" fill="#1a1a1a" textLength="193.5" lengthAdjust="spacingAndGlyphs">5' GGTATCGGGACTTGTAAGGGTG<tspan fill="#e0262e">T</tspan> 3'</text><path d="M449.4,341.4H468.2M450.6,383.7H468.8" stroke="#1a1a1a" stroke-width="1.5"/><text x="72.9" y="378" font-family="Liberation Serif" font-size="13" font-weight="bold" fill="#1a1a1a" textLength="81.4" lengthAdjust="spacingAndGlyphs">Target genome</text><text x="311.7" y="478.6" font-family="Liberation Serif" font-size="16" font-weight="bold" fill="#1a1a1a" textLength="32.5" lengthAdjust="spacingAndGlyphs">Cas9</text><text x="590.7" y="312.5" font-family="Liberation Serif" font-size="11.5" font-weight="bold" fill="#1a1a1a" textLength="34.3" lengthAdjust="spacingAndGlyphs">sgRNA</text></g><g transform="translate(676,0)"><text x="39" y="53.8" font-family="Liberation Serif" font-size="16.5" font-weight="bold" fill="#1a1a1a" textLength="19.6" lengthAdjust="spacingAndGlyphs">(b)</text><g clip-path="url(#refclip)"><rect x="65.5" y="42" width="150" height="89" fill="#16151d"/><g filter="url(#soft)"><rect x="62" y="40" width="3.9" height="2.4" rx="1.2" fill="#2060c8" opacity="0.47"/><rect x="68.4" y="40.9" width="4" height="2.4" rx="1.2" fill="#2060c8" opacity="0.48"/><rect x="74.8" y="41.8" width="4" height="2.4" rx="1.2" fill="#38a8f0" opacity="0.66"/><rect x="87.6" y="43.6" width="4" height="2.4" rx="1.2" fill="#2060c8" opacity="0.51"/><rect x="100.4" y="45.4" width="4.1" height="2.5" rx="1.2" fill="#5ac040" opacity="0.47"/><rect x="113.2" y="47.2" width="4.2" height="2.5" rx="1.2" fill="#38a8f0" opacity="0.52"/><rect x="132.4" y="49.9" width="4.2" height="2.5" rx="1.2" fill="#2060c8" opacity="0.74"/><rect x="151.6" y="52.6" width="4.3" height="2.6" rx="1.2" fill="#38a8f0" opacity="0.79"/><rect x="158" y="53.5" width="4.3" height="2.6" rx="1.2" fill="#a01c28" opacity="0.63"/><rect x="177.2" y="56.2" width="4.4" height="2.6" rx="1.2" fill="#e0403a" opacity="0.71"/><rect x="183.6" y="57.1" width="4.4" height="2.7" rx="1.2" fill="#38a8f0" opacity="0.75"/><rect x="196.4" y="58.9" width="4.5" height="2.7" rx="1.2" fill="#e0403a" opacity="0.53"/><rect x="202.8" y="59.8" width="4.5" height="2.7" rx="1.2" fill="#d02a30" opacity="0.83"/><rect x="209.2" y="60.7" width="4.5" height="2.7" rx="1.2" fill="#38a8f0" opacity="0.62"/><rect x="215.6" y="61.6" width="4.6" height="2.7" rx="1.2" fill="#a01c28" opacity="0.48"/><rect x="75.6" y="48" width="4.2" height="2.5" rx="1.2" fill="#2060c8" opacity="0.80"/><rect x="82" y="48.9" width="4.2" height="2.5" rx="1.2" fill="#5ac040" opacity="0.59"/><rect x="88.4" y="49.8" width="4.2" height="2.5" rx="1.2" fill="#30b84a" opacity="0.92"/><rect x="94.8" y="50.7" width="4.3" height="2.6" rx="1.2" fill="#5ac040" opacity="0.48"/><rect x="101.2" y="51.6" width="4.3" height="2.6" rx="1.2" fill="#2a8ee8" opacity="0.65"/><rect x="107.6" y="52.5" width="4.3" height="2.6" rx="1.2" fill="#2a8ee8" opacity="0.67"/><rect x="114" y="53.4" width="4.3" height="2.6" rx="1.2" fill="#5ac040" opacity="0.88"/><rect x="126.8" y="55.2" width="4.4" height="2.6" rx="1.2" fill="#38a8f0" opacity="0.93"/><rect x="158.8" y="59.7" width="4.5" height="2.7" rx="1.2" fill="#30b84a" opacity="0.52"/><rect x="165.2" y="60.6" width="4.5" height="2.7" rx="1.2" fill="#30b84a" opacity="0.80"/><rect x="171.6" y="61.5" width="4.6" height="2.7" rx="1.2" fill="#2060c8" opacity="0.82"/><rect x="178" y="62.4" width="4.6" height="2.8" rx="1.2" fill="#2060c8" opacity="0.85"/><rect x="184.4" y="63.3" width="4.6" height="2.8" rx="1.2" fill="#d02a30" opacity="0.69"/><rect x="190.8" y="64.2" width="4.6" height="2.8" rx="1.2" fill="#b8222c" opacity="0.67"/><rect x="203.6" y="66" width="4.7" height="2.8" rx="1.2" fill="#b8222c" opacity="0.72"/><rect x="210" y="66.9" width="4.7" height="2.8" rx="1.2" fill="#2a8ee8" opacity="0.89"/><rect x="216.4" y="67.8" width="4.8" height="2.9" rx="1.2" fill="#e0403a" opacity="0.93"/><rect x="63.6" y="52.4" width="4.3" height="2.6" rx="1.2" fill="#2a8ee8" opacity="0.87"/><rect x="70" y="53.3" width="4.3" height="2.6" rx="1.2" fill="#38a8f0" opacity="0.61"/><rect x="82.8" y="55.1" width="4.4" height="2.6" rx="1.2" fill="#5ac040" opacity="0.86"/><rect x="102" y="57.8" width="4.5" height="2.7" rx="1.2" fill="#2a8ee8" opacity="0.80"/><rect x="108.4" y="58.7" width="4.5" height="2.7" rx="1.2" fill="#5ac040" opacity="0.94"/><rect x="114.8" y="59.6" width="4.5" height="2.7" rx="1.2" fill="#5ac040" opacity="0.71"/><rect x="121.2" y="60.5" width="4.5" height="2.7" rx="1.2" fill="#2a8ee8" opacity="0.72"/><rect x="127.6" y="61.4" width="4.6" height="2.7" rx="1.2" fill="#2a8ee8" opacity="0.76"/><rect x="134" y="62.3" width="4.6" height="2.8" rx="1.2" fill="#30b84a" opacity="0.86"/><rect x="140.4" y="63.2" width="4.6" height="2.8" rx="1.2" fill="#a01c28" opacity="0.63"/><rect x="172.4" y="67.7" width="4.8" height="2.9" rx="1.2" fill="#38a8f0" opacity="0.85"/><rect x="178.8" y="68.6" width="4.8" height="2.9" rx="1.2" fill="#e0403a" opacity="0.49"/><rect x="191.6" y="70.4" width="4.8" height="2.9" rx="1.2" fill="#a01c28" opacity="0.76"/><rect x="198" y="71.3" width="4.9" height="2.9" rx="1.2" fill="#38a8f0" opacity="0.90"/><rect x="204.4" y="72.2" width="4.9" height="2.9" rx="1.2" fill="#2060c8" opacity="0.51"/><rect x="210.8" y="73.1" width="4.9" height="2.9" rx="1.2" fill="#2a8ee8" opacity="0.69"/><rect x="64.4" y="58.6" width="4.5" height="2.7" rx="1.2" fill="#2060c8" opacity="0.65"/><rect x="70.8" y="59.5" width="4.5" height="2.7" rx="1.2" fill="#30b84a" opacity="0.54"/><rect x="90" y="62.2" width="4.6" height="2.8" rx="1.2" fill="#5ac040" opacity="0.78"/><rect x="96.4" y="63.1" width="4.6" height="2.8" rx="1.2" fill="#b8222c" opacity="0.46"/><rect x="102.8" y="64" width="4.6" height="2.8" rx="1.2" fill="#30b84a" opacity="0.67"/><rect x="109.2" y="64.9" width="4.7" height="2.8" rx="1.2" fill="#5ac040" opacity="0.56"/><rect x="115.6" y="65.8" width="4.7" height="2.8" rx="1.2" fill="#5ac040" opacity="0.87"/><rect x="128.4" y="67.6" width="4.7" height="2.8" rx="1.2" fill="#2060c8" opacity="0.66"/><rect x="134.8" y="68.5" width="4.8" height="2.9" rx="1.2" fill="#2060c8" opacity="0.71"/><rect x="141.2" y="69.4" width="4.8" height="2.9" rx="1.2" fill="#2a8ee8" opacity="0.54"/><rect x="147.6" y="70.3" width="4.8" height="2.9" rx="1.2" fill="#38a8f0" opacity="0.79"/><rect x="154" y="71.2" width="4.9" height="2.9" rx="1.2" fill="#d02a30" opacity="0.89"/><rect x="186" y="75.7" width="5" height="3" rx="1.2" fill="#d02a30" opacity="0.67"/><rect x="192.4" y="76.6" width="5" height="3" rx="1.2" fill="#b8222c" opacity="0.80"/><rect x="198.8" y="77.5" width="5" height="3" rx="1.2" fill="#a01c28" opacity="0.70"/><rect x="211.6" y="79.3" width="5.1" height="3.1" rx="1.2" fill="#38a8f0" opacity="0.91"/><rect x="65.2" y="64.8" width="4.7" height="2.8" rx="1.2" fill="#a01c28" opacity="0.52"/><rect x="78" y="66.6" width="4.7" height="2.8" rx="1.2" fill="#b8222c" opacity="0.66"/><rect x="103.6" y="70.2" width="4.8" height="2.9" rx="1.2" fill="#38a8f0" opacity="0.52"/><rect x="110" y="71.1" width="4.9" height="2.9" rx="1.2" fill="#30b84a" opacity="0.65"/><rect x="116.4" y="72" width="4.9" height="2.9" rx="1.2" fill="#2a8ee8" opacity="0.80"/><rect x="122.8" y="72.9" width="4.9" height="2.9" rx="1.2" fill="#a01c28" opacity="0.55"/><rect x="135.6" y="74.7" width="5" height="3" rx="1.2" fill="#a01c28" opacity="0.67"/><rect x="148.4" y="76.5" width="5" height="3" rx="1.2" fill="#2a8ee8" opacity="0.51"/><rect x="154.8" y="77.4" width="5" height="3" rx="1.2" fill="#d02a30" opacity="0.49"/><rect x="167.6" y="79.2" width="5.1" height="3.1" rx="1.2" fill="#b8222c" opacity="0.86"/><rect x="174" y="80.1" width="5.1" height="3.1" rx="1.2" fill="#38a8f0" opacity="0.65"/><rect x="180.4" y="81" width="5.1" height="3.1" rx="1.2" fill="#a01c28" opacity="0.80"/><rect x="199.6" y="83.7" width="5.2" height="3.1" rx="1.2" fill="#d02a30" opacity="0.58"/><rect x="72.4" y="71.9" width="4.9" height="2.9" rx="1.2" fill="#e0403a" opacity="0.88"/><rect x="78.8" y="72.8" width="4.9" height="2.9" rx="1.2" fill="#a01c28" opacity="0.91"/><rect x="98" y="75.5" width="5" height="3" rx="1.2" fill="#d02a30" opacity="0.93"/><rect x="117.2" y="78.2" width="5.1" height="3" rx="1.2" fill="#2a8ee8" opacity="0.59"/><rect x="123.6" y="79.1" width="5.1" height="3.1" rx="1.2" fill="#e0403a" opacity="0.85"/><rect x="130" y="80" width="5.1" height="3.1" rx="1.2" fill="#d02a30" opacity="0.82"/><rect x="136.4" y="80.9" width="5.1" height="3.1" rx="1.2" fill="#a01c28" opacity="0.57"/><rect x="142.8" y="81.8" width="5.2" height="3.1" rx="1.2" fill="#2060c8" opacity="0.70"/><rect x="149.2" y="82.7" width="5.2" height="3.1" rx="1.2" fill="#e0403a" opacity="0.79"/><rect x="155.6" y="83.6" width="5.2" height="3.1" rx="1.2" fill="#b8222c" opacity="0.65"/><rect x="162" y="84.5" width="5.2" height="3.1" rx="1.2" fill="#b8222c" opacity="0.46"/><rect x="168.4" y="85.4" width="5.3" height="3.2" rx="1.2" fill="#30b84a" opacity="0.49"/><rect x="174.8" y="86.3" width="5.3" height="3.2" rx="1.2" fill="#2060c8" opacity="0.94"/><rect x="181.2" y="87.2" width="5.3" height="3.2" rx="1.2" fill="#2a8ee8" opacity="0.68"/><rect x="194" y="89" width="5.4" height="3.2" rx="1.2" fill="#e0403a" opacity="0.94"/><rect x="200.4" y="89.9" width="5.4" height="3.2" rx="1.2" fill="#e0403a" opacity="0.56"/><rect x="213.2" y="91.7" width="5.5" height="3.3" rx="1.2" fill="#e0403a" opacity="0.70"/><rect x="73.2" y="78.1" width="5.1" height="3" rx="1.2" fill="#e0403a" opacity="0.86"/><rect x="86" y="79.9" width="5.1" height="3.1" rx="1.2" fill="#e0403a" opacity="0.60"/><rect x="98.8" y="81.7" width="5.2" height="3.1" rx="1.2" fill="#b8222c" opacity="0.78"/><rect x="105.2" y="82.6" width="5.2" height="3.1" rx="1.2" fill="#5ac040" opacity="0.81"/><rect x="111.6" y="83.5" width="5.2" height="3.1" rx="1.2" fill="#b8222c" opacity="0.47"/><rect x="118" y="84.4" width="5.2" height="3.1" rx="1.2" fill="#2060c8" opacity="0.80"/><rect x="124.4" y="85.3" width="5.3" height="3.2" rx="1.2" fill="#2060c8" opacity="0.87"/><rect x="130.8" y="86.2" width="5.3" height="3.2" rx="1.2" fill="#2060c8" opacity="0.79"/><rect x="137.2" y="87.1" width="5.3" height="3.2" rx="1.2" fill="#d02a30" opacity="0.47"/><rect x="143.6" y="88" width="5.3" height="3.2" rx="1.2" fill="#5ac040" opacity="0.73"/><rect x="150" y="88.9" width="5.4" height="3.2" rx="1.2" fill="#38a8f0" opacity="0.58"/><rect x="156.4" y="89.8" width="5.4" height="3.2" rx="1.2" fill="#d02a30" opacity="0.78"/><rect x="169.2" y="91.6" width="5.4" height="3.3" rx="1.2" fill="#d02a30" opacity="0.87"/><rect x="182" y="93.4" width="5.5" height="3.3" rx="1.2" fill="#a01c28" opacity="0.70"/><rect x="188.4" y="94.3" width="5.5" height="3.3" rx="1.2" fill="#e0403a" opacity="0.83"/><rect x="194.8" y="95.2" width="5.6" height="3.3" rx="1.2" fill="#2a8ee8" opacity="0.75"/><rect x="201.2" y="96.1" width="5.6" height="3.3" rx="1.2" fill="#2060c8" opacity="0.60"/><rect x="207.6" y="97" width="5.6" height="3.4" rx="1.2" fill="#d02a30" opacity="0.69"/><rect x="214" y="97.9" width="5.6" height="3.4" rx="1.2" fill="#b8222c" opacity="0.79"/><rect x="74" y="84.3" width="5.2" height="3.1" rx="1.2" fill="#a01c28" opacity="0.83"/><rect x="80.4" y="85.2" width="5.3" height="3.2" rx="1.2" fill="#e0403a" opacity="0.94"/><rect x="86.8" y="86.1" width="5.3" height="3.2" rx="1.2" fill="#a01c28" opacity="0.49"/><rect x="93.2" y="87" width="5.3" height="3.2" rx="1.2" fill="#c8e040" opacity="0.55"/><rect x="99.6" y="87.9" width="5.3" height="3.2" rx="1.2" fill="#d02a30" opacity="0.52"/><rect x="106" y="88.8" width="5.4" height="3.2" rx="1.2" fill="#5ac040" opacity="0.89"/><rect x="112.4" y="89.7" width="5.4" height="3.2" rx="1.2" fill="#a01c28" opacity="0.65"/><rect x="125.2" y="91.5" width="5.4" height="3.3" rx="1.2" fill="#30b84a" opacity="0.66"/><rect x="131.6" y="92.4" width="5.5" height="3.3" rx="1.2" fill="#e0403a" opacity="0.45"/><rect x="138" y="93.3" width="5.5" height="3.3" rx="1.2" fill="#30b84a" opacity="0.81"/><rect x="144.4" y="94.2" width="5.5" height="3.3" rx="1.2" fill="#e0403a" opacity="0.48"/><rect x="150.8" y="95.1" width="5.6" height="3.3" rx="1.2" fill="#5ac040" opacity="0.83"/><rect x="157.2" y="96" width="5.6" height="3.3" rx="1.2" fill="#d02a30" opacity="0.87"/><rect x="170" y="97.8" width="5.6" height="3.4" rx="1.2" fill="#e0403a" opacity="0.67"/><rect x="182.8" y="99.6" width="5.7" height="3.4" rx="1.2" fill="#38a8f0" opacity="0.89"/><rect x="189.2" y="100.5" width="5.7" height="3.4" rx="1.2" fill="#2060c8" opacity="0.72"/><rect x="195.6" y="101.4" width="5.7" height="3.4" rx="1.2" fill="#a01c28" opacity="0.68"/><rect x="202" y="102.3" width="5.8" height="3.5" rx="1.2" fill="#38a8f0" opacity="0.69"/><rect x="208.4" y="103.2" width="5.8" height="3.5" rx="1.2" fill="#b8222c" opacity="0.69"/><rect x="214.8" y="104.1" width="5.8" height="3.5" rx="1.2" fill="#e0403a" opacity="0.65"/><rect x="74.8" y="90.5" width="5.4" height="3.3" rx="1.2" fill="#d02a30" opacity="0.53"/><rect x="94" y="93.2" width="5.5" height="3.3" rx="1.2" fill="#b8222c" opacity="0.68"/><rect x="100.4" y="94.1" width="5.5" height="3.3" rx="1.2" fill="#30b84a" opacity="0.57"/><rect x="113.2" y="95.9" width="5.6" height="3.3" rx="1.2" fill="#e0403a" opacity="0.58"/><rect x="119.6" y="96.8" width="5.6" height="3.4" rx="1.2" fill="#38a8f0" opacity="0.64"/><rect x="126" y="97.7" width="5.6" height="3.4" rx="1.2" fill="#e0403a" opacity="0.62"/><rect x="145.2" y="100.4" width="5.7" height="3.4" rx="1.2" fill="#b8222c" opacity="0.50"/><rect x="151.6" y="101.3" width="5.7" height="3.4" rx="1.2" fill="#a01c28" opacity="0.67"/><rect x="164.4" y="103.1" width="5.8" height="3.5" rx="1.2" fill="#5ac040" opacity="0.80"/><rect x="170.8" y="104" width="5.8" height="3.5" rx="1.2" fill="#a01c28" opacity="0.45"/><rect x="177.2" y="104.9" width="5.8" height="3.5" rx="1.2" fill="#2060c8" opacity="0.88"/><rect x="183.6" y="105.8" width="5.9" height="3.5" rx="1.2" fill="#d02a30" opacity="0.56"/><rect x="196.4" y="107.6" width="5.9" height="3.5" rx="1.2" fill="#a01c28" opacity="0.49"/><rect x="202.8" y="108.5" width="5.9" height="3.6" rx="1.2" fill="#b8222c" opacity="0.57"/><rect x="209.2" y="109.4" width="6" height="3.6" rx="1.2" fill="#38a8f0" opacity="0.93"/><rect x="215.6" y="110.3" width="6" height="3.6" rx="1.2" fill="#a01c28" opacity="0.80"/><rect x="82" y="97.6" width="5.6" height="3.4" rx="1.2" fill="#a01c28" opacity="0.58"/><rect x="88.4" y="98.5" width="5.7" height="3.4" rx="1.2" fill="#e0403a" opacity="0.95"/><rect x="107.6" y="101.2" width="5.7" height="3.4" rx="1.2" fill="#b8222c" opacity="0.72"/><rect x="120.4" y="103" width="5.8" height="3.5" rx="1.2" fill="#30b84a" opacity="0.70"/><rect x="126.8" y="103.9" width="5.8" height="3.5" rx="1.2" fill="#e0403a" opacity="0.56"/><rect x="133.2" y="104.8" width="5.8" height="3.5" rx="1.2" fill="#a01c28" opacity="0.47"/><rect x="139.6" y="105.7" width="5.9" height="3.5" rx="1.2" fill="#a01c28" opacity="0.55"/><rect x="146" y="106.6" width="5.9" height="3.5" rx="1.2" fill="#2a8ee8" opacity="0.70"/><rect x="158.8" y="108.4" width="5.9" height="3.6" rx="1.2" fill="#a01c28" opacity="0.56"/><rect x="165.2" y="109.3" width="6" height="3.6" rx="1.2" fill="#a01c28" opacity="0.76"/><rect x="171.6" y="110.2" width="6" height="3.6" rx="1.2" fill="#d02a30" opacity="0.92"/><rect x="184.4" y="112" width="6" height="3.6" rx="1.2" fill="#b8222c" opacity="0.66"/><rect x="190.8" y="112.9" width="6.1" height="3.6" rx="1.2" fill="#a01c28" opacity="0.90"/><rect x="197.2" y="113.8" width="6.1" height="3.7" rx="1.2" fill="#2a8ee8" opacity="0.92"/><rect x="203.6" y="114.7" width="6.1" height="3.7" rx="1.2" fill="#a01c28" opacity="0.47"/><rect x="210" y="115.6" width="6.2" height="3.7" rx="1.2" fill="#e0403a" opacity="0.94"/><rect x="216.4" y="116.5" width="6.2" height="3.7" rx="1.2" fill="#d02a30" opacity="0.59"/><rect x="70" y="102" width="5.8" height="3.5" rx="1.2" fill="#30b84a" opacity="0.64"/><rect x="76.4" y="102.9" width="5.8" height="3.5" rx="1.2" fill="#a01c28" opacity="0.49"/><rect x="82.8" y="103.8" width="5.8" height="3.5" rx="1.2" fill="#a01c28" opacity="0.55"/><rect x="89.2" y="104.7" width="5.8" height="3.5" rx="1.2" fill="#5ac040" opacity="0.57"/><rect x="95.6" y="105.6" width="5.9" height="3.5" rx="1.2" fill="#a01c28" opacity="0.47"/><rect x="108.4" y="107.4" width="5.9" height="3.5" rx="1.2" fill="#d02a30" opacity="0.90"/><rect x="114.8" y="108.3" width="5.9" height="3.6" rx="1.2" fill="#d02a30" opacity="0.58"/><rect x="121.2" y="109.2" width="6" height="3.6" rx="1.2" fill="#e0403a" opacity="0.60"/><rect x="127.6" y="110.1" width="6" height="3.6" rx="1.2" fill="#2a8ee8" opacity="0.46"/><rect x="140.4" y="111.9" width="6" height="3.6" rx="1.2" fill="#38a8f0" opacity="0.84"/><rect x="146.8" y="112.8" width="6.1" height="3.6" rx="1.2" fill="#b8222c" opacity="0.91"/><rect x="159.6" y="114.6" width="6.1" height="3.7" rx="1.2" fill="#b8222c" opacity="0.75"/><rect x="166" y="115.5" width="6.1" height="3.7" rx="1.2" fill="#e0403a" opacity="0.84"/><rect x="172.4" y="116.4" width="6.2" height="3.7" rx="1.2" fill="#a01c28" opacity="0.83"/><rect x="198" y="120" width="6.3" height="3.8" rx="1.2" fill="#a01c28" opacity="0.89"/><rect x="204.4" y="120.9" width="6.3" height="3.8" rx="1.2" fill="#d02a30" opacity="0.55"/><rect x="210.8" y="121.8" width="6.3" height="3.8" rx="1.2" fill="#38a8f0" opacity="0.54"/><rect x="70.8" y="108.2" width="5.9" height="3.6" rx="1.2" fill="#30b84a" opacity="0.84"/><rect x="109.2" y="113.6" width="6.1" height="3.7" rx="1.2" fill="#2a8ee8" opacity="0.53"/><rect x="115.6" y="114.5" width="6.1" height="3.7" rx="1.2" fill="#38a8f0" opacity="0.48"/><rect x="134.8" y="117.2" width="6.2" height="3.7" rx="1.2" fill="#2a8ee8" opacity="0.78"/><rect x="141.2" y="118.1" width="6.2" height="3.7" rx="1.2" fill="#38a8f0" opacity="0.89"/><rect x="154" y="119.9" width="6.3" height="3.8" rx="1.2" fill="#38a8f0" opacity="0.57"/><rect x="166.8" y="121.7" width="6.3" height="3.8" rx="1.2" fill="#30b84a" opacity="0.64"/><rect x="173.2" y="122.6" width="6.4" height="3.8" rx="1.2" fill="#e0403a" opacity="0.84"/><rect x="179.6" y="123.5" width="6.4" height="3.8" rx="1.2" fill="#e0403a" opacity="0.56"/><rect x="186" y="124.4" width="6.4" height="3.8" rx="1.2" fill="#b8222c" opacity="0.95"/><rect x="198.8" y="126.2" width="6.5" height="3.9" rx="1.2" fill="#2a8ee8" opacity="0.86"/><rect x="205.2" y="127.1" width="6.5" height="3.9" rx="1.2" fill="#e0403a" opacity="0.49"/><rect x="71.6" y="114.4" width="6.1" height="3.7" rx="1.2" fill="#38a8f0" opacity="0.50"/><rect x="78" y="115.3" width="6.1" height="3.7" rx="1.2" fill="#2060c8" opacity="0.72"/><rect x="84.4" y="116.2" width="6.2" height="3.7" rx="1.2" fill="#38a8f0" opacity="0.65"/><rect x="103.6" y="118.9" width="6.2" height="3.7" rx="1.2" fill="#2060c8" opacity="0.89"/><rect x="110" y="119.8" width="6.3" height="3.8" rx="1.2" fill="#38a8f0" opacity="0.77"/><rect x="116.4" y="120.7" width="6.3" height="3.8" rx="1.2" fill="#2a8ee8" opacity="0.67"/><rect x="142" y="124.3" width="6.4" height="3.8" rx="1.2" fill="#2a8ee8" opacity="0.51"/><rect x="161.2" y="127" width="6.5" height="3.9" rx="1.2" fill="#e0403a" opacity="0.82"/><rect x="174" y="128.8" width="6.5" height="3.9" rx="1.2" fill="#b8222c" opacity="0.91"/><rect x="186.8" y="130.6" width="6.6" height="4" rx="1.2" fill="#2a8ee8" opacity="0.60"/><rect x="193.2" y="131.5" width="6.6" height="4" rx="1.2" fill="#a01c28" opacity="0.61"/><rect x="199.6" y="132.4" width="6.6" height="4" rx="1.2" fill="#2a8ee8" opacity="0.90"/><rect x="72.4" y="120.6" width="6.3" height="3.8" rx="1.2" fill="#b8222c" opacity="0.77"/><rect x="78.8" y="121.5" width="6.3" height="3.8" rx="1.2" fill="#2060c8" opacity="0.87"/><rect x="85.2" y="122.4" width="6.3" height="3.8" rx="1.2" fill="#2a8ee8" opacity="0.47"/><rect x="91.6" y="123.3" width="6.4" height="3.8" rx="1.2" fill="#38a8f0" opacity="0.51"/><rect x="104.4" y="125.1" width="6.4" height="3.9" rx="1.2" fill="#d02a30" opacity="0.89"/><rect x="110.8" y="126" width="6.5" height="3.9" rx="1.2" fill="#2060c8" opacity="0.87"/><rect x="123.6" y="127.8" width="6.5" height="3.9" rx="1.2" fill="#2060c8" opacity="0.84"/><rect x="130" y="128.7" width="6.5" height="3.9" rx="1.2" fill="#2a8ee8" opacity="0.66"/><rect x="136.4" y="129.6" width="6.6" height="3.9" rx="1.2" fill="#38a8f0" opacity="0.54"/><rect x="149.2" y="131.4" width="6.6" height="4" rx="1.2" fill="#38a8f0" opacity="0.83"/><rect x="155.6" y="132.3" width="6.6" height="4" rx="1.2" fill="#2a8ee8" opacity="0.86"/><rect x="73.2" y="126.8" width="6.5" height="3.9" rx="1.2" fill="#38a8f0" opacity="0.67"/><rect x="86" y="128.6" width="6.5" height="3.9" rx="1.2" fill="#2a8ee8" opacity="0.47"/><rect x="98.8" y="130.4" width="6.6" height="3.9" rx="1.2" fill="#2060c8" opacity="0.71"/><rect x="111.6" y="132.2" width="6.6" height="4" rx="1.2" fill="#2a8ee8" opacity="0.46"/><ellipse cx="92" cy="108" rx="5" ry="3" fill="#d8e040" opacity="0.9"/></g><path d="M150,42L196,42L200,46L176,45Z" fill="#4cc8f4" opacity="0.35"/><path d="M181,42L189,42L216,88L216,104Z" fill="#4cc8f4" opacity="0.85"/><path d="M186,78L190,78L212,124L208,124Z" fill="#2f7fc8" opacity="0.5"/></g><circle cx="109.2" cy="72.1" r="10.6" fill="#c5d9ee"/><path d="M92.4,103.2V92Q92.4,81.4 104,81.4H114Q125.3,81.4 125.3,92V103.2Z" fill="#c5d9ee"/><circle cx="163.3" cy="72.1" r="10.6" fill="#c5d9ee"/><path d="M147,103.2V92Q147,81.4 158,81.4H169Q180,81.4 180,92V103.2Z" fill="#c5d9ee"/><circle cx="136.5" cy="77" r="12.4" fill="#8aa6d6" stroke="#1c2230" stroke-width="1.3"/><path d="M116.6,113.8V98Q116.6,88.3 127,88.3H146Q156.5,88.3 156.5,98V113.8Z" fill="#8aa6d6" stroke="#1c2230" stroke-width="1.3"/><circle cx="136.5" cy="77" r="11.8" fill="#8aa6d6"/><path d="M98.9,91V97" stroke="#3a4050" stroke-width="0.8"/><path d="M105.1,91V97" stroke="#3a4050" stroke-width="0.8"/><path d="M110.9,91V97" stroke="#3a4050" stroke-width="0.8"/><path d="M117.1,91V97" stroke="#3a4050" stroke-width="0.8"/><path d="M96,90C102,90 102,98 108,98C114,98 114,90 120,90" stroke="#2a3040" stroke-width="1.6" fill="none"/><path d="M96,98C102,98 102,90 108,90C114,90 114,98 120,98" stroke="#2e6a50" stroke-width="1.4" fill="none"/><path d="M154.9,91V97" stroke="#3a4050" stroke-width="0.8"/><path d="M161.1,91V97" stroke="#3a4050" stroke-width="0.8"/><path d="M166.9,91V97" stroke="#3a4050" stroke-width="0.8"/><path d="M173.1,91V97" stroke="#3a4050" stroke-width="0.8"/><path d="M152,90C158,90 158,98 164,98C170,98 170,90 176,90" stroke="#2a3040" stroke-width="1.6" fill="none"/><path d="M152,98C158,98 158,90 164,90C170,90 170,98 176,98" stroke="#2e6a50" stroke-width="1.4" fill="none"/><path d="M125.9,100.5V107.5" stroke="#3a4050" stroke-width="0.8"/><path d="M133.1,100.5V107.5" stroke="#3a4050" stroke-width="0.8"/><path d="M139.9,100.5V107.5" stroke="#3a4050" stroke-width="0.8"/><path d="M147.1,100.5V107.5" stroke="#3a4050" stroke-width="0.8"/><path d="M122.5,99.5C129.5,99.5 129.5,108.5 136.5,108.5C143.5,108.5 143.5,99.5 150.5,99.5" stroke="#2a3040" stroke-width="1.6" fill="none"/><path d="M122.5,108.5C129.5,108.5 129.5,99.5 136.5,99.5C143.5,99.5 143.5,108.5 150.5,108.5" stroke="#2e6a50" stroke-width="1.4" fill="none"/><text x="84.9" y="52.8" font-family="Liberation Serif" font-size="14.5" fill="#f2f2f2" textLength="112.6" lengthAdjust="spacingAndGlyphs">Reference genome</text><g font-family="Liberation Sans" fill="#9aa6b8"><text x="218.4" y="65.5" font-size="10" transform="scale(1,1)" textLength="3.3" lengthAdjust="spacingAndGlyphs">A</text><text x="223.9" y="65.2" font-size="10.4" transform="scale(1,1)" textLength="3.4" lengthAdjust="spacingAndGlyphs">T</text><text x="229.4" y="65" font-size="10.8" transform="scale(1,1)" textLength="3.5" lengthAdjust="spacingAndGlyphs">A</text><text x="234.9" y="64.7" font-size="11.2" transform="scale(1,1)" textLength="3.6" lengthAdjust="spacingAndGlyphs">T</text><text x="240.4" y="64.5" font-size="11.7" transform="scale(1,1)" textLength="3.7" lengthAdjust="spacingAndGlyphs">C</text><text x="245.9" y="64.2" font-size="12.1" transform="scale(1,1)" textLength="3.9" lengthAdjust="spacingAndGlyphs">A</text><text x="251.4" y="64" font-size="12.5" transform="scale(1,1)" textLength="4" lengthAdjust="spacingAndGlyphs">T</text><text x="257" y="63.7" font-size="12.9" transform="scale(1,1)" textLength="4.1" lengthAdjust="spacingAndGlyphs">G</text><text x="262.5" y="63.4" font-size="13.3" transform="scale(1,1)" textLength="4.2" lengthAdjust="spacingAndGlyphs">C</text><text x="268" y="63.2" font-size="13.8" transform="scale(1,1)" textLength="4.3" lengthAdjust="spacingAndGlyphs">G</text><text x="273.5" y="62.9" font-size="14.2" transform="scale(1,1)" textLength="4.4" lengthAdjust="spacingAndGlyphs">C</text><text x="279" y="62.7" font-size="14.6" transform="scale(1,1)" textLength="4.5" lengthAdjust="spacingAndGlyphs">A</text><text x="284.5" y="62.4" font-size="15" transform="scale(1,1)" textLength="4.6" lengthAdjust="spacingAndGlyphs">T</text><text x="218" y="75.6" font-size="10" transform="scale(1,1)" textLength="3.6" lengthAdjust="spacingAndGlyphs">A</text><text x="224" y="75.7" font-size="10.3" transform="scale(1,1)" textLength="3.7" lengthAdjust="spacingAndGlyphs">A</text><text x="230" y="75.7" font-size="10.6" transform="scale(1,1)" textLength="3.8" lengthAdjust="spacingAndGlyphs">A</text><text x="236" y="75.8" font-size="11" transform="scale(1,1)" textLength="4" lengthAdjust="spacingAndGlyphs">T</text><text x="242" y="75.9" font-size="11.3" transform="scale(1,1)" textLength="4.1" lengthAdjust="spacingAndGlyphs">A</text><text x="248" y="76" font-size="11.6" transform="scale(1,1)" textLength="4.2" lengthAdjust="spacingAndGlyphs">T</text><text x="254" y="76" font-size="11.9" transform="scale(1,1)" textLength="4.4" lengthAdjust="spacingAndGlyphs">C</text><text x="260" y="76.1" font-size="12.2" transform="scale(1,1)" textLength="4.5" lengthAdjust="spacingAndGlyphs">A</text><text x="266" y="76.2" font-size="12.5" transform="scale(1,1)" textLength="4.6" lengthAdjust="spacingAndGlyphs">T</text><text x="272" y="76.3" font-size="12.9" transform="scale(1,1)" textLength="4.8" lengthAdjust="spacingAndGlyphs">G</text><text x="278" y="76.3" font-size="13.2" transform="scale(1,1)" textLength="4.9" lengthAdjust="spacingAndGlyphs">C</text><text x="284" y="76.4" font-size="13.5" transform="scale(1,1)" textLength="5" lengthAdjust="spacingAndGlyphs">G</text><text x="219" y="85" font-size="10" transform="scale(1,1)" textLength="3.4" lengthAdjust="spacingAndGlyphs">T</text><text x="224.8" y="85.5" font-size="10.2" transform="scale(1,1)" textLength="3.6" lengthAdjust="spacingAndGlyphs">A</text><text x="230.6" y="85.9" font-size="10.4" transform="scale(1,1)" textLength="3.7" lengthAdjust="spacingAndGlyphs">T</text><text x="236.5" y="86.4" font-size="10.5" transform="scale(1,1)" textLength="3.8" lengthAdjust="spacingAndGlyphs">C</text><text x="242.3" y="86.9" font-size="10.7" transform="scale(1,1)" textLength="4" lengthAdjust="spacingAndGlyphs">A</text><text x="248.1" y="87.4" font-size="10.9" transform="scale(1,1)" textLength="4.1" lengthAdjust="spacingAndGlyphs">T</text><text x="253.9" y="87.8" font-size="11.1" transform="scale(1,1)" textLength="4.2" lengthAdjust="spacingAndGlyphs">G</text><text x="259.7" y="88.3" font-size="11.3" transform="scale(1,1)" textLength="4.4" lengthAdjust="spacingAndGlyphs">C</text><text x="265.5" y="88.8" font-size="11.5" transform="scale(1,1)" textLength="4.5" lengthAdjust="spacingAndGlyphs">G</text><text x="271.4" y="89.3" font-size="11.6" transform="scale(1,1)" textLength="4.6" lengthAdjust="spacingAndGlyphs">C</text><text x="277.2" y="89.7" font-size="11.8" transform="scale(1,1)" textLength="4.8" lengthAdjust="spacingAndGlyphs">A</text><text x="283" y="90.2" font-size="12" transform="scale(1,1)" textLength="4.9" lengthAdjust="spacingAndGlyphs">T</text></g><path d="M138,131.5V292.6H229" stroke="#8c8c8c" stroke-width="1" stroke-dasharray="3,2" fill="none"/><g transform="translate(147.2,166.3)"><path d="M0,-6.5C0.9,-2.2 2.2,-0.9 6.5,0C2.2,0.9 0.9,2.2 0,6.5C-0.9,2.2 -2.2,0.9 -6.5,0C-2.2,-0.9 -0.9,-2.2 0,-6.5Z" fill="#222"/></g><text x="157" y="169" font-family="Liberation Serif" font-size="13.4" fill="#1e1e1e" textLength="115" lengthAdjust="spacingAndGlyphs">Sequence variations</text><text x="143.8" y="186.3" font-family="Liberation Serif" font-size="13.4" fill="#1e1e1e" textLength="134" lengthAdjust="spacingAndGlyphs">within the PAM site lead</text><text x="143.8" y="203.6" font-family="Liberation Serif" font-size="13.4" fill="#1e1e1e" textLength="104" lengthAdjust="spacingAndGlyphs">to a loss of gRNA</text><text x="143.8" y="220.9" font-family="Liberation Serif" font-size="13.4" fill="#1e1e1e" textLength="56" lengthAdjust="spacingAndGlyphs">efficiency.</text><g stroke="#8c8c8c" fill="none" stroke-width="0.9" stroke-linecap="round"><path d="M217.6,120.3C223,115 227,111 229.4,107C232,101 234,97 238.6,92.4C243,92 246,92.5 249.9,93.7C254,95 258,96 261,98.5C263,100.5 265,103 268.3,105L276,107.6"/><path d="M237,123.9C242,120 246,117 249.9,114.7C253,112.5 255,111 258,110C261,109 263,108 265.5,106.5"/><path d="M245,99.5L248,103.5L251,101L253,104.5L256,102.5M247,106L251.5,105L255,107.5M257.5,104.5L260,103L262,105.5L258.5,108.5"/></g><path d="M268,105.2L276.5,107.8" stroke="#555" stroke-width="1.4"/><text x="279" y="109" font-family="Liberation Serif" font-size="13" font-weight="bold" fill="#1a1a1a" textLength="269" lengthAdjust="spacingAndGlyphs">On-target design based on the reference genome</text><text x="297.5" y="140.7" font-family="Liberation Serif" font-size="12" fill="#7a7a7a" textLength="211" lengthAdjust="spacingAndGlyphs">3' CCATAGCCCTGAACATTCCCACC 5'</text></g><g transform="translate(0,544.7)"><g fill="#d9e3f0" stroke="#d6e0ee" stroke-width="2.2"><ellipse cx="320.6" cy="285.3" rx="88.4" ry="80.8"/><ellipse cx="414.1" cy="248.4" rx="29.8" ry="36.3"/><ellipse cx="479.1" cy="261.2" rx="50.3" ry="46.7"/><ellipse cx="251.3" cy="364.5" rx="45.5" ry="69"/><ellipse cx="329.5" cy="446.6" rx="60.5" ry="64.2"/><path d="M423.6,506.4A88.6,63.4 143.4 1 1 565.8,400.8A88.6,63.4 143.4 1 1 423.6,506.4Z"/><path d="M250,300L320,250L414,262L479,270L529.5,268C536,290 540,300 544,310L558,345L569,380L572.6,406L574,432L545,470L442.6,420L442.6,407L386.4,407L386.4,420L330,420L255,410L222,360Z"/></g><g fill="url(#blobg)"><ellipse cx="320.6" cy="285.3" rx="88.4" ry="80.8"/><ellipse cx="414.1" cy="248.4" rx="29.8" ry="36.3"/><ellipse cx="479.1" cy="261.2" rx="50.3" ry="46.7"/><ellipse cx="251.3" cy="364.5" rx="45.5" ry="69"/><ellipse cx="329.5" cy="446.6" rx="60.5" ry="64.2"/><path d="M423.6,506.4A88.6,63.4 143.4 1 1 565.8,400.8A88.6,63.4 143.4 1 1 423.6,506.4Z"/><path d="M250,300L320,250L414,262L479,270L529.5,268C536,290 540,300 544,310L558,345L569,380L572.6,406L574,432L545,470L442.6,420L442.6,407L386.4,407L386.4,420L330,420L255,410L222,360Z"/></g><path d="M129,346V354" stroke="#16135e" stroke-width="1.7"/><path d="M129,354V362" stroke="#2aa2c8" stroke-width="1.7"/><path d="M136.7,346V354" stroke="#16135e" stroke-width="1.7"/><path d="M136.7,354V362" stroke="#2aa2c8" stroke-width="1.7"/><path d="M158.4,344.5V354.8" stroke="#0c5690" stroke-width="1.7"/><path d="M158.4,354.8V365" stroke="#2aa2c8" stroke-width="1.7"/><path d="M166,344V354" stroke="#0c5690" stroke-width="1.7"/><path d="M166,354V364" stroke="#2aa2c8" stroke-width="1.7"/><path d="M187,343.5V356.2" stroke="#16135e" stroke-width="1.7"/><path d="M187,356.2V369" stroke="#2aa2c8" stroke-width="1.7"/><path d="M193.5,344V356.8" stroke="#16135e" stroke-width="1.7"/><path d="M193.5,356.8V369.5" stroke="#2aa2c8" stroke-width="1.7"/><path d="M66.7,348.4C68.3,351.5 69.8,352.8 73,352.8" stroke="#16135e" stroke-width="1.0" fill="none" stroke-linecap="round"/><path d="M66.7,348.4C68.3,349.7 69.8,350.2 73,350.2" stroke="#0c5690" stroke-width="1.0" fill="none" stroke-linecap="round"/><path d="M73,352.8C76.5,352.8 78.2,353.3 80,354.6" stroke="#16135e" stroke-width="1.0" fill="none" stroke-linecap="round"/><path d="M73,350.2C76.5,350.2 78.2,351.5 80,354.6" stroke="#0c5690" stroke-width="1.0" fill="none" stroke-linecap="round"/><path d="M80,354.6C81.8,353.2 83.5,352.6 87,352.6" stroke="#16135e" stroke-width="1.8" fill="none" stroke-linecap="round"/><path d="M80,354.6C81.8,357.9 83.5,359.3 87,359.3" stroke="#0c5690" stroke-width="1.8" fill="none" stroke-linecap="round"/><path d="M87,352.6C90.5,352.6 92.2,354.1 94,357.5" stroke="#16135e" stroke-width="1.8" fill="none" stroke-linecap="round"/><path d="M87,359.3C90.5,359.3 92.2,358.8 94,357.5" stroke="#0c5690" stroke-width="1.8" fill="none" stroke-linecap="round"/><path d="M94,357.5C97,359.6 100,360.5 106,360.5" stroke="#16135e" stroke-width="2.8" fill="none" stroke-linecap="round"/><path d="M94,357.5C97,348.5 100,344.6 106,344.6" stroke="#0c5690" stroke-width="2.8" fill="none" stroke-linecap="round"/><path d="M106,360.5C112,360.5 115,356.9 118,348.5" stroke="#16135e" stroke-width="2.8" fill="none" stroke-linecap="round"/><path d="M106,344.6C112,344.6 115,345.8 118,348.5" stroke="#0c5690" stroke-width="2.8" fill="none" stroke-linecap="round"/><path d="M118,348.5C121.8,344.5 125.5,342.8 133,342.8" stroke="#16135e" stroke-width="3.4" fill="none" stroke-linecap="round"/><path d="M118,348.5C121.8,359.7 125.5,364.5 133,364.5" stroke="#0c5690" stroke-width="3.4" fill="none" stroke-linecap="round"/><path d="M133,342.8C140.4,342.8 144.1,347.9 147.8,359.8" stroke="#16135e" stroke-width="3.4" fill="none" stroke-linecap="round"/><path d="M133,364.5C140.4,364.5 144.1,363.1 147.8,359.8" stroke="#0c5690" stroke-width="3.4" fill="none" stroke-linecap="round"/><path d="M147.8,359.8C151.3,365.2 154.9,367.5 161.9,367.5" stroke="#16135e" stroke-width="3.9" fill="none" stroke-linecap="round"/><path d="M147.8,359.8C151.3,346.5 154.9,340.8 161.9,340.8" stroke="#0c5690" stroke-width="3.9" fill="none" stroke-linecap="round"/><path d="M161.9,367.5C168.9,367.5 172.5,361.4 176,347.3" stroke="#16135e" stroke-width="3.9" fill="none" stroke-linecap="round"/><path d="M161.9,340.8C168.9,340.8 172.5,342.8 176,347.3" stroke="#0c5690" stroke-width="3.9" fill="none" stroke-linecap="round"/><path d="M176,347.3C179.8,341.8 183.7,339.5 191.3,339.5" stroke="#16135e" stroke-width="4.4" fill="none" stroke-linecap="round"/><path d="M176,347.3C179.8,364.4 183.7,371.8 191.3,371.8" stroke="#0c5690" stroke-width="4.4" fill="none" stroke-linecap="round"/><path d="M191.3,339.5C198.9,339.5 202.8,347.4 206.6,366" stroke="#16135e" stroke-width="4.4" fill="none" stroke-linecap="round"/><path d="M191.3,371.8C198.9,371.8 202.8,370.1 206.6,366" stroke="#0c5690" stroke-width="4.4" fill="none" stroke-linecap="round"/><path d="M565.4,342V355.5" stroke="#16135e" stroke-width="1.7"/><path d="M565.4,355.5V369" stroke="#2aa2c8" stroke-width="1.7"/><path d="M574.2,342V355" stroke="#16135e" stroke-width="1.7"/><path d="M574.2,355V368" stroke="#2aa2c8" stroke-width="1.7"/><path d="M595,344V355" stroke="#0c5690" stroke-width="1.7"/><path d="M595,355V366" stroke="#2aa2c8" stroke-width="1.7"/><path d="M602,344V354.8" stroke="#0c5690" stroke-width="1.7"/><path d="M602,354.8V365.5" stroke="#2aa2c8" stroke-width="1.7"/><path d="M622.6,345.5V354.8" stroke="#16135e" stroke-width="1.7"/><path d="M622.6,354.8V364" stroke="#2aa2c8" stroke-width="1.7"/><path d="M630.5,345V354" stroke="#16135e" stroke-width="1.7"/><path d="M630.5,354V363" stroke="#2aa2c8" stroke-width="1.7"/><path d="M556,366C559.8,347.3 563.5,339.3 571,339.3" stroke="#16135e" stroke-width="4.4" fill="none" stroke-linecap="round"/><path d="M556,366C559.8,370.2 563.5,372 571,372" stroke="#0c5690" stroke-width="4.4" fill="none" stroke-linecap="round"/><path d="M571,339.3C578.8,339.3 582.6,342.2 586.5,349" stroke="#16135e" stroke-width="4.4" fill="none" stroke-linecap="round"/><path d="M571,372C578.8,372 582.6,365.1 586.5,349" stroke="#0c5690" stroke-width="4.4" fill="none" stroke-linecap="round"/><path d="M586.5,349C590,362.5 593.5,368.3 600.6,368.3" stroke="#16135e" stroke-width="3.9" fill="none" stroke-linecap="round"/><path d="M586.5,349C590,343.4 593.5,341 600.6,341" stroke="#0c5690" stroke-width="3.9" fill="none" stroke-linecap="round"/><path d="M600.6,368.3C607.7,368.3 611.2,366.7 614.7,363" stroke="#16135e" stroke-width="3.9" fill="none" stroke-linecap="round"/><path d="M600.6,341C607.7,341 611.2,347.6 614.7,363" stroke="#0c5690" stroke-width="3.9" fill="none" stroke-linecap="round"/><path d="M614.7,363C618.2,348.9 621.7,342.8 628.7,342.8" stroke="#16135e" stroke-width="3.3" fill="none" stroke-linecap="round"/><path d="M614.7,363C618.2,365.4 621.7,366.5 628.7,366.5" stroke="#0c5690" stroke-width="3.3" fill="none" stroke-linecap="round"/><path d="M628.7,342.8C635.8,342.8 639.3,344.7 642.8,349" stroke="#16135e" stroke-width="3.3" fill="none" stroke-linecap="round"/><path d="M628.7,366.5C635.8,366.5 639.3,361.2 642.8,349" stroke="#0c5690" stroke-width="3.3" fill="none" stroke-linecap="round"/><path d="M642.8,349C645.6,357.6 648.5,361.3 654.2,361.3" stroke="#16135e" stroke-width="2.6" fill="none" stroke-linecap="round"/><path d="M642.8,349C645.6,345.9 648.5,344.6 654.2,344.6" stroke="#0c5690" stroke-width="2.6" fill="none" stroke-linecap="round"/><path d="M654.2,361.3C659.9,361.3 662.8,359.1 665.6,354" stroke="#16135e" stroke-width="2.6" fill="none" stroke-linecap="round"/><path d="M654.2,344.6C659.9,344.6 662.8,347.4 665.6,354" stroke="#0c5690" stroke-width="2.6" fill="none" stroke-linecap="round"/><path d="M665.6,354C667.4,351.6 669.1,350.5 672.6,350.5" stroke="#16135e" stroke-width="1.7" fill="none" stroke-linecap="round"/><path d="M665.6,354C667.4,357.1 669.1,358.5 672.6,358.5" stroke="#0c5690" stroke-width="1.7" fill="none" stroke-linecap="round"/><path d="M672.6,350.5C676.2,350.5 677.9,351.9 679.7,355" stroke="#16135e" stroke-width="1.7" fill="none" stroke-linecap="round"/><path d="M672.6,358.5C676.2,358.5 677.9,357.4 679.7,355" stroke="#0c5690" stroke-width="1.7" fill="none" stroke-linecap="round"/><path d="M679.7,355C681.5,353.6 683.2,353 686.7,353" stroke="#16135e" stroke-width="1.0" fill="none" stroke-linecap="round"/><path d="M679.7,355C681.5,352.6 683.2,351.5 686.7,351.5" stroke="#0c5690" stroke-width="1.0" fill="none" stroke-linecap="round"/><path d="M686.7,353C690.2,353 692,351.5 693.7,348" stroke="#16135e" stroke-width="1.0" fill="none" stroke-linecap="round"/><path d="M686.7,351.5C690.2,351.5 692,350.4 693.7,348" stroke="#0c5690" stroke-width="1.0" fill="none" stroke-linecap="round"/><path d="M215.7,338V355" stroke="#0c5690" stroke-width="2.6"/><path d="M215.7,355V372.5" stroke="#071d7e" stroke-width="2.6"/><path d="M226,338V355" stroke="#0c5690" stroke-width="2.6"/><path d="M226,355V372.5" stroke="#071d7e" stroke-width="2.6"/><path d="M236.3,338V355" stroke="#0c5690" stroke-width="2.6"/><path d="M236.3,355V372.5" stroke="#071d7e" stroke-width="2.6"/><path d="M246.5,338V355" stroke="#0c5690" stroke-width="2.6"/><path d="M246.5,355V372.5" stroke="#071d7e" stroke-width="2.6"/><path d="M515,338.5V356" stroke="#0c5690" stroke-width="2.6"/><path d="M515,358V373.8" stroke="#071d7e" stroke-width="2.6"/><path d="M528,338.5V356" stroke="#0c5690" stroke-width="2.6"/><path d="M528,358V373.8" stroke="#071d7e" stroke-width="2.6"/><path d="M537.5,338.5V356" stroke="#0c5690" stroke-width="2.6"/><path d="M537.5,358V373.8" stroke="#071d7e" stroke-width="2.6"/><path d="M545.9,338.5V356" stroke="#0c5690" stroke-width="2.6"/><path d="M545.9,358V373.8" stroke="#071d7e" stroke-width="2.6"/><path d="M260.7,334L268.4,346.3" stroke="#0c5690" stroke-width="2.7"/><path d="M269.6,326.2L280.3,336" stroke="#0c5690" stroke-width="2.7"/><path d="M278,317.3L287.9,328" stroke="#0c5690" stroke-width="2.7"/><path d="M287.9,310.9L293,324.5" stroke="#0c5690" stroke-width="2.7"/><path d="M299.6,309.2L299.6,323.7" stroke="#0c5690" stroke-width="2.7"/><path d="M311.9,309.2L311.9,323.7" stroke="#0c5690" stroke-width="2.7"/><path d="M324.1,309.2L324.1,323.7" stroke="#0c5690" stroke-width="2.7"/><path d="M336.3,309.2L336.3,323.7" stroke="#0c5690" stroke-width="2.7"/><path d="M347.7,309.2L347.7,323.7" stroke="#0c5690" stroke-width="2.7"/><path d="M359.9,309.2L359.9,323.7" stroke="#0c5690" stroke-width="2.7"/><path d="M372.2,309.2L372.2,323.7" stroke="#0c5690" stroke-width="2.7"/><path d="M384.4,309.2L384.4,323.7" stroke="#0c5690" stroke-width="2.7"/><path d="M395.8,309.2L395.8,323.7" stroke="#0c5690" stroke-width="2.7"/><path d="M408,309.2L408,323.7" stroke="#0c5690" stroke-width="2.7"/><path d="M420.2,309.2L420.2,323.7" stroke="#0c5690" stroke-width="2.7"/><path d="M431.7,309.2L431.7,323.7" stroke="#0c5690" stroke-width="2.7"/><path d="M443.9,309.2L443.9,323.7" stroke="#0c5690" stroke-width="2.7"/><path d="M456.1,309.2L456.1,323.7" stroke="#0c5690" stroke-width="2.7"/><path d="M467.7,309.9L464.7,324.1" stroke="#0c5690" stroke-width="2.7"/><path d="M478.6,314.6L470.4,326.6" stroke="#0c5690" stroke-width="2.7"/><path d="M487.7,322.5L477.4,332.8" stroke="#0c5690" stroke-width="2.7"/><path d="M250.4,373.1L252.5,358.8" stroke="#071d7e" stroke-width="2.7"/><path d="M261.5,377.6L269.8,365.7" stroke="#071d7e" stroke-width="2.7"/><path d="M270.1,385.7L281,376.1" stroke="#071d7e" stroke-width="2.7"/><path d="M278.3,394.6L288.3,384.1" stroke="#071d7e" stroke-width="2.7"/><path d="M288.2,401.2L293.6,387.8" stroke="#071d7e" stroke-width="2.7"/><path d="M299.8,403.2L299.8,388.7" stroke="#071d7e" stroke-width="2.7"/><path d="M312.5,403.2L312.5,388.7" stroke="#071d7e" stroke-width="2.7"/><path d="M324.4,403.2L324.4,388.7" stroke="#071d7e" stroke-width="2.7"/><path d="M336.4,403.2L336.4,388.7" stroke="#071d7e" stroke-width="2.7"/><path d="M348.3,403.2L348.3,388.7" stroke="#071d7e" stroke-width="2.7"/><path d="M360.2,403.2L360.2,388.7" stroke="#071d7e" stroke-width="2.7"/><path d="M372.1,403.2L372.1,388.7" stroke="#071d7e" stroke-width="2.7"/><path d="M384.1,403.2L384.1,388.7" stroke="#071d7e" stroke-width="2.7"/><path d="M396,403.2L396,388.7" stroke="#071d7e" stroke-width="2.7"/><path d="M407.9,403.2L407.9,388.7" stroke="#071d7e" stroke-width="2.7"/><path d="M419.8,403.2L419.8,388.7" stroke="#071d7e" stroke-width="2.7"/><path d="M432.6,403.2L432.6,388.7" stroke="#071d7e" stroke-width="2.7"/><path d="M444.5,403.2L444.5,388.7" stroke="#071d7e" stroke-width="2.7"/><path d="M456.4,403.2L456.4,388.7" stroke="#071d7e" stroke-width="2.7"/><path d="M467.8,401.7L463.5,387.9" stroke="#071d7e" stroke-width="2.7"/><path d="M478.3,396.3L469.7,384.6" stroke="#071d7e" stroke-width="2.7"/><path d="M487.5,388.3L477.5,377.8" stroke="#071d7e" stroke-width="2.7"/><path d="M206,366C208,372 212,372.5 220,372.5C228.7,372.6 237.3,372.7 246,372.8C272,372.8 272,403.2 299,403.2C352,403.2 405,403.2 458,403.2C485,403.2 490,373.8 515,373.8C525.7,373.8 536.3,373.8 547,373.8C551,373.8 553,370 556,366" stroke="#071d7e" stroke-width="5" fill="none" stroke-linejoin="round"/><path d="M206,366C210,354 213,338 221,338C229.3,338 237.7,338 246,338C272,338 272,309.2 298,309.2C352.3,309.2 406.7,309.2 461,309.2C488,309.2 490,338.5 517,338.5C525,338.5 533,338.5 541,338.5C549,338.5 552,356 556,366" stroke="#0c5690" stroke-width="4.8" fill="none" stroke-linejoin="round"/><path d="M449,361.4H498.8Q501.8,361.4 501.8,358.4V315.8H507" stroke="#1a2458" stroke-width="2.2" fill="none"/><rect x="507" y="293.3" width="10.7" height="3.8" fill="#d6f1fb"/><rect x="507" y="309.5" width="10.7" height="3.8" fill="#d6f1fb"/><path d="M507,293.6H517.7" stroke="#1a2458" stroke-width="1.1"/><path d="M507,296.8H517.7" stroke="#1a2458" stroke-width="1.1"/><path d="M507,309.8H517.7" stroke="#1a2458" stroke-width="1.1"/><path d="M507,313H517.7" stroke="#1a2458" stroke-width="1.1"/><path d="M535.3,285.5L546.4,287L542.7,300L532.4,298.5Z" fill="#d6f1fb"/><path d="M535.2,285.8L546.3,287.3" stroke="#1a2458" stroke-width="1.1"/><path d="M534.4,289.4L545.3,290.9" stroke="#1a2458" stroke-width="1.1"/><path d="M533.6,293L544.3,294.5" stroke="#1a2458" stroke-width="1.1"/><path d="M532.8,296.6L543.3,298.1" stroke="#1a2458" stroke-width="1.1"/><path d="M562.2,279.5L573.4,281L568.6,300.5L558,299Z" fill="#d6f1fb"/><path d="M562.1,280L573.3,281.5" stroke="#1a2458" stroke-width="1.1"/><path d="M561.3,283.6L572.4,285.1" stroke="#1a2458" stroke-width="1.1"/><path d="M560.5,287.2L571.5,288.7" stroke="#1a2458" stroke-width="1.1"/><path d="M559.7,290.8L570.6,292.3" stroke="#1a2458" stroke-width="1.1"/><path d="M559,294.4L569.7,295.9" stroke="#1a2458" stroke-width="1.1"/><path d="M558.2,298L568.8,299.5" stroke="#1a2458" stroke-width="1.1"/><path d="M507,316V292.3 A9.5,9.5 0 1 1 517.7,292.3 V297.5 A4.6,4.6 0 0 1 517.7,307 V313 Q518,316.5 523.3,316.5 Q528.7,316.5 529.5,311 L536,282.5 A9.5,9.5 0 1 1 547.6,282.8 L542.6,300.4 Q541,308.5 549.5,308.5 Q556,308.5 557.4,301.6 L563,275.8 A9.8,9.8 0 1 1 574,278.6 L568.2,302 Q566.5,312 576,313.5 L590.2,316.3" stroke="#1a2458" stroke-width="2.2" fill="none" stroke-linejoin="round"/><circle cx="400.1" cy="290.2" r="3.7" stroke="#2b9fd3" stroke-width="1.6" fill="none"/><circle cx="391.9" cy="300.7" r="3.7" stroke="#2b9fd3" stroke-width="1.6" fill="none"/><path d="M401.9,293.4L406.8,304M395.3,301.9L406.8,304" stroke="#2b9fd3" stroke-width="1.6"/><path d="M403.7,305.3Q413.3,308.4 423.7,308.6Q414.4,304.3 404.8,301.3Z" fill="#2b9fd3"/><path d="M403.7,303.1Q408.6,311.3 416,317.8Q412.1,308.9 407.2,300.8Z" fill="#2b9fd3"/><circle cx="394.5" cy="415.4" r="3.7" stroke="#2b9fd3" stroke-width="1.6" fill="none"/><circle cx="404.5" cy="424.6" r="3.7" stroke="#2b9fd3" stroke-width="1.6" fill="none"/><path d="M396.3,418.6L407.8,409.3M407.9,425.8L407.8,409.3" stroke="#2b9fd3" stroke-width="1.6"/><path d="M408.5,412.5Q413.3,404.1 415.5,394.4Q409.6,402.2 404.8,410.6Z" fill="#2b9fd3"/><path d="M405.9,412.3Q416.1,408.8 425.2,402.6Q414.6,404.9 404.4,408.3Z" fill="#2b9fd3"/><text x="287.7" y="335.3" font-family="Liberation Serif" font-size="11.4" font-weight="bold" fill="#1a1a1a" textLength="193" lengthAdjust="spacingAndGlyphs">3' CCAGGGA<tspan fill="#e0262e">A</tspan><tspan fill="#e0262e">T</tspan>GTTCAGGGCTAACC 5'</text><path d="M301.3,338.6V346.6" stroke="#1a1a1a" stroke-width="1.3"/><path d="M308.4,338.6V346.6" stroke="#1a1a1a" stroke-width="1.3"/><path d="M315.5,338.6V346.6" stroke="#1a1a1a" stroke-width="1.3"/><path d="M322.6,338.6V346.6" stroke="#1a1a1a" stroke-width="1.3"/><path d="M329.7,338.6V346.6" stroke="#1a1a1a" stroke-width="1.3"/><path d="M336.8,338.6V346.6" stroke="#1a1a1a" stroke-width="1.3"/><path d="M343.9,338.6V346.6" stroke="#1a1a1a" stroke-width="1.3"/><path d="M351,338.6V346.6" stroke="#1a1a1a" stroke-width="1.3"/><path d="M358.1,338.6V346.6" stroke="#1a1a1a" stroke-width="1.3"/><path d="M365.2,338.6V346.6" stroke="#1a1a1a" stroke-width="1.3"/><path d="M372.3,338.6V346.6" stroke="#1a1a1a" stroke-width="1.3"/><path d="M379.4,338.6V346.6" stroke="#1a1a1a" stroke-width="1.3"/><path d="M386.5,338.6V346.6" stroke="#1a1a1a" stroke-width="1.3"/><path d="M393.6,338.6V346.6" stroke="#1a1a1a" stroke-width="1.3"/><path d="M400.7,338.6V346.6" stroke="#1a1a1a" stroke-width="1.3"/><path d="M407.8,338.6V346.6" stroke="#1a1a1a" stroke-width="1.3"/><path d="M414.9,338.6V346.6" stroke="#1a1a1a" stroke-width="1.3"/><path d="M422,338.6V346.6" stroke="#1a1a1a" stroke-width="1.3"/><path d="M429.1,338.6V346.6" stroke="#1a1a1a" stroke-width="1.3"/><path d="M436.2,338.6V346.6" stroke="#1a1a1a" stroke-width="1.3"/><path d="M443.3,338.6V346.6" stroke="#1a1a1a" stroke-width="1.3"/><text x="299.5" y="355.3" font-family="Liberation Serif" font-size="11.4" font-weight="bold" fill="#1a1a1a" textLength="147.5" lengthAdjust="spacingAndGlyphs">AGACCCUUACAAGUCCCGAU</text><path d="M300.5,356V362" stroke="#071d7e" stroke-width="1.3"/><path d="M307.7,356V362" stroke="#071d7e" stroke-width="1.3"/><path d="M314.9,356V362" stroke="#071d7e" stroke-width="1.3"/><path d="M322.1,356V362" stroke="#071d7e" stroke-width="1.3"/><path d="M329.3,356V362" stroke="#071d7e" stroke-width="1.3"/><path d="M336.5,356V362" stroke="#071d7e" stroke-width="1.3"/><path d="M343.7,356V362" stroke="#071d7e" stroke-width="1.3"/><path d="M350.9,356V362" stroke="#071d7e" stroke-width="1.3"/><path d="M358.1,356V362" stroke="#071d7e" stroke-width="1.3"/><path d="M365.3,356V362" stroke="#071d7e" stroke-width="1.3"/><path d="M372.5,356V362" stroke="#071d7e" stroke-width="1.3"/><path d="M379.7,356V362" stroke="#071d7e" stroke-width="1.3"/><path d="M386.9,356V362" stroke="#071d7e" stroke-width="1.3"/><path d="M394.1,356V362" stroke="#071d7e" stroke-width="1.3"/><path d="M401.3,356V362" stroke="#071d7e" stroke-width="1.3"/><path d="M408.5,356V362" stroke="#071d7e" stroke-width="1.3"/><path d="M415.7,356V362" stroke="#071d7e" stroke-width="1.3"/><path d="M422.9,356V362" stroke="#071d7e" stroke-width="1.3"/><path d="M430.1,356V362" stroke="#071d7e" stroke-width="1.3"/><path d="M437.3,356V362" stroke="#071d7e" stroke-width="1.3"/><path d="M444.5,356V362" stroke="#071d7e" stroke-width="1.3"/><path d="M299.2,362.6H448" stroke="#071d7e" stroke-width="2.4"/><text x="287" y="378.9" font-family="Liberation Serif" font-size="11.4" font-weight="bold" fill="#1a1a1a" textLength="193.5" lengthAdjust="spacingAndGlyphs">5' GGTCCCT<tspan fill="#e0262e">T</tspan><tspan fill="#e0262e">A</tspan>CAAGTCCCGATTGG 3'</text><path d="M449.4,341.4H468.2M450.6,383.7H468.8" stroke="#1a1a1a" stroke-width="1.5"/><rect x="297.7" y="325.5" width="8.7" height="12.6" fill="none" stroke="#e0479a" stroke-width="1.1"/><rect x="312.6" y="325.5" width="8.7" height="12.6" fill="none" stroke="#e0479a" stroke-width="1.1"/><rect x="297.1" y="369" width="9.3" height="12.6" fill="none" stroke="#e0479a" stroke-width="1.1"/><rect x="313.4" y="369" width="8.2" height="12.6" fill="none" stroke="#e0479a" stroke-width="1.1"/><text x="72.9" y="378" font-family="Liberation Serif" font-size="13" font-weight="bold" fill="#1a1a1a" textLength="81.4" lengthAdjust="spacingAndGlyphs">Target genome</text><text x="311.7" y="478.6" font-family="Liberation Serif" font-size="16" font-weight="bold" fill="#1a1a1a" textLength="32.5" lengthAdjust="spacingAndGlyphs">Cas9</text><text x="590.7" y="312.5" font-family="Liberation Serif" font-size="11.5" font-weight="bold" fill="#1a1a1a" textLength="34.3" lengthAdjust="spacingAndGlyphs">sgRNA</text></g><g transform="translate(0,547)"><text x="39" y="53.8" font-family="Liberation Serif" font-size="16.5" font-weight="bold" fill="#1a1a1a" textLength="19.6" lengthAdjust="spacingAndGlyphs">(a)</text><g clip-path="url(#refclip)"><rect x="65.5" y="42" width="150" height="89" fill="#16151d"/><g filter="url(#soft)"><rect x="62" y="40" width="3.9" height="2.4" rx="1.2" fill="#2060c8" opacity="0.47"/><rect x="68.4" y="40.9" width="4" height="2.4" rx="1.2" fill="#2060c8" opacity="0.48"/><rect x="74.8" y="41.8" width="4" height="2.4" rx="1.2" fill="#38a8f0" opacity="0.66"/><rect x="87.6" y="43.6" width="4" height="2.4" rx="1.2" fill="#2060c8" opacity="0.51"/><rect x="100.4" y="45.4" width="4.1" height="2.5" rx="1.2" fill="#5ac040" opacity="0.47"/><rect x="113.2" y="47.2" width="4.2" height="2.5" rx="1.2" fill="#38a8f0" opacity="0.52"/><rect x="132.4" y="49.9" width="4.2" height="2.5" rx="1.2" fill="#2060c8" opacity="0.74"/><rect x="151.6" y="52.6" width="4.3" height="2.6" rx="1.2" fill="#38a8f0" opacity="0.79"/><rect x="158" y="53.5" width="4.3" height="2.6" rx="1.2" fill="#a01c28" opacity="0.63"/><rect x="177.2" y="56.2" width="4.4" height="2.6" rx="1.2" fill="#e0403a" opacity="0.71"/><rect x="183.6" y="57.1" width="4.4" height="2.7" rx="1.2" fill="#38a8f0" opacity="0.75"/><rect x="196.4" y="58.9" width="4.5" height="2.7" rx="1.2" fill="#e0403a" opacity="0.53"/><rect x="202.8" y="59.8" width="4.5" height="2.7" rx="1.2" fill="#d02a30" opacity="0.83"/><rect x="209.2" y="60.7" width="4.5" height="2.7" rx="1.2" fill="#38a8f0" opacity="0.62"/><rect x="215.6" y="61.6" width="4.6" height="2.7" rx="1.2" fill="#a01c28" opacity="0.48"/><rect x="75.6" y="48" width="4.2" height="2.5" rx="1.2" fill="#2060c8" opacity="0.80"/><rect x="82" y="48.9" width="4.2" height="2.5" rx="1.2" fill="#5ac040" opacity="0.59"/><rect x="88.4" y="49.8" width="4.2" height="2.5" rx="1.2" fill="#30b84a" opacity="0.92"/><rect x="94.8" y="50.7" width="4.3" height="2.6" rx="1.2" fill="#5ac040" opacity="0.48"/><rect x="101.2" y="51.6" width="4.3" height="2.6" rx="1.2" fill="#2a8ee8" opacity="0.65"/><rect x="107.6" y="52.5" width="4.3" height="2.6" rx="1.2" fill="#2a8ee8" opacity="0.67"/><rect x="114" y="53.4" width="4.3" height="2.6" rx="1.2" fill="#5ac040" opacity="0.88"/><rect x="126.8" y="55.2" width="4.4" height="2.6" rx="1.2" fill="#38a8f0" opacity="0.93"/><rect x="158.8" y="59.7" width="4.5" height="2.7" rx="1.2" fill="#30b84a" opacity="0.52"/><rect x="165.2" y="60.6" width="4.5" height="2.7" rx="1.2" fill="#30b84a" opacity="0.80"/><rect x="171.6" y="61.5" width="4.6" height="2.7" rx="1.2" fill="#2060c8" opacity="0.82"/><rect x="178" y="62.4" width="4.6" height="2.8" rx="1.2" fill="#2060c8" opacity="0.85"/><rect x="184.4" y="63.3" width="4.6" height="2.8" rx="1.2" fill="#d02a30" opacity="0.69"/><rect x="190.8" y="64.2" width="4.6" height="2.8" rx="1.2" fill="#b8222c" opacity="0.67"/><rect x="203.6" y="66" width="4.7" height="2.8" rx="1.2" fill="#b8222c" opacity="0.72"/><rect x="210" y="66.9" width="4.7" height="2.8" rx="1.2" fill="#2a8ee8" opacity="0.89"/><rect x="216.4" y="67.8" width="4.8" height="2.9" rx="1.2" fill="#e0403a" opacity="0.93"/><rect x="63.6" y="52.4" width="4.3" height="2.6" rx="1.2" fill="#2a8ee8" opacity="0.87"/><rect x="70" y="53.3" width="4.3" height="2.6" rx="1.2" fill="#38a8f0" opacity="0.61"/><rect x="82.8" y="55.1" width="4.4" height="2.6" rx="1.2" fill="#5ac040" opacity="0.86"/><rect x="102" y="57.8" width="4.5" height="2.7" rx="1.2" fill="#2a8ee8" opacity="0.80"/><rect x="108.4" y="58.7" width="4.5" height="2.7" rx="1.2" fill="#5ac040" opacity="0.94"/><rect x="114.8" y="59.6" width="4.5" height="2.7" rx="1.2" fill="#5ac040" opacity="0.71"/><rect x="121.2" y="60.5" width="4.5" height="2.7" rx="1.2" fill="#2a8ee8" opacity="0.72"/><rect x="127.6" y="61.4" width="4.6" height="2.7" rx="1.2" fill="#2a8ee8" opacity="0.76"/><rect x="134" y="62.3" width="4.6" height="2.8" rx="1.2" fill="#30b84a" opacity="0.86"/><rect x="140.4" y="63.2" width="4.6" height="2.8" rx="1.2" fill="#a01c28" opacity="0.63"/><rect x="172.4" y="67.7" width="4.8" height="2.9" rx="1.2" fill="#38a8f0" opacity="0.85"/><rect x="178.8" y="68.6" width="4.8" height="2.9" rx="1.2" fill="#e0403a" opacity="0.49"/><rect x="191.6" y="70.4" width="4.8" height="2.9" rx="1.2" fill="#a01c28" opacity="0.76"/><rect x="198" y="71.3" width="4.9" height="2.9" rx="1.2" fill="#38a8f0" opacity="0.90"/><rect x="204.4" y="72.2" width="4.9" height="2.9" rx="1.2" fill="#2060c8" opacity="0.51"/><rect x="210.8" y="73.1" width="4.9" height="2.9" rx="1.2" fill="#2a8ee8" opacity="0.69"/><rect x="64.4" y="58.6" width="4.5" height="2.7" rx="1.2" fill="#2060c8" opacity="0.65"/><rect x="70.8" y="59.5" width="4.5" height="2.7" rx="1.2" fill="#30b84a" opacity="0.54"/><rect x="90" y="62.2" width="4.6" height="2.8" rx="1.2" fill="#5ac040" opacity="0.78"/><rect x="96.4" y="63.1" width="4.6" height="2.8" rx="1.2" fill="#b8222c" opacity="0.46"/><rect x="102.8" y="64" width="4.6" height="2.8" rx="1.2" fill="#30b84a" opacity="0.67"/><rect x="109.2" y="64.9" width="4.7" height="2.8" rx="1.2" fill="#5ac040" opacity="0.56"/><rect x="115.6" y="65.8" width="4.7" height="2.8" rx="1.2" fill="#5ac040" opacity="0.87"/><rect x="128.4" y="67.6" width="4.7" height="2.8" rx="1.2" fill="#2060c8" opacity="0.66"/><rect x="134.8" y="68.5" width="4.8" height="2.9" rx="1.2" fill="#2060c8" opacity="0.71"/><rect x="141.2" y="69.4" width="4.8" height="2.9" rx="1.2" fill="#2a8ee8" opacity="0.54"/><rect x="147.6" y="70.3" width="4.8" height="2.9" rx="1.2" fill="#38a8f0" opacity="0.79"/><rect x="154" y="71.2" width="4.9" height="2.9" rx="1.2" fill="#d02a30" opacity="0.89"/><rect x="186" y="75.7" width="5" height="3" rx="1.2" fill="#d02a30" opacity="0.67"/><rect x="192.4" y="76.6" width="5" height="3" rx="1.2" fill="#b8222c" opacity="0.80"/><rect x="198.8" y="77.5" width="5" height="3" rx="1.2" fill="#a01c28" opacity="0.70"/><rect x="211.6" y="79.3" width="5.1" height="3.1" rx="1.2" fill="#38a8f0" opacity="0.91"/><rect x="65.2" y="64.8" width="4.7" height="2.8" rx="1.2" fill="#a01c28" opacity="0.52"/><rect x="78" y="66.6" width="4.7" height="2.8" rx="1.2" fill="#b8222c" opacity="0.66"/><rect x="103.6" y="70.2" width="4.8" height="2.9" rx="1.2" fill="#38a8f0" opacity="0.52"/><rect x="110" y="71.1" width="4.9" height="2.9" rx="1.2" fill="#30b84a" opacity="0.65"/><rect x="116.4" y="72" width="4.9" height="2.9" rx="1.2" fill="#2a8ee8" opacity="0.80"/><rect x="122.8" y="72.9" width="4.9" height="2.9" rx="1.2" fill="#a01c28" opacity="0.55"/><rect x="135.6" y="74.7" width="5" height="3" rx="1.2" fill="#a01c28" opacity="0.67"/><rect x="148.4" y="76.5" width="5" height="3" rx="1.2" fill="#2a8ee8" opacity="0.51"/><rect x="154.8" y="77.4" width="5" height="3" rx="1.2" fill="#d02a30" opacity="0.49"/><rect x="167.6" y="79.2" width="5.1" height="3.1" rx="1.2" fill="#b8222c" opacity="0.86"/><rect x="174" y="80.1" width="5.1" height="3.1" rx="1.2" fill="#38a8f0" opacity="0.65"/><rect x="180.4" y="81" width="5.1" height="3.1" rx="1.2" fill="#a01c28" opacity="0.80"/><rect x="199.6" y="83.7" width="5.2" height="3.1" rx="1.2" fill="#d02a30" opacity="0.58"/><rect x="72.4" y="71.9" width="4.9" height="2.9" rx="1.2" fill="#e0403a" opacity="0.88"/><rect x="78.8" y="72.8" width="4.9" height="2.9" rx="1.2" fill="#a01c28" opacity="0.91"/><rect x="98" y="75.5" width="5" height="3" rx="1.2" fill="#d02a30" opacity="0.93"/><rect x="117.2" y="78.2" width="5.1" height="3" rx="1.2" fill="#2a8ee8" opacity="0.59"/><rect x="123.6" y="79.1" width="5.1" height="3.1" rx="1.2" fill="#e0403a" opacity="0.85"/><rect x="130" y="80" width="5.1" height="3.1" rx="1.2" fill="#d02a30" opacity="0.82"/><rect x="136.4" y="80.9" width="5.1" height="3.1" rx="1.2" fill="#a01c28" opacity="0.57"/><rect x="142.8" y="81.8" width="5.2" height="3.1" rx="1.2" fill="#2060c8" opacity="0.70"/><rect x="149.2" y="82.7" width="5.2" height="3.1" rx="1.2" fill="#e0403a" opacity="0.79"/><rect x="155.6" y="83.6" width="5.2" height="3.1" rx="1.2" fill="#b8222c" opacity="0.65"/><rect x="162" y="84.5" width="5.2" height="3.1" rx="1.2" fill="#b8222c" opacity="0.46"/><rect x="168.4" y="85.4" width="5.3" height="3.2" rx="1.2" fill="#30b84a" opacity="0.49"/><rect x="174.8" y="86.3" width="5.3" height="3.2" rx="1.2" fill="#2060c8" opacity="0.94"/><rect x="181.2" y="87.2" width="5.3" height="3.2" rx="1.2" fill="#2a8ee8" opacity="0.68"/><rect x="194" y="89" width="5.4" height="3.2" rx="1.2" fill="#e0403a" opacity="0.94"/><rect x="200.4" y="89.9" width="5.4" height="3.2" rx="1.2" fill="#e0403a" opacity="0.56"/><rect x="213.2" y="91.7" width="5.5" height="3.3" rx="1.2" fill="#e0403a" opacity="0.70"/><rect x="73.2" y="78.1" width="5.1" height="3" rx="1.2" fill="#e0403a" opacity="0.86"/><rect x="86" y="79.9" width="5.1" height="3.1" rx="1.2" fill="#e0403a" opacity="0.60"/><rect x="98.8" y="81.7" width="5.2" height="3.1" rx="1.2" fill="#b8222c" opacity="0.78"/><rect x="105.2" y="82.6" width="5.2" height="3.1" rx="1.2" fill="#5ac040" opacity="0.81"/><rect x="111.6" y="83.5" width="5.2" height="3.1" rx="1.2" fill="#b8222c" opacity="0.47"/><rect x="118" y="84.4" width="5.2" height="3.1" rx="1.2" fill="#2060c8" opacity="0.80"/><rect x="124.4" y="85.3" width="5.3" height="3.2" rx="1.2" fill="#2060c8" opacity="0.87"/><rect x="130.8" y="86.2" width="5.3" height="3.2" rx="1.2" fill="#2060c8" opacity="0.79"/><rect x="137.2" y="87.1" width="5.3" height="3.2" rx="1.2" fill="#d02a30" opacity="0.47"/><rect x="143.6" y="88" width="5.3" height="3.2" rx="1.2" fill="#5ac040" opacity="0.73"/><rect x="150" y="88.9" width="5.4" height="3.2" rx="1.2" fill="#38a8f0" opacity="0.58"/><rect x="156.4" y="89.8" width="5.4" height="3.2" rx="1.2" fill="#d02a30" opacity="0.78"/><rect x="169.2" y="91.6" width="5.4" height="3.3" rx="1.2" fill="#d02a30" opacity="0.87"/><rect x="182" y="93.4" width="5.5" height="3.3" rx="1.2" fill="#a01c28" opacity="0.70"/><rect x="188.4" y="94.3" width="5.5" height="3.3" rx="1.2" fill="#e0403a" opacity="0.83"/><rect x="194.8" y="95.2" width="5.6" height="3.3" rx="1.2" fill="#2a8ee8" opacity="0.75"/><rect x="201.2" y="96.1" width="5.6" height="3.3" rx="1.2" fill="#2060c8" opacity="0.60"/><rect x="207.6" y="97" width="5.6" height="3.4" rx="1.2" fill="#d02a30" opacity="0.69"/><rect x="214" y="97.9" width="5.6" height="3.4" rx="1.2" fill="#b8222c" opacity="0.79"/><rect x="74" y="84.3" width="5.2" height="3.1" rx="1.2" fill="#a01c28" opacity="0.83"/><rect x="80.4" y="85.2" width="5.3" height="3.2" rx="1.2" fill="#e0403a" opacity="0.94"/><rect x="86.8" y="86.1" width="5.3" height="3.2" rx="1.2" fill="#a01c28" opacity="0.49"/><rect x="93.2" y="87" width="5.3" height="3.2" rx="1.2" fill="#c8e040" opacity="0.55"/><rect x="99.6" y="87.9" width="5.3" height="3.2" rx="1.2" fill="#d02a30" opacity="0.52"/><rect x="106" y="88.8" width="5.4" height="3.2" rx="1.2" fill="#5ac040" opacity="0.89"/><rect x="112.4" y="89.7" width="5.4" height="3.2" rx="1.2" fill="#a01c28" opacity="0.65"/><rect x="125.2" y="91.5" width="5.4" height="3.3" rx="1.2" fill="#30b84a" opacity="0.66"/><rect x="131.6" y="92.4" width="5.5" height="3.3" rx="1.2" fill="#e0403a" opacity="0.45"/><rect x="138" y="93.3" width="5.5" height="3.3" rx="1.2" fill="#30b84a" opacity="0.81"/><rect x="144.4" y="94.2" width="5.5" height="3.3" rx="1.2" fill="#e0403a" opacity="0.48"/><rect x="150.8" y="95.1" width="5.6" height="3.3" rx="1.2" fill="#5ac040" opacity="0.83"/><rect x="157.2" y="96" width="5.6" height="3.3" rx="1.2" fill="#d02a30" opacity="0.87"/><rect x="170" y="97.8" width="5.6" height="3.4" rx="1.2" fill="#e0403a" opacity="0.67"/><rect x="182.8" y="99.6" width="5.7" height="3.4" rx="1.2" fill="#38a8f0" opacity="0.89"/><rect x="189.2" y="100.5" width="5.7" height="3.4" rx="1.2" fill="#2060c8" opacity="0.72"/><rect x="195.6" y="101.4" width="5.7" height="3.4" rx="1.2" fill="#a01c28" opacity="0.68"/><rect x="202" y="102.3" width="5.8" height="3.5" rx="1.2" fill="#38a8f0" opacity="0.69"/><rect x="208.4" y="103.2" width="5.8" height="3.5" rx="1.2" fill="#b8222c" opacity="0.69"/><rect x="214.8" y="104.1" width="5.8" height="3.5" rx="1.2" fill="#e0403a" opacity="0.65"/><rect x="74.8" y="90.5" width="5.4" height="3.3" rx="1.2" fill="#d02a30" opacity="0.53"/><rect x="94" y="93.2" width="5.5" height="3.3" rx="1.2" fill="#b8222c" opacity="0.68"/><rect x="100.4" y="94.1" width="5.5" height="3.3" rx="1.2" fill="#30b84a" opacity="0.57"/><rect x="113.2" y="95.9" width="5.6" height="3.3" rx="1.2" fill="#e0403a" opacity="0.58"/><rect x="119.6" y="96.8" width="5.6" height="3.4" rx="1.2" fill="#38a8f0" opacity="0.64"/><rect x="126" y="97.7" width="5.6" height="3.4" rx="1.2" fill="#e0403a" opacity="0.62"/><rect x="145.2" y="100.4" width="5.7" height="3.4" rx="1.2" fill="#b8222c" opacity="0.50"/><rect x="151.6" y="101.3" width="5.7" height="3.4" rx="1.2" fill="#a01c28" opacity="0.67"/><rect x="164.4" y="103.1" width="5.8" height="3.5" rx="1.2" fill="#5ac040" opacity="0.80"/><rect x="170.8" y="104" width="5.8" height="3.5" rx="1.2" fill="#a01c28" opacity="0.45"/><rect x="177.2" y="104.9" width="5.8" height="3.5" rx="1.2" fill="#2060c8" opacity="0.88"/><rect x="183.6" y="105.8" width="5.9" height="3.5" rx="1.2" fill="#d02a30" opacity="0.56"/><rect x="196.4" y="107.6" width="5.9" height="3.5" rx="1.2" fill="#a01c28" opacity="0.49"/><rect x="202.8" y="108.5" width="5.9" height="3.6" rx="1.2" fill="#b8222c" opacity="0.57"/><rect x="209.2" y="109.4" width="6" height="3.6" rx="1.2" fill="#38a8f0" opacity="0.93"/><rect x="215.6" y="110.3" width="6" height="3.6" rx="1.2" fill="#a01c28" opacity="0.80"/><rect x="82" y="97.6" width="5.6" height="3.4" rx="1.2" fill="#a01c28" opacity="0.58"/><rect x="88.4" y="98.5" width="5.7" height="3.4" rx="1.2" fill="#e0403a" opacity="0.95"/><rect x="107.6" y="101.2" width="5.7" height="3.4" rx="1.2" fill="#b8222c" opacity="0.72"/><rect x="120.4" y="103" width="5.8" height="3.5" rx="1.2" fill="#30b84a" opacity="0.70"/><rect x="126.8" y="103.9" width="5.8" height="3.5" rx="1.2" fill="#e0403a" opacity="0.56"/><rect x="133.2" y="104.8" width="5.8" height="3.5" rx="1.2" fill="#a01c28" opacity="0.47"/><rect x="139.6" y="105.7" width="5.9" height="3.5" rx="1.2" fill="#a01c28" opacity="0.55"/><rect x="146" y="106.6" width="5.9" height="3.5" rx="1.2" fill="#2a8ee8" opacity="0.70"/><rect x="158.8" y="108.4" width="5.9" height="3.6" rx="1.2" fill="#a01c28" opacity="0.56"/><rect x="165.2" y="109.3" width="6" height="3.6" rx="1.2" fill="#a01c28" opacity="0.76"/><rect x="171.6" y="110.2" width="6" height="3.6" rx="1.2" fill="#d02a30" opacity="0.92"/><rect x="184.4" y="112" width="6" height="3.6" rx="1.2" fill="#b8222c" opacity="0.66"/><rect x="190.8" y="112.9" width="6.1" height="3.6" rx="1.2" fill="#a01c28" opacity="0.90"/><rect x="197.2" y="113.8" width="6.1" height="3.7" rx="1.2" fill="#2a8ee8" opacity="0.92"/><rect x="203.6" y="114.7" width="6.1" height="3.7" rx="1.2" fill="#a01c28" opacity="0.47"/><rect x="210" y="115.6" width="6.2" height="3.7" rx="1.2" fill="#e0403a" opacity="0.94"/><rect x="216.4" y="116.5" width="6.2" height="3.7" rx="1.2" fill="#d02a30" opacity="0.59"/><rect x="70" y="102" width="5.8" height="3.5" rx="1.2" fill="#30b84a" opacity="0.64"/><rect x="76.4" y="102.9" width="5.8" height="3.5" rx="1.2" fill="#a01c28" opacity="0.49"/><rect x="82.8" y="103.8" width="5.8" height="3.5" rx="1.2" fill="#a01c28" opacity="0.55"/><rect x="89.2" y="104.7" width="5.8" height="3.5" rx="1.2" fill="#5ac040" opacity="0.57"/><rect x="95.6" y="105.6" width="5.9" height="3.5" rx="1.2" fill="#a01c28" opacity="0.47"/><rect x="108.4" y="107.4" width="5.9" height="3.5" rx="1.2" fill="#d02a30" opacity="0.90"/><rect x="114.8" y="108.3" width="5.9" height="3.6" rx="1.2" fill="#d02a30" opacity="0.58"/><rect x="121.2" y="109.2" width="6" height="3.6" rx="1.2" fill="#e0403a" opacity="0.60"/><rect x="127.6" y="110.1" width="6" height="3.6" rx="1.2" fill="#2a8ee8" opacity="0.46"/><rect x="140.4" y="111.9" width="6" height="3.6" rx="1.2" fill="#38a8f0" opacity="0.84"/><rect x="146.8" y="112.8" width="6.1" height="3.6" rx="1.2" fill="#b8222c" opacity="0.91"/><rect x="159.6" y="114.6" width="6.1" height="3.7" rx="1.2" fill="#b8222c" opacity="0.75"/><rect x="166" y="115.5" width="6.1" height="3.7" rx="1.2" fill="#e0403a" opacity="0.84"/><rect x="172.4" y="116.4" width="6.2" height="3.7" rx="1.2" fill="#a01c28" opacity="0.83"/><rect x="198" y="120" width="6.3" height="3.8" rx="1.2" fill="#a01c28" opacity="0.89"/><rect x="204.4" y="120.9" width="6.3" height="3.8" rx="1.2" fill="#d02a30" opacity="0.55"/><rect x="210.8" y="121.8" width="6.3" height="3.8" rx="1.2" fill="#38a8f0" opacity="0.54"/><rect x="70.8" y="108.2" width="5.9" height="3.6" rx="1.2" fill="#30b84a" opacity="0.84"/><rect x="109.2" y="113.6" width="6.1" height="3.7" rx="1.2" fill="#2a8ee8" opacity="0.53"/><rect x="115.6" y="114.5" width="6.1" height="3.7" rx="1.2" fill="#38a8f0" opacity="0.48"/><rect x="134.8" y="117.2" width="6.2" height="3.7" rx="1.2" fill="#2a8ee8" opacity="0.78"/><rect x="141.2" y="118.1" width="6.2" height="3.7" rx="1.2" fill="#38a8f0" opacity="0.89"/><rect x="154" y="119.9" width="6.3" height="3.8" rx="1.2" fill="#38a8f0" opacity="0.57"/><rect x="166.8" y="121.7" width="6.3" height="3.8" rx="1.2" fill="#30b84a" opacity="0.64"/><rect x="173.2" y="122.6" width="6.4" height="3.8" rx="1.2" fill="#e0403a" opacity="0.84"/><rect x="179.6" y="123.5" width="6.4" height="3.8" rx="1.2" fill="#e0403a" opacity="0.56"/><rect x="186" y="124.4" width="6.4" height="3.8" rx="1.2" fill="#b8222c" opacity="0.95"/><rect x="198.8" y="126.2" width="6.5" height="3.9" rx="1.2" fill="#2a8ee8" opacity="0.86"/><rect x="205.2" y="127.1" width="6.5" height="3.9" rx="1.2" fill="#e0403a" opacity="0.49"/><rect x="71.6" y="114.4" width="6.1" height="3.7" rx="1.2" fill="#38a8f0" opacity="0.50"/><rect x="78" y="115.3" width="6.1" height="3.7" rx="1.2" fill="#2060c8" opacity="0.72"/><rect x="84.4" y="116.2" width="6.2" height="3.7" rx="1.2" fill="#38a8f0" opacity="0.65"/><rect x="103.6" y="118.9" width="6.2" height="3.7" rx="1.2" fill="#2060c8" opacity="0.89"/><rect x="110" y="119.8" width="6.3" height="3.8" rx="1.2" fill="#38a8f0" opacity="0.77"/><rect x="116.4" y="120.7" width="6.3" height="3.8" rx="1.2" fill="#2a8ee8" opacity="0.67"/><rect x="142" y="124.3" width="6.4" height="3.8" rx="1.2" fill="#2a8ee8" opacity="0.51"/><rect x="161.2" y="127" width="6.5" height="3.9" rx="1.2" fill="#e0403a" opacity="0.82"/><rect x="174" y="128.8" width="6.5" height="3.9" rx="1.2" fill="#b8222c" opacity="0.91"/><rect x="186.8" y="130.6" width="6.6" height="4" rx="1.2" fill="#2a8ee8" opacity="0.60"/><rect x="193.2" y="131.5" width="6.6" height="4" rx="1.2" fill="#a01c28" opacity="0.61"/><rect x="199.6" y="132.4" width="6.6" height="4" rx="1.2" fill="#2a8ee8" opacity="0.90"/><rect x="72.4" y="120.6" width="6.3" height="3.8" rx="1.2" fill="#b8222c" opacity="0.77"/><rect x="78.8" y="121.5" width="6.3" height="3.8" rx="1.2" fill="#2060c8" opacity="0.87"/><rect x="85.2" y="122.4" width="6.3" height="3.8" rx="1.2" fill="#2a8ee8" opacity="0.47"/><rect x="91.6" y="123.3" width="6.4" height="3.8" rx="1.2" fill="#38a8f0" opacity="0.51"/><rect x="104.4" y="125.1" width="6.4" height="3.9" rx="1.2" fill="#d02a30" opacity="0.89"/><rect x="110.8" y="126" width="6.5" height="3.9" rx="1.2" fill="#2060c8" opacity="0.87"/><rect x="123.6" y="127.8" width="6.5" height="3.9" rx="1.2" fill="#2060c8" opacity="0.84"/><rect x="130" y="128.7" width="6.5" height="3.9" rx="1.2" fill="#2a8ee8" opacity="0.66"/><rect x="136.4" y="129.6" width="6.6" height="3.9" rx="1.2" fill="#38a8f0" opacity="0.54"/><rect x="149.2" y="131.4" width="6.6" height="4" rx="1.2" fill="#38a8f0" opacity="0.83"/><rect x="155.6" y="132.3" width="6.6" height="4" rx="1.2" fill="#2a8ee8" opacity="0.86"/><rect x="73.2" y="126.8" width="6.5" height="3.9" rx="1.2" fill="#38a8f0" opacity="0.67"/><rect x="86" y="128.6" width="6.5" height="3.9" rx="1.2" fill="#2a8ee8" opacity="0.47"/><rect x="98.8" y="130.4" width="6.6" height="3.9" rx="1.2" fill="#2060c8" opacity="0.71"/><rect x="111.6" y="132.2" width="6.6" height="4" rx="1.2" fill="#2a8ee8" opacity="0.46"/><ellipse cx="92" cy="108" rx="5" ry="3" fill="#d8e040" opacity="0.9"/></g><path d="M150,42L196,42L200,46L176,45Z" fill="#4cc8f4" opacity="0.35"/><path d="M181,42L189,42L216,88L216,104Z" fill="#4cc8f4" opacity="0.85"/><path d="M186,78L190,78L212,124L208,124Z" fill="#2f7fc8" opacity="0.5"/></g><circle cx="109.2" cy="72.1" r="10.6" fill="#c5d9ee"/><path d="M92.4,103.2V92Q92.4,81.4 104,81.4H114Q125.3,81.4 125.3,92V103.2Z" fill="#c5d9ee"/><circle cx="163.3" cy="72.1" r="10.6" fill="#c5d9ee"/><path d="M147,103.2V92Q147,81.4 158,81.4H169Q180,81.4 180,92V103.2Z" fill="#c5d9ee"/><circle cx="136.5" cy="77" r="12.4" fill="#8aa6d6" stroke="#1c2230" stroke-width="1.3"/><path d="M116.6,113.8V98Q116.6,88.3 127,88.3H146Q156.5,88.3 156.5,98V113.8Z" fill="#8aa6d6" stroke="#1c2230" stroke-width="1.3"/><circle cx="136.5" cy="77" r="11.8" fill="#8aa6d6"/><path d="M98.9,91V97" stroke="#3a4050" stroke-width="0.8"/><path d="M105.1,91V97" stroke="#3a4050" stroke-width="0.8"/><path d="M110.9,91V97" stroke="#3a4050" stroke-width="0.8"/><path d="M117.1,91V97" stroke="#3a4050" stroke-width="0.8"/><path d="M96,90C102,90 102,98 108,98C114,98 114,90 120,90" stroke="#2a3040" stroke-width="1.6" fill="none"/><path d="M96,98C102,98 102,90 108,90C114,90 114,98 120,98" stroke="#2e6a50" stroke-width="1.4" fill="none"/><path d="M154.9,91V97" stroke="#3a4050" stroke-width="0.8"/><path d="M161.1,91V97" stroke="#3a4050" stroke-width="0.8"/><path d="M166.9,91V97" stroke="#3a4050" stroke-width="0.8"/><path d="M173.1,91V97" stroke="#3a4050" stroke-width="0.8"/><path d="M152,90C158,90 158,98 164,98C170,98 170,90 176,90" stroke="#2a3040" stroke-width="1.6" fill="none"/><path d="M152,98C158,98 158,90 164,90C170,90 170,98 176,98" stroke="#2e6a50" stroke-width="1.4" fill="none"/><path d="M125.9,100.5V107.5" stroke="#3a4050" stroke-width="0.8"/><path d="M133.1,100.5V107.5" stroke="#3a4050" stroke-width="0.8"/><path d="M139.9,100.5V107.5" stroke="#3a4050" stroke-width="0.8"/><path d="M147.1,100.5V107.5" stroke="#3a4050" stroke-width="0.8"/><path d="M122.5,99.5C129.5,99.5 129.5,108.5 136.5,108.5C143.5,108.5 143.5,99.5 150.5,99.5" stroke="#2a3040" stroke-width="1.6" fill="none"/><path d="M122.5,108.5C129.5,108.5 129.5,99.5 136.5,99.5C143.5,99.5 143.5,108.5 150.5,108.5" stroke="#2e6a50" stroke-width="1.4" fill="none"/><text x="84.9" y="52.8" font-family="Liberation Serif" font-size="14.5" fill="#f2f2f2" textLength="112.6" lengthAdjust="spacingAndGlyphs">Reference genome</text><g font-family="Liberation Sans" fill="#9aa6b8"><text x="218.4" y="65.5" font-size="10" transform="scale(1,1)" textLength="3.3" lengthAdjust="spacingAndGlyphs">A</text><text x="223.9" y="65.2" font-size="10.4" transform="scale(1,1)" textLength="3.4" lengthAdjust="spacingAndGlyphs">T</text><text x="229.4" y="65" font-size="10.8" transform="scale(1,1)" textLength="3.5" lengthAdjust="spacingAndGlyphs">A</text><text x="234.9" y="64.7" font-size="11.2" transform="scale(1,1)" textLength="3.6" lengthAdjust="spacingAndGlyphs">T</text><text x="240.4" y="64.5" font-size="11.7" transform="scale(1,1)" textLength="3.7" lengthAdjust="spacingAndGlyphs">C</text><text x="245.9" y="64.2" font-size="12.1" transform="scale(1,1)" textLength="3.9" lengthAdjust="spacingAndGlyphs">A</text><text x="251.4" y="64" font-size="12.5" transform="scale(1,1)" textLength="4" lengthAdjust="spacingAndGlyphs">T</text><text x="257" y="63.7" font-size="12.9" transform="scale(1,1)" textLength="4.1" lengthAdjust="spacingAndGlyphs">G</text><text x="262.5" y="63.4" font-size="13.3" transform="scale(1,1)" textLength="4.2" lengthAdjust="spacingAndGlyphs">C</text><text x="268" y="63.2" font-size="13.8" transform="scale(1,1)" textLength="4.3" lengthAdjust="spacingAndGlyphs">G</text><text x="273.5" y="62.9" font-size="14.2" transform="scale(1,1)" textLength="4.4" lengthAdjust="spacingAndGlyphs">C</text><text x="279" y="62.7" font-size="14.6" transform="scale(1,1)" textLength="4.5" lengthAdjust="spacingAndGlyphs">A</text><text x="284.5" y="62.4" font-size="15" transform="scale(1,1)" textLength="4.6" lengthAdjust="spacingAndGlyphs">T</text><text x="218" y="75.6" font-size="10" transform="scale(1,1)" textLength="3.6" lengthAdjust="spacingAndGlyphs">A</text><text x="224" y="75.7" font-size="10.3" transform="scale(1,1)" textLength="3.7" lengthAdjust="spacingAndGlyphs">A</text><text x="230" y="75.7" font-size="10.6" transform="scale(1,1)" textLength="3.8" lengthAdjust="spacingAndGlyphs">A</text><text x="236" y="75.8" font-size="11" transform="scale(1,1)" textLength="4" lengthAdjust="spacingAndGlyphs">T</text><text x="242" y="75.9" font-size="11.3" transform="scale(1,1)" textLength="4.1" lengthAdjust="spacingAndGlyphs">A</text><text x="248" y="76" font-size="11.6" transform="scale(1,1)" textLength="4.2" lengthAdjust="spacingAndGlyphs">T</text><text x="254" y="76" font-size="11.9" transform="scale(1,1)" textLength="4.4" lengthAdjust="spacingAndGlyphs">C</text><text x="260" y="76.1" font-size="12.2" transform="scale(1,1)" textLength="4.5" lengthAdjust="spacingAndGlyphs">A</text><text x="266" y="76.2" font-size="12.5" transform="scale(1,1)" textLength="4.6" lengthAdjust="spacingAndGlyphs">T</text><text x="272" y="76.3" font-size="12.9" transform="scale(1,1)" textLength="4.8" lengthAdjust="spacingAndGlyphs">G</text><text x="278" y="76.3" font-size="13.2" transform="scale(1,1)" textLength="4.9" lengthAdjust="spacingAndGlyphs">C</text><text x="284" y="76.4" font-size="13.5" transform="scale(1,1)" textLength="5" lengthAdjust="spacingAndGlyphs">G</text><text x="219" y="85" font-size="10" transform="scale(1,1)" textLength="3.4" lengthAdjust="spacingAndGlyphs">T</text><text x="224.8" y="85.5" font-size="10.2" transform="scale(1,1)" textLength="3.6" lengthAdjust="spacingAndGlyphs">A</text><text x="230.6" y="85.9" font-size="10.4" transform="scale(1,1)" textLength="3.7" lengthAdjust="spacingAndGlyphs">T</text><text x="236.5" y="86.4" font-size="10.5" transform="scale(1,1)" textLength="3.8" lengthAdjust="spacingAndGlyphs">C</text><text x="242.3" y="86.9" font-size="10.7" transform="scale(1,1)" textLength="4" lengthAdjust="spacingAndGlyphs">A</text><text x="248.1" y="87.4" font-size="10.9" transform="scale(1,1)" textLength="4.1" lengthAdjust="spacingAndGlyphs">T</text><text x="253.9" y="87.8" font-size="11.1" transform="scale(1,1)" textLength="4.2" lengthAdjust="spacingAndGlyphs">G</text><text x="259.7" y="88.3" font-size="11.3" transform="scale(1,1)" textLength="4.4" lengthAdjust="spacingAndGlyphs">C</text><text x="265.5" y="88.8" font-size="11.5" transform="scale(1,1)" textLength="4.5" lengthAdjust="spacingAndGlyphs">G</text><text x="271.4" y="89.3" font-size="11.6" transform="scale(1,1)" textLength="4.6" lengthAdjust="spacingAndGlyphs">C</text><text x="277.2" y="89.7" font-size="11.8" transform="scale(1,1)" textLength="4.8" lengthAdjust="spacingAndGlyphs">A</text><text x="283" y="90.2" font-size="12" transform="scale(1,1)" textLength="4.9" lengthAdjust="spacingAndGlyphs">T</text></g><path d="M138,131.5V292.6H229" stroke="#8c8c8c" stroke-width="1" stroke-dasharray="3,2" fill="none"/><g transform="translate(147.2,191.3)"><path d="M0,-6.5C0.9,-2.2 2.2,-0.9 6.5,0C2.2,0.9 0.9,2.2 0,6.5C-0.9,2.2 -2.2,0.9 -6.5,0C-2.2,-0.9 -0.9,-2.2 0,-6.5Z" fill="#222"/></g><text x="157" y="194" font-family="Liberation Serif" font-size="13.4" fill="#1e1e1e" textLength="115" lengthAdjust="spacingAndGlyphs">Sequence variations</text><text x="143.8" y="211.2" font-family="Liberation Serif" font-size="13.4" fill="#1e1e1e" textLength="112" lengthAdjust="spacingAndGlyphs">at the potential off-</text><text x="143.8" y="228.4" font-family="Liberation Serif" font-size="13.4" fill="#1e1e1e" textLength="108" lengthAdjust="spacingAndGlyphs">target site increase</text><text x="143.8" y="245.6" font-family="Liberation Serif" font-size="13.4" fill="#1e1e1e" textLength="88" lengthAdjust="spacingAndGlyphs">gRNA activity.</text><circle cx="260.3" cy="105.2" r="14.2" stroke="#1d3a52" stroke-width="2" fill="#fff"/><path d="M269.3,98.5A9,9 0 0 1 269.8,108.5" stroke="#1d3a52" stroke-width="2" fill="none" stroke-linecap="round"/><path d="M234.5,127.8L247.2,118" stroke="#2b8fd6" stroke-width="5" stroke-linecap="round"/><text x="280" y="106.2" font-family="Liberation Serif" font-size="13" font-weight="bold" fill="#1a1a1a" textLength="282" lengthAdjust="spacingAndGlyphs">Potential off-target based on the reference genome</text><text x="296.4" y="134.4" font-family="Liberation Serif" font-size="12.3" fill="#7a7a7a" textLength="224" lengthAdjust="spacingAndGlyphs">3' CCAGGGACAGTTCAGGGCTAACC 5'</text><text x="239.8" y="157" font-family="Liberation Serif" font-size="12" fill="#2a2a2a" textLength="50.8" lengthAdjust="spacingAndGlyphs">On-target:</text><text x="296.4" y="157.6" font-family="Liberation Serif" font-size="12.3" fill="#7a7a7a" textLength="224" lengthAdjust="spacingAndGlyphs">3' TCTGGGAATGTTCAGGGCTAACC 5'</text><rect x="307.7" y="120.3" width="9.5" height="18.6" fill="none" stroke="#e0479a" stroke-width="1.1"/><rect x="324.6" y="120.3" width="10.2" height="18.6" fill="none" stroke="#e0479a" stroke-width="1.1"/><rect x="370.4" y="120.3" width="18.6" height="18.6" fill="none" stroke="#e0479a" stroke-width="1.1"/></g><g transform="translate(669.5,544.7)"><g fill="#d9e3f0" stroke="#d6e0ee" stroke-width="2.2"><ellipse cx="320.6" cy="285.3" rx="88.4" ry="80.8"/><ellipse cx="414.1" cy="248.4" rx="29.8" ry="36.3"/><ellipse cx="479.1" cy="261.2" rx="50.3" ry="46.7"/><ellipse cx="251.3" cy="364.5" rx="45.5" ry="69"/><ellipse cx="329.5" cy="446.6" rx="60.5" ry="64.2"/><path d="M423.6,506.4A88.6,63.4 143.4 1 1 565.8,400.8A88.6,63.4 143.4 1 1 423.6,506.4Z"/><path d="M250,300L320,250L414,262L479,270L529.5,268C536,290 540,300 544,310L558,345L569,380L572.6,406L574,432L545,470L442.6,420L442.6,407L386.4,407L386.4,420L330,420L255,410L222,360Z"/></g><g fill="url(#blobg)"><ellipse cx="320.6" cy="285.3" rx="88.4" ry="80.8"/><ellipse cx="414.1" cy="248.4" rx="29.8" ry="36.3"/><ellipse cx="479.1" cy="261.2" rx="50.3" ry="46.7"/><ellipse cx="251.3" cy="364.5" rx="45.5" ry="69"/><ellipse cx="329.5" cy="446.6" rx="60.5" ry="64.2"/><path d="M423.6,506.4A88.6,63.4 143.4 1 1 565.8,400.8A88.6,63.4 143.4 1 1 423.6,506.4Z"/><path d="M250,300L320,250L414,262L479,270L529.5,268C536,290 540,300 544,310L558,345L569,380L572.6,406L574,432L545,470L442.6,420L442.6,407L386.4,407L386.4,420L330,420L255,410L222,360Z"/></g><path d="M129,346V354" stroke="#16135e" stroke-width="1.7"/><path d="M129,354V362" stroke="#2aa2c8" stroke-width="1.7"/><path d="M136.7,346V354" stroke="#16135e" stroke-width="1.7"/><path d="M136.7,354V362" stroke="#2aa2c8" stroke-width="1.7"/><path d="M158.4,344.5V354.8" stroke="#0c5690" stroke-width="1.7"/><path d="M158.4,354.8V365" stroke="#2aa2c8" stroke-width="1.7"/><path d="M166,344V354" stroke="#0c5690" stroke-width="1.7"/><path d="M166,354V364" stroke="#2aa2c8" stroke-width="1.7"/><path d="M187,343.5V356.2" stroke="#16135e" stroke-width="1.7"/><path d="M187,356.2V369" stroke="#2aa2c8" stroke-width="1.7"/><path d="M193.5,344V356.8" stroke="#16135e" stroke-width="1.7"/><path d="M193.5,356.8V369.5" stroke="#2aa2c8" stroke-width="1.7"/><path d="M66.7,348.4C68.3,351.5 69.8,352.8 73,352.8" stroke="#16135e" stroke-width="1.0" fill="none" stroke-linecap="round"/><path d="M66.7,348.4C68.3,349.7 69.8,350.2 73,350.2" stroke="#0c5690" stroke-width="1.0" fill="none" stroke-linecap="round"/><path d="M73,352.8C76.5,352.8 78.2,353.3 80,354.6" stroke="#16135e" stroke-width="1.0" fill="none" stroke-linecap="round"/><path d="M73,350.2C76.5,350.2 78.2,351.5 80,354.6" stroke="#0c5690" stroke-width="1.0" fill="none" stroke-linecap="round"/><path d="M80,354.6C81.8,353.2 83.5,352.6 87,352.6" stroke="#16135e" stroke-width="1.8" fill="none" stroke-linecap="round"/><path d="M80,354.6C81.8,357.9 83.5,359.3 87,359.3" stroke="#0c5690" stroke-width="1.8" fill="none" stroke-linecap="round"/><path d="M87,352.6C90.5,352.6 92.2,354.1 94,357.5" stroke="#16135e" stroke-width="1.8" fill="none" stroke-linecap="round"/><path d="M87,359.3C90.5,359.3 92.2,358.8 94,357.5" stroke="#0c5690" stroke-width="1.8" fill="none" stroke-linecap="round"/><path d="M94,357.5C97,359.6 100,360.5 106,360.5" stroke="#16135e" stroke-width="2.8" fill="none" stroke-linecap="round"/><path d="M94,357.5C97,348.5 100,344.6 106,344.6" stroke="#0c5690" stroke-width="2.8" fill="none" stroke-linecap="round"/><path d="M106,360.5C112,360.5 115,356.9 118,348.5" stroke="#16135e" stroke-width="2.8" fill="none" stroke-linecap="round"/><path d="M106,344.6C112,344.6 115,345.8 118,348.5" stroke="#0c5690" stroke-width="2.8" fill="none" stroke-linecap="round"/><path d="M118,348.5C121.8,344.5 125.5,342.8 133,342.8" stroke="#16135e" stroke-width="3.4" fill="none" stroke-linecap="round"/><path d="M118,348.5C121.8,359.7 125.5,364.5 133,364.5" stroke="#0c5690" stroke-width="3.4" fill="none" stroke-linecap="round"/><path d="M133,342.8C140.4,342.8 144.1,347.9 147.8,359.8" stroke="#16135e" stroke-width="3.4" fill="none" stroke-linecap="round"/><path d="M133,364.5C140.4,364.5 144.1,363.1 147.8,359.8" stroke="#0c5690" stroke-width="3.4" fill="none" stroke-linecap="round"/><path d="M147.8,359.8C151.3,365.2 154.9,367.5 161.9,367.5" stroke="#16135e" stroke-width="3.9" fill="none" stroke-linecap="round"/><path d="M147.8,359.8C151.3,346.5 154.9,340.8 161.9,340.8" stroke="#0c5690" stroke-width="3.9" fill="none" stroke-linecap="round"/><path d="M161.9,367.5C168.9,367.5 172.5,361.4 176,347.3" stroke="#16135e" stroke-width="3.9" fill="none" stroke-linecap="round"/><path d="M161.9,340.8C168.9,340.8 172.5,342.8 176,347.3" stroke="#0c5690" stroke-width="3.9" fill="none" stroke-linecap="round"/><path d="M176,347.3C179.8,341.8 183.7,339.5 191.3,339.5" stroke="#16135e" stroke-width="4.4" fill="none" stroke-linecap="round"/><path d="M176,347.3C179.8,364.4 183.7,371.8 191.3,371.8" stroke="#0c5690" stroke-width="4.4" fill="none" stroke-linecap="round"/><path d="M191.3,339.5C198.9,339.5 202.8,347.4 206.6,366" stroke="#16135e" stroke-width="4.4" fill="none" stroke-linecap="round"/><path d="M191.3,371.8C198.9,371.8 202.8,370.1 206.6,366" stroke="#0c5690" stroke-width="4.4" fill="none" stroke-linecap="round"/><path d="M565.4,342V355.5" stroke="#16135e" stroke-width="1.7"/><path d="M565.4,355.5V369" stroke="#2aa2c8" stroke-width="1.7"/><path d="M574.2,342V355" stroke="#16135e" stroke-width="1.7"/><path d="M574.2,355V368" stroke="#2aa2c8" stroke-width="1.7"/><path d="M595,344V355" stroke="#0c5690" stroke-width="1.7"/><path d="M595,355V366" stroke="#2aa2c8" stroke-width="1.7"/><path d="M602,344V354.8" stroke="#0c5690" stroke-width="1.7"/><path d="M602,354.8V365.5" stroke="#2aa2c8" stroke-width="1.7"/><path d="M622.6,345.5V354.8" stroke="#16135e" stroke-width="1.7"/><path d="M622.6,354.8V364" stroke="#2aa2c8" stroke-width="1.7"/><path d="M630.5,345V354" stroke="#16135e" stroke-width="1.7"/><path d="M630.5,354V363" stroke="#2aa2c8" stroke-width="1.7"/><path d="M556,366C559.8,347.3 563.5,339.3 571,339.3" stroke="#16135e" stroke-width="4.4" fill="none" stroke-linecap="round"/><path d="M556,366C559.8,370.2 563.5,372 571,372" stroke="#0c5690" stroke-width="4.4" fill="none" stroke-linecap="round"/><path d="M571,339.3C578.8,339.3 582.6,342.2 586.5,349" stroke="#16135e" stroke-width="4.4" fill="none" stroke-linecap="round"/><path d="M571,372C578.8,372 582.6,365.1 586.5,349" stroke="#0c5690" stroke-width="4.4" fill="none" stroke-linecap="round"/><path d="M586.5,349C590,362.5 593.5,368.3 600.6,368.3" stroke="#16135e" stroke-width="3.9" fill="none" stroke-linecap="round"/><path d="M586.5,349C590,343.4 593.5,341 600.6,341" stroke="#0c5690" stroke-width="3.9" fill="none" stroke-linecap="round"/><path d="M600.6,368.3C607.7,368.3 611.2,366.7 614.7,363" stroke="#16135e" stroke-width="3.9" fill="none" stroke-linecap="round"/><path d="M600.6,341C607.7,341 611.2,347.6 614.7,363" stroke="#0c5690" stroke-width="3.9" fill="none" stroke-linecap="round"/><path d="M614.7,363C618.2,348.9 621.7,342.8 628.7,342.8" stroke="#16135e" stroke-width="3.3" fill="none" stroke-linecap="round"/><path d="M614.7,363C618.2,365.4 621.7,366.5 628.7,366.5" stroke="#0c5690" stroke-width="3.3" fill="none" stroke-linecap="round"/><path d="M628.7,342.8C635.8,342.8 639.3,344.7 642.8,349" stroke="#16135e" stroke-width="3.3" fill="none" stroke-linecap="round"/><path d="M628.7,366.5C635.8,366.5 639.3,361.2 642.8,349" stroke="#0c5690" stroke-width="3.3" fill="none" stroke-linecap="round"/><path d="M642.8,349C645.6,357.6 648.5,361.3 654.2,361.3" stroke="#16135e" stroke-width="2.6" fill="none" stroke-linecap="round"/><path d="M642.8,349C645.6,345.9 648.5,344.6 654.2,344.6" stroke="#0c5690" stroke-width="2.6" fill="none" stroke-linecap="round"/><path d="M654.2,361.3C659.9,361.3 662.8,359.1 665.6,354" stroke="#16135e" stroke-width="2.6" fill="none" stroke-linecap="round"/><path d="M654.2,344.6C659.9,344.6 662.8,347.4 665.6,354" stroke="#0c5690" stroke-width="2.6" fill="none" stroke-linecap="round"/><path d="M665.6,354C667.4,351.6 669.1,350.5 672.6,350.5" stroke="#16135e" stroke-width="1.7" fill="none" stroke-linecap="round"/><path d="M665.6,354C667.4,357.1 669.1,358.5 672.6,358.5" stroke="#0c5690" stroke-width="1.7" fill="none" stroke-linecap="round"/><path d="M672.6,350.5C676.2,350.5 677.9,351.9 679.7,355" stroke="#16135e" stroke-width="1.7" fill="none" stroke-linecap="round"/><path d="M672.6,358.5C676.2,358.5 677.9,357.4 679.7,355" stroke="#0c5690" stroke-width="1.7" fill="none" stroke-linecap="round"/><path d="M679.7,355C681.5,353.6 683.2,353 686.7,353" stroke="#16135e" stroke-width="1.0" fill="none" stroke-linecap="round"/><path d="M679.7,355C681.5,352.6 683.2,351.5 686.7,351.5" stroke="#0c5690" stroke-width="1.0" fill="none" stroke-linecap="round"/><path d="M686.7,353C690.2,353 692,351.5 693.7,348" stroke="#16135e" stroke-width="1.0" fill="none" stroke-linecap="round"/><path d="M686.7,351.5C690.2,351.5 692,350.4 693.7,348" stroke="#0c5690" stroke-width="1.0" fill="none" stroke-linecap="round"/><path d="M215.7,338V355" stroke="#0c5690" stroke-width="2.6"/><path d="M215.7,355V372.5" stroke="#071d7e" stroke-width="2.6"/><path d="M226,338V355" stroke="#0c5690" stroke-width="2.6"/><path d="M226,355V372.5" stroke="#071d7e" stroke-width="2.6"/><path d="M236.3,338V355" stroke="#0c5690" stroke-width="2.6"/><path d="M236.3,355V372.5" stroke="#071d7e" stroke-width="2.6"/><path d="M246.5,338V355" stroke="#0c5690" stroke-width="2.6"/><path d="M246.5,355V372.5" stroke="#071d7e" stroke-width="2.6"/><path d="M515,338.5V356" stroke="#0c5690" stroke-width="2.6"/><path d="M515,358V373.8" stroke="#071d7e" stroke-width="2.6"/><path d="M528,338.5V356" stroke="#0c5690" stroke-width="2.6"/><path d="M528,358V373.8" stroke="#071d7e" stroke-width="2.6"/><path d="M537.5,338.5V356" stroke="#0c5690" stroke-width="2.6"/><path d="M537.5,358V373.8" stroke="#071d7e" stroke-width="2.6"/><path d="M545.9,338.5V356" stroke="#0c5690" stroke-width="2.6"/><path d="M545.9,358V373.8" stroke="#071d7e" stroke-width="2.6"/><path d="M260.7,334L268.4,346.3" stroke="#0c5690" stroke-width="2.7"/><path d="M269.6,326.2L280.3,336" stroke="#0c5690" stroke-width="2.7"/><path d="M278,317.3L287.9,328" stroke="#0c5690" stroke-width="2.7"/><path d="M287.9,310.9L293,324.5" stroke="#0c5690" stroke-width="2.7"/><path d="M299.6,309.2L299.6,323.7" stroke="#0c5690" stroke-width="2.7"/><path d="M311.9,309.2L311.9,323.7" stroke="#0c5690" stroke-width="2.7"/><path d="M324.1,309.2L324.1,323.7" stroke="#0c5690" stroke-width="2.7"/><path d="M336.3,309.2L336.3,323.7" stroke="#0c5690" stroke-width="2.7"/><path d="M347.7,309.2L347.7,323.7" stroke="#0c5690" stroke-width="2.7"/><path d="M359.9,309.2L359.9,323.7" stroke="#0c5690" stroke-width="2.7"/><path d="M372.2,309.2L372.2,323.7" stroke="#0c5690" stroke-width="2.7"/><path d="M384.4,309.2L384.4,323.7" stroke="#0c5690" stroke-width="2.7"/><path d="M395.8,309.2L395.8,323.7" stroke="#0c5690" stroke-width="2.7"/><path d="M408,309.2L408,323.7" stroke="#0c5690" stroke-width="2.7"/><path d="M420.2,309.2L420.2,323.7" stroke="#0c5690" stroke-width="2.7"/><path d="M431.7,309.2L431.7,323.7" stroke="#0c5690" stroke-width="2.7"/><path d="M443.9,309.2L443.9,323.7" stroke="#0c5690" stroke-width="2.7"/><path d="M456.1,309.2L456.1,323.7" stroke="#0c5690" stroke-width="2.7"/><path d="M467.7,309.9L464.7,324.1" stroke="#0c5690" stroke-width="2.7"/><path d="M478.6,314.6L470.4,326.6" stroke="#0c5690" stroke-width="2.7"/><path d="M487.7,322.5L477.4,332.8" stroke="#0c5690" stroke-width="2.7"/><path d="M250.4,373.1L252.5,358.8" stroke="#071d7e" stroke-width="2.7"/><path d="M261.5,377.6L269.8,365.7" stroke="#071d7e" stroke-width="2.7"/><path d="M270.1,385.7L281,376.1" stroke="#071d7e" stroke-width="2.7"/><path d="M278.3,394.6L288.3,384.1" stroke="#071d7e" stroke-width="2.7"/><path d="M288.2,401.2L293.6,387.8" stroke="#071d7e" stroke-width="2.7"/><path d="M299.8,403.2L299.8,388.7" stroke="#071d7e" stroke-width="2.7"/><path d="M312.5,403.2L312.5,388.7" stroke="#071d7e" stroke-width="2.7"/><path d="M324.4,403.2L324.4,388.7" stroke="#071d7e" stroke-width="2.7"/><path d="M336.4,403.2L336.4,388.7" stroke="#071d7e" stroke-width="2.7"/><path d="M348.3,403.2L348.3,388.7" stroke="#071d7e" stroke-width="2.7"/><path d="M360.2,403.2L360.2,388.7" stroke="#071d7e" stroke-width="2.7"/><path d="M372.1,403.2L372.1,388.7" stroke="#071d7e" stroke-width="2.7"/><path d="M384.1,403.2L384.1,388.7" stroke="#071d7e" stroke-width="2.7"/><path d="M396,403.2L396,388.7" stroke="#071d7e" stroke-width="2.7"/><path d="M407.9,403.2L407.9,388.7" stroke="#071d7e" stroke-width="2.7"/><path d="M419.8,403.2L419.8,388.7" stroke="#071d7e" stroke-width="2.7"/><path d="M432.6,403.2L432.6,388.7" stroke="#071d7e" stroke-width="2.7"/><path d="M444.5,403.2L444.5,388.7" stroke="#071d7e" stroke-width="2.7"/><path d="M456.4,403.2L456.4,388.7" stroke="#071d7e" stroke-width="2.7"/><path d="M467.8,401.7L463.5,387.9" stroke="#071d7e" stroke-width="2.7"/><path d="M478.3,396.3L469.7,384.6" stroke="#071d7e" stroke-width="2.7"/><path d="M487.5,388.3L477.5,377.8" stroke="#071d7e" stroke-width="2.7"/><path d="M206,366C208,372 212,372.5 220,372.5C228.7,372.6 237.3,372.7 246,372.8C272,372.8 272,403.2 299,403.2C352,403.2 405,403.2 458,403.2C485,403.2 490,373.8 515,373.8C525.7,373.8 536.3,373.8 547,373.8C551,373.8 553,370 556,366" stroke="#071d7e" stroke-width="5" fill="none" stroke-linejoin="round"/><path d="M206,366C210,354 213,338 221,338C229.3,338 237.7,338 246,338C272,338 272,309.2 298,309.2C352.3,309.2 406.7,309.2 461,309.2C488,309.2 490,338.5 517,338.5C525,338.5 533,338.5 541,338.5C549,338.5 552,356 556,366" stroke="#0c5690" stroke-width="4.8" fill="none" stroke-linejoin="round"/><path d="M449,361.4H498.8Q501.8,361.4 501.8,358.4V315.8H507" stroke="#1a2458" stroke-width="2.2" fill="none"/><rect x="507" y="293.3" width="10.7" height="3.8" fill="#d6f1fb"/><rect x="507" y="309.5" width="10.7" height="3.8" fill="#d6f1fb"/><path d="M507,293.6H517.7" stroke="#1a2458" stroke-width="1.1"/><path d="M507,296.8H517.7" stroke="#1a2458" stroke-width="1.1"/><path d="M507,309.8H517.7" stroke="#1a2458" stroke-width="1.1"/><path d="M507,313H517.7" stroke="#1a2458" stroke-width="1.1"/><path d="M535.3,285.5L546.4,287L542.7,300L532.4,298.5Z" fill="#d6f1fb"/><path d="M535.2,285.8L546.3,287.3" stroke="#1a2458" stroke-width="1.1"/><path d="M534.4,289.4L545.3,290.9" stroke="#1a2458" stroke-width="1.1"/><path d="M533.6,293L544.3,294.5" stroke="#1a2458" stroke-width="1.1"/><path d="M532.8,296.6L543.3,298.1" stroke="#1a2458" stroke-width="1.1"/><path d="M562.2,279.5L573.4,281L568.6,300.5L558,299Z" fill="#d6f1fb"/><path d="M562.1,280L573.3,281.5" stroke="#1a2458" stroke-width="1.1"/><path d="M561.3,283.6L572.4,285.1" stroke="#1a2458" stroke-width="1.1"/><path d="M560.5,287.2L571.5,288.7" stroke="#1a2458" stroke-width="1.1"/><path d="M559.7,290.8L570.6,292.3" stroke="#1a2458" stroke-width="1.1"/><path d="M559,294.4L569.7,295.9" stroke="#1a2458" stroke-width="1.1"/><path d="M558.2,298L568.8,299.5" stroke="#1a2458" stroke-width="1.1"/><path d="M507,316V292.3 A9.5,9.5 0 1 1 517.7,292.3 V297.5 A4.6,4.6 0 0 1 517.7,307 V313 Q518,316.5 523.3,316.5 Q528.7,316.5 529.5,311 L536,282.5 A9.5,9.5 0 1 1 547.6,282.8 L542.6,300.4 Q541,308.5 549.5,308.5 Q556,308.5 557.4,301.6 L563,275.8 A9.8,9.8 0 1 1 574,278.6 L568.2,302 Q566.5,312 576,313.5 L590.2,316.3" stroke="#1a2458" stroke-width="2.2" fill="none" stroke-linejoin="round"/><circle cx="400.1" cy="290.2" r="3.7" stroke="#2b9fd3" stroke-width="1.6" fill="none"/><circle cx="391.9" cy="300.7" r="3.7" stroke="#2b9fd3" stroke-width="1.6" fill="none"/><path d="M401.9,293.4L406.8,304M395.3,301.9L406.8,304" stroke="#2b9fd3" stroke-width="1.6"/><path d="M403.7,305.3Q413.3,308.4 423.7,308.6Q414.4,304.3 404.8,301.3Z" fill="#2b9fd3"/><path d="M403.7,303.1Q408.6,311.3 416,317.8Q412.1,308.9 407.2,300.8Z" fill="#2b9fd3"/><circle cx="394.5" cy="415.4" r="3.7" stroke="#2b9fd3" stroke-width="1.6" fill="none"/><circle cx="404.5" cy="424.6" r="3.7" stroke="#2b9fd3" stroke-width="1.6" fill="none"/><path d="M396.3,418.6L407.8,409.3M407.9,425.8L407.8,409.3" stroke="#2b9fd3" stroke-width="1.6"/><path d="M408.5,412.5Q413.3,404.1 415.5,394.4Q409.6,402.2 404.8,410.6Z" fill="#2b9fd3"/><path d="M405.9,412.3Q416.1,408.8 425.2,402.6Q414.6,404.9 404.4,408.3Z" fill="#2b9fd3"/><text x="287.7" y="335.3" font-family="Liberation Serif" font-size="11.4" font-weight="bold" fill="#1a1a1a" textLength="193" lengthAdjust="spacingAndGlyphs">3' CTAAGCTGAGCAAAGGTACGAC<tspan fill="#e0262e">C</tspan> 5'</text><path d="M301.3,338.6V346.6" stroke="#1a1a1a" stroke-width="1.3"/><path d="M308.4,338.6V346.6" stroke="#1a1a1a" stroke-width="1.3"/><path d="M315.5,338.6V346.6" stroke="#1a1a1a" stroke-width="1.3"/><path d="M322.6,338.6V346.6" stroke="#1a1a1a" stroke-width="1.3"/><path d="M329.7,338.6V346.6" stroke="#1a1a1a" stroke-width="1.3"/><path d="M336.8,338.6V346.6" stroke="#1a1a1a" stroke-width="1.3"/><path d="M343.9,338.6V346.6" stroke="#1a1a1a" stroke-width="1.3"/><path d="M351,338.6V346.6" stroke="#1a1a1a" stroke-width="1.3"/><path d="M358.1,338.6V346.6" stroke="#1a1a1a" stroke-width="1.3"/><path d="M365.2,338.6V346.6" stroke="#1a1a1a" stroke-width="1.3"/><path d="M372.3,338.6V346.6" stroke="#1a1a1a" stroke-width="1.3"/><path d="M379.4,338.6V346.6" stroke="#1a1a1a" stroke-width="1.3"/><path d="M386.5,338.6V346.6" stroke="#1a1a1a" stroke-width="1.3"/><path d="M393.6,338.6V346.6" stroke="#1a1a1a" stroke-width="1.3"/><path d="M400.7,338.6V346.6" stroke="#1a1a1a" stroke-width="1.3"/><path d="M407.8,338.6V346.6" stroke="#1a1a1a" stroke-width="1.3"/><path d="M414.9,338.6V346.6" stroke="#1a1a1a" stroke-width="1.3"/><path d="M422,338.6V346.6" stroke="#1a1a1a" stroke-width="1.3"/><path d="M429.1,338.6V346.6" stroke="#1a1a1a" stroke-width="1.3"/><path d="M436.2,338.6V346.6" stroke="#1a1a1a" stroke-width="1.3"/><path d="M443.3,338.6V346.6" stroke="#1a1a1a" stroke-width="1.3"/><text x="299.5" y="355.3" font-family="Liberation Serif" font-size="11.4" font-weight="bold" fill="#1a1a1a" textLength="147.5" lengthAdjust="spacingAndGlyphs">UAUACGACUCGUUUCCAUGC</text><path d="M300.5,356V362" stroke="#071d7e" stroke-width="1.3"/><path d="M307.7,356V362" stroke="#071d7e" stroke-width="1.3"/><path d="M314.9,356V362" stroke="#071d7e" stroke-width="1.3"/><path d="M322.1,356V362" stroke="#071d7e" stroke-width="1.3"/><path d="M329.3,356V362" stroke="#071d7e" stroke-width="1.3"/><path d="M336.5,356V362" stroke="#071d7e" stroke-width="1.3"/><path d="M343.7,356V362" stroke="#071d7e" stroke-width="1.3"/><path d="M350.9,356V362" stroke="#071d7e" stroke-width="1.3"/><path d="M358.1,356V362" stroke="#071d7e" stroke-width="1.3"/><path d="M365.3,356V362" stroke="#071d7e" stroke-width="1.3"/><path d="M372.5,356V362" stroke="#071d7e" stroke-width="1.3"/><path d="M379.7,356V362" stroke="#071d7e" stroke-width="1.3"/><path d="M386.9,356V362" stroke="#071d7e" stroke-width="1.3"/><path d="M394.1,356V362" stroke="#071d7e" stroke-width="1.3"/><path d="M401.3,356V362" stroke="#071d7e" stroke-width="1.3"/><path d="M408.5,356V362" stroke="#071d7e" stroke-width="1.3"/><path d="M415.7,356V362" stroke="#071d7e" stroke-width="1.3"/><path d="M422.9,356V362" stroke="#071d7e" stroke-width="1.3"/><path d="M430.1,356V362" stroke="#071d7e" stroke-width="1.3"/><path d="M437.3,356V362" stroke="#071d7e" stroke-width="1.3"/><path d="M444.5,356V362" stroke="#071d7e" stroke-width="1.3"/><path d="M299.2,362.6H448" stroke="#071d7e" stroke-width="2.4"/><text x="287" y="378.9" font-family="Liberation Serif" font-size="11.4" font-weight="bold" fill="#1a1a1a" textLength="193.5" lengthAdjust="spacingAndGlyphs">5' GATTCGACTCGTTTCCATGCTG<tspan fill="#e0262e">G</tspan> 3'</text><path d="M449.4,341.4H468.2M450.6,383.7H468.8" stroke="#1a1a1a" stroke-width="1.5"/><rect x="297.7" y="325.5" width="8.7" height="12.6" fill="none" stroke="#e0479a" stroke-width="1.1"/><rect x="318.8" y="325.5" width="8.7" height="12.6" fill="none" stroke="#e0479a" stroke-width="1.1"/><rect x="297.2" y="369" width="9.4" height="12.6" fill="none" stroke="#e0479a" stroke-width="1.1"/><rect x="319.2" y="369" width="8.2" height="12.6" fill="none" stroke="#e0479a" stroke-width="1.1"/><text x="72.9" y="378" font-family="Liberation Serif" font-size="13" font-weight="bold" fill="#1a1a1a" textLength="81.4" lengthAdjust="spacingAndGlyphs">Target genome</text><text x="311.7" y="478.6" font-family="Liberation Serif" font-size="16" font-weight="bold" fill="#1a1a1a" textLength="32.5" lengthAdjust="spacingAndGlyphs">Cas9</text><text x="590.7" y="312.5" font-family="Liberation Serif" font-size="11.5" font-weight="bold" fill="#1a1a1a" textLength="34.3" lengthAdjust="spacingAndGlyphs">sgRNA</text></g><g transform="translate(676,547)"><text x="39" y="53.8" font-family="Liberation Serif" font-size="16.5" font-weight="bold" fill="#1a1a1a" textLength="19.6" lengthAdjust="spacingAndGlyphs">(b)</text><g clip-path="url(#refclip)"><rect x="65.5" y="42" width="150" height="89" fill="#16151d"/><g filter="url(#soft)"><rect x="62" y="40" width="3.9" height="2.4" rx="1.2" fill="#2060c8" opacity="0.47"/><rect x="68.4" y="40.9" width="4" height="2.4" rx="1.2" fill="#2060c8" opacity="0.48"/><rect x="74.8" y="41.8" width="4" height="2.4" rx="1.2" fill="#38a8f0" opacity="0.66"/><rect x="87.6" y="43.6" width="4" height="2.4" rx="1.2" fill="#2060c8" opacity="0.51"/><rect x="100.4" y="45.4" width="4.1" height="2.5" rx="1.2" fill="#5ac040" opacity="0.47"/><rect x="113.2" y="47.2" width="4.2" height="2.5" rx="1.2" fill="#38a8f0" opacity="0.52"/><rect x="132.4" y="49.9" width="4.2" height="2.5" rx="1.2" fill="#2060c8" opacity="0.74"/><rect x="151.6" y="52.6" width="4.3" height="2.6" rx="1.2" fill="#38a8f0" opacity="0.79"/><rect x="158" y="53.5" width="4.3" height="2.6" rx="1.2" fill="#a01c28" opacity="0.63"/><rect x="177.2" y="56.2" width="4.4" height="2.6" rx="1.2" fill="#e0403a" opacity="0.71"/><rect x="183.6" y="57.1" width="4.4" height="2.7" rx="1.2" fill="#38a8f0" opacity="0.75"/><rect x="196.4" y="58.9" width="4.5" height="2.7" rx="1.2" fill="#e0403a" opacity="0.53"/><rect x="202.8" y="59.8" width="4.5" height="2.7" rx="1.2" fill="#d02a30" opacity="0.83"/><rect x="209.2" y="60.7" width="4.5" height="2.7" rx="1.2" fill="#38a8f0" opacity="0.62"/><rect x="215.6" y="61.6" width="4.6" height="2.7" rx="1.2" fill="#a01c28" opacity="0.48"/><rect x="75.6" y="48" width="4.2" height="2.5" rx="1.2" fill="#2060c8" opacity="0.80"/><rect x="82" y="48.9" width="4.2" height="2.5" rx="1.2" fill="#5ac040" opacity="0.59"/><rect x="88.4" y="49.8" width="4.2" height="2.5" rx="1.2" fill="#30b84a" opacity="0.92"/><rect x="94.8" y="50.7" width="4.3" height="2.6" rx="1.2" fill="#5ac040" opacity="0.48"/><rect x="101.2" y="51.6" width="4.3" height="2.6" rx="1.2" fill="#2a8ee8" opacity="0.65"/><rect x="107.6" y="52.5" width="4.3" height="2.6" rx="1.2" fill="#2a8ee8" opacity="0.67"/><rect x="114" y="53.4" width="4.3" height="2.6" rx="1.2" fill="#5ac040" opacity="0.88"/><rect x="126.8" y="55.2" width="4.4" height="2.6" rx="1.2" fill="#38a8f0" opacity="0.93"/><rect x="158.8" y="59.7" width="4.5" height="2.7" rx="1.2" fill="#30b84a" opacity="0.52"/><rect x="165.2" y="60.6" width="4.5" height="2.7" rx="1.2" fill="#30b84a" opacity="0.80"/><rect x="171.6" y="61.5" width="4.6" height="2.7" rx="1.2" fill="#2060c8" opacity="0.82"/><rect x="178" y="62.4" width="4.6" height="2.8" rx="1.2" fill="#2060c8" opacity="0.85"/><rect x="184.4" y="63.3" width="4.6" height="2.8" rx="1.2" fill="#d02a30" opacity="0.69"/><rect x="190.8" y="64.2" width="4.6" height="2.8" rx="1.2" fill="#b8222c" opacity="0.67"/><rect x="203.6" y="66" width="4.7" height="2.8" rx="1.2" fill="#b8222c" opacity="0.72"/><rect x="210" y="66.9" width="4.7" height="2.8" rx="1.2" fill="#2a8ee8" opacity="0.89"/><rect x="216.4" y="67.8" width="4.8" height="2.9" rx="1.2" fill="#e0403a" opacity="0.93"/><rect x="63.6" y="52.4" width="4.3" height="2.6" rx="1.2" fill="#2a8ee8" opacity="0.87"/><rect x="70" y="53.3" width="4.3" height="2.6" rx="1.2" fill="#38a8f0" opacity="0.61"/><rect x="82.8" y="55.1" width="4.4" height="2.6" rx="1.2" fill="#5ac040" opacity="0.86"/><rect x="102" y="57.8" width="4.5" height="2.7" rx="1.2" fill="#2a8ee8" opacity="0.80"/><rect x="108.4" y="58.7" width="4.5" height="2.7" rx="1.2" fill="#5ac040" opacity="0.94"/><rect x="114.8" y="59.6" width="4.5" height="2.7" rx="1.2" fill="#5ac040" opacity="0.71"/><rect x="121.2" y="60.5" width="4.5" height="2.7" rx="1.2" fill="#2a8ee8" opacity="0.72"/><rect x="127.6" y="61.4" width="4.6" height="2.7" rx="1.2" fill="#2a8ee8" opacity="0.76"/><rect x="134" y="62.3" width="4.6" height="2.8" rx="1.2" fill="#30b84a" opacity="0.86"/><rect x="140.4" y="63.2" width="4.6" height="2.8" rx="1.2" fill="#a01c28" opacity="0.63"/><rect x="172.4" y="67.7" width="4.8" height="2.9" rx="1.2" fill="#38a8f0" opacity="0.85"/><rect x="178.8" y="68.6" width="4.8" height="2.9" rx="1.2" fill="#e0403a" opacity="0.49"/><rect x="191.6" y="70.4" width="4.8" height="2.9" rx="1.2" fill="#a01c28" opacity="0.76"/><rect x="198" y="71.3" width="4.9" height="2.9" rx="1.2" fill="#38a8f0" opacity="0.90"/><rect x="204.4" y="72.2" width="4.9" height="2.9" rx="1.2" fill="#2060c8" opacity="0.51"/><rect x="210.8" y="73.1" width="4.9" height="2.9" rx="1.2" fill="#2a8ee8" opacity="0.69"/><rect x="64.4" y="58.6" width="4.5" height="2.7" rx="1.2" fill="#2060c8" opacity="0.65"/><rect x="70.8" y="59.5" width="4.5" height="2.7" rx="1.2" fill="#30b84a" opacity="0.54"/><rect x="90" y="62.2" width="4.6" height="2.8" rx="1.2" fill="#5ac040" opacity="0.78"/><rect x="96.4" y="63.1" width="4.6" height="2.8" rx="1.2" fill="#b8222c" opacity="0.46"/><rect x="102.8" y="64" width="4.6" height="2.8" rx="1.2" fill="#30b84a" opacity="0.67"/><rect x="109.2" y="64.9" width="4.7" height="2.8" rx="1.2" fill="#5ac040" opacity="0.56"/><rect x="115.6" y="65.8" width="4.7" height="2.8" rx="1.2" fill="#5ac040" opacity="0.87"/><rect x="128.4" y="67.6" width="4.7" height="2.8" rx="1.2" fill="#2060c8" opacity="0.66"/><rect x="134.8" y="68.5" width="4.8" height="2.9" rx="1.2" fill="#2060c8" opacity="0.71"/><rect x="141.2" y="69.4" width="4.8" height="2.9" rx="1.2" fill="#2a8ee8" opacity="0.54"/><rect x="147.6" y="70.3" width="4.8" height="2.9" rx="1.2" fill="#38a8f0" opacity="0.79"/><rect x="154" y="71.2" width="4.9" height="2.9" rx="1.2" fill="#d02a30" opacity="0.89"/><rect x="186" y="75.7" width="5" height="3" rx="1.2" fill="#d02a30" opacity="0.67"/><rect x="192.4" y="76.6" width="5" height="3" rx="1.2" fill="#b8222c" opacity="0.80"/><rect x="198.8" y="77.5" width="5" height="3" rx="1.2" fill="#a01c28" opacity="0.70"/><rect x="211.6" y="79.3" width="5.1" height="3.1" rx="1.2" fill="#38a8f0" opacity="0.91"/><rect x="65.2" y="64.8" width="4.7" height="2.8" rx="1.2" fill="#a01c28" opacity="0.52"/><rect x="78" y="66.6" width="4.7" height="2.8" rx="1.2" fill="#b8222c" opacity="0.66"/><rect x="103.6" y="70.2" width="4.8" height="2.9" rx="1.2" fill="#38a8f0" opacity="0.52"/><rect x="110" y="71.1" width="4.9" height="2.9" rx="1.2" fill="#30b84a" opacity="0.65"/><rect x="116.4" y="72" width="4.9" height="2.9" rx="1.2" fill="#2a8ee8" opacity="0.80"/><rect x="122.8" y="72.9" width="4.9" height="2.9" rx="1.2" fill="#a01c28" opacity="0.55"/><rect x="135.6" y="74.7" width="5" height="3" rx="1.2" fill="#a01c28" opacity="0.67"/><rect x="148.4" y="76.5" width="5" height="3" rx="1.2" fill="#2a8ee8" opacity="0.51"/><rect x="154.8" y="77.4" width="5" height="3" rx="1.2" fill="#d02a30" opacity="0.49"/><rect x="167.6" y="79.2" width="5.1" height="3.1" rx="1.2" fill="#b8222c" opacity="0.86"/><rect x="174" y="80.1" width="5.1" height="3.1" rx="1.2" fill="#38a8f0" opacity="0.65"/><rect x="180.4" y="81" width="5.1" height="3.1" rx="1.2" fill="#a01c28" opacity="0.80"/><rect x="199.6" y="83.7" width="5.2" height="3.1" rx="1.2" fill="#d02a30" opacity="0.58"/><rect x="72.4" y="71.9" width="4.9" height="2.9" rx="1.2" fill="#e0403a" opacity="0.88"/><rect x="78.8" y="72.8" width="4.9" height="2.9" rx="1.2" fill="#a01c28" opacity="0.91"/><rect x="98" y="75.5" width="5" height="3" rx="1.2" fill="#d02a30" opacity="0.93"/><rect x="117.2" y="78.2" width="5.1" height="3" rx="1.2" fill="#2a8ee8" opacity="0.59"/><rect x="123.6" y="79.1" width="5.1" height="3.1" rx="1.2" fill="#e0403a" opacity="0.85"/><rect x="130" y="80" width="5.1" height="3.1" rx="1.2" fill="#d02a30" opacity="0.82"/><rect x="136.4" y="80.9" width="5.1" height="3.1" rx="1.2" fill="#a01c28" opacity="0.57"/><rect x="142.8" y="81.8" width="5.2" height="3.1" rx="1.2" fill="#2060c8" opacity="0.70"/><rect x="149.2" y="82.7" width="5.2" height="3.1" rx="1.2" fill="#e0403a" opacity="0.79"/><rect x="155.6" y="83.6" width="5.2" height="3.1" rx="1.2" fill="#b8222c" opacity="0.65"/><rect x="162" y="84.5" width="5.2" height="3.1" rx="1.2" fill="#b8222c" opacity="0.46"/><rect x="168.4" y="85.4" width="5.3" height="3.2" rx="1.2" fill="#30b84a" opacity="0.49"/><rect x="174.8" y="86.3" width="5.3" height="3.2" rx="1.2" fill="#2060c8" opacity="0.94"/><rect x="181.2" y="87.2" width="5.3" height="3.2" rx="1.2" fill="#2a8ee8" opacity="0.68"/><rect x="194" y="89" width="5.4" height="3.2" rx="1.2" fill="#e0403a" opacity="0.94"/><rect x="200.4" y="89.9" width="5.4" height="3.2" rx="1.2" fill="#e0403a" opacity="0.56"/><rect x="213.2" y="91.7" width="5.5" height="3.3" rx="1.2" fill="#e0403a" opacity="0.70"/><rect x="73.2" y="78.1" width="5.1" height="3" rx="1.2" fill="#e0403a" opacity="0.86"/><rect x="86" y="79.9" width="5.1" height="3.1" rx="1.2" fill="#e0403a" opacity="0.60"/><rect x="98.8" y="81.7" width="5.2" height="3.1" rx="1.2" fill="#b8222c" opacity="0.78"/><rect x="105.2" y="82.6" width="5.2" height="3.1" rx="1.2" fill="#5ac040" opacity="0.81"/><rect x="111.6" y="83.5" width="5.2" height="3.1" rx="1.2" fill="#b8222c" opacity="0.47"/><rect x="118" y="84.4" width="5.2" height="3.1" rx="1.2" fill="#2060c8" opacity="0.80"/><rect x="124.4" y="85.3" width="5.3" height="3.2" rx="1.2" fill="#2060c8" opacity="0.87"/><rect x="130.8" y="86.2" width="5.3" height="3.2" rx="1.2" fill="#2060c8" opacity="0.79"/><rect x="137.2" y="87.1" width="5.3" height="3.2" rx="1.2" fill="#d02a30" opacity="0.47"/><rect x="143.6" y="88" width="5.3" height="3.2" rx="1.2" fill="#5ac040" opacity="0.73"/><rect x="150" y="88.9" width="5.4" height="3.2" rx="1.2" fill="#38a8f0" opacity="0.58"/><rect x="156.4" y="89.8" width="5.4" height="3.2" rx="1.2" fill="#d02a30" opacity="0.78"/><rect x="169.2" y="91.6" width="5.4" height="3.3" rx="1.2" fill="#d02a30" opacity="0.87"/><rect x="182" y="93.4" width="5.5" height="3.3" rx="1.2" fill="#a01c28" opacity="0.70"/><rect x="188.4" y="94.3" width="5.5" height="3.3" rx="1.2" fill="#e0403a" opacity="0.83"/><rect x="194.8" y="95.2" width="5.6" height="3.3" rx="1.2" fill="#2a8ee8" opacity="0.75"/><rect x="201.2" y="96.1" width="5.6" height="3.3" rx="1.2" fill="#2060c8" opacity="0.60"/><rect x="207.6" y="97" width="5.6" height="3.4" rx="1.2" fill="#d02a30" opacity="0.69"/><rect x="214" y="97.9" width="5.6" height="3.4" rx="1.2" fill="#b8222c" opacity="0.79"/><rect x="74" y="84.3" width="5.2" height="3.1" rx="1.2" fill="#a01c28" opacity="0.83"/><rect x="80.4" y="85.2" width="5.3" height="3.2" rx="1.2" fill="#e0403a" opacity="0.94"/><rect x="86.8" y="86.1" width="5.3" height="3.2" rx="1.2" fill="#a01c28" opacity="0.49"/><rect x="93.2" y="87" width="5.3" height="3.2" rx="1.2" fill="#c8e040" opacity="0.55"/><rect x="99.6" y="87.9" width="5.3" height="3.2" rx="1.2" fill="#d02a30" opacity="0.52"/><rect x="106" y="88.8" width="5.4" height="3.2" rx="1.2" fill="#5ac040" opacity="0.89"/><rect x="112.4" y="89.7" width="5.4" height="3.2" rx="1.2" fill="#a01c28" opacity="0.65"/><rect x="125.2" y="91.5" width="5.4" height="3.3" rx="1.2" fill="#30b84a" opacity="0.66"/><rect x="131.6" y="92.4" width="5.5" height="3.3" rx="1.2" fill="#e0403a" opacity="0.45"/><rect x="138" y="93.3" width="5.5" height="3.3" rx="1.2" fill="#30b84a" opacity="0.81"/><rect x="144.4" y="94.2" width="5.5" height="3.3" rx="1.2" fill="#e0403a" opacity="0.48"/><rect x="150.8" y="95.1" width="5.6" height="3.3" rx="1.2" fill="#5ac040" opacity="0.83"/><rect x="157.2" y="96" width="5.6" height="3.3" rx="1.2" fill="#d02a30" opacity="0.87"/><rect x="170" y="97.8" width="5.6" height="3.4" rx="1.2" fill="#e0403a" opacity="0.67"/><rect x="182.8" y="99.6" width="5.7" height="3.4" rx="1.2" fill="#38a8f0" opacity="0.89"/><rect x="189.2" y="100.5" width="5.7" height="3.4" rx="1.2" fill="#2060c8" opacity="0.72"/><rect x="195.6" y="101.4" width="5.7" height="3.4" rx="1.2" fill="#a01c28" opacity="0.68"/><rect x="202" y="102.3" width="5.8" height="3.5" rx="1.2" fill="#38a8f0" opacity="0.69"/><rect x="208.4" y="103.2" width="5.8" height="3.5" rx="1.2" fill="#b8222c" opacity="0.69"/><rect x="214.8" y="104.1" width="5.8" height="3.5" rx="1.2" fill="#e0403a" opacity="0.65"/><rect x="74.8" y="90.5" width="5.4" height="3.3" rx="1.2" fill="#d02a30" opacity="0.53"/><rect x="94" y="93.2" width="5.5" height="3.3" rx="1.2" fill="#b8222c" opacity="0.68"/><rect x="100.4" y="94.1" width="5.5" height="3.3" rx="1.2" fill="#30b84a" opacity="0.57"/><rect x="113.2" y="95.9" width="5.6" height="3.3" rx="1.2" fill="#e0403a" opacity="0.58"/><rect x="119.6" y="96.8" width="5.6" height="3.4" rx="1.2" fill="#38a8f0" opacity="0.64"/><rect x="126" y="97.7" width="5.6" height="3.4" rx="1.2" fill="#e0403a" opacity="0.62"/><rect x="145.2" y="100.4" width="5.7" height="3.4" rx="1.2" fill="#b8222c" opacity="0.50"/><rect x="151.6" y="101.3" width="5.7" height="3.4" rx="1.2" fill="#a01c28" opacity="0.67"/><rect x="164.4" y="103.1" width="5.8" height="3.5" rx="1.2" fill="#5ac040" opacity="0.80"/><rect x="170.8" y="104" width="5.8" height="3.5" rx="1.2" fill="#a01c28" opacity="0.45"/><rect x="177.2" y="104.9" width="5.8" height="3.5" rx="1.2" fill="#2060c8" opacity="0.88"/><rect x="183.6" y="105.8" width="5.9" height="3.5" rx="1.2" fill="#d02a30" opacity="0.56"/><rect x="196.4" y="107.6" width="5.9" height="3.5" rx="1.2" fill="#a01c28" opacity="0.49"/><rect x="202.8" y="108.5" width="5.9" height="3.6" rx="1.2" fill="#b8222c" opacity="0.57"/><rect x="209.2" y="109.4" width="6" height="3.6" rx="1.2" fill="#38a8f0" opacity="0.93"/><rect x="215.6" y="110.3" width="6" height="3.6" rx="1.2" fill="#a01c28" opacity="0.80"/><rect x="82" y="97.6" width="5.6" height="3.4" rx="1.2" fill="#a01c28" opacity="0.58"/><rect x="88.4" y="98.5" width="5.7" height="3.4" rx="1.2" fill="#e0403a" opacity="0.95"/><rect x="107.6" y="101.2" width="5.7" height="3.4" rx="1.2" fill="#b8222c" opacity="0.72"/><rect x="120.4" y="103" width="5.8" height="3.5" rx="1.2" fill="#30b84a" opacity="0.70"/><rect x="126.8" y="103.9" width="5.8" height="3.5" rx="1.2" fill="#e0403a" opacity="0.56"/><rect x="133.2" y="104.8" width="5.8" height="3.5" rx="1.2" fill="#a01c28" opacity="0.47"/><rect x="139.6" y="105.7" width="5.9" height="3.5" rx="1.2" fill="#a01c28" opacity="0.55"/><rect x="146" y="106.6" width="5.9" height="3.5" rx="1.2" fill="#2a8ee8" opacity="0.70"/><rect x="158.8" y="108.4" width="5.9" height="3.6" rx="1.2" fill="#a01c28" opacity="0.56"/><rect x="165.2" y="109.3" width="6" height="3.6" rx="1.2" fill="#a01c28" opacity="0.76"/><rect x="171.6" y="110.2" width="6" height="3.6" rx="1.2" fill="#d02a30" opacity="0.92"/><rect x="184.4" y="112" width="6" height="3.6" rx="1.2" fill="#b8222c" opacity="0.66"/><rect x="190.8" y="112.9" width="6.1" height="3.6" rx="1.2" fill="#a01c28" opacity="0.90"/><rect x="197.2" y="113.8" width="6.1" height="3.7" rx="1.2" fill="#2a8ee8" opacity="0.92"/><rect x="203.6" y="114.7" width="6.1" height="3.7" rx="1.2" fill="#a01c28" opacity="0.47"/><rect x="210" y="115.6" width="6.2" height="3.7" rx="1.2" fill="#e0403a" opacity="0.94"/><rect x="216.4" y="116.5" width="6.2" height="3.7" rx="1.2" fill="#d02a30" opacity="0.59"/><rect x="70" y="102" width="5.8" height="3.5" rx="1.2" fill="#30b84a" opacity="0.64"/><rect x="76.4" y="102.9" width="5.8" height="3.5" rx="1.2" fill="#a01c28" opacity="0.49"/><rect x="82.8" y="103.8" width="5.8" height="3.5" rx="1.2" fill="#a01c28" opacity="0.55"/><rect x="89.2" y="104.7" width="5.8" height="3.5" rx="1.2" fill="#5ac040" opacity="0.57"/><rect x="95.6" y="105.6" width="5.9" height="3.5" rx="1.2" fill="#a01c28" opacity="0.47"/><rect x="108.4" y="107.4" width="5.9" height="3.5" rx="1.2" fill="#d02a30" opacity="0.90"/><rect x="114.8" y="108.3" width="5.9" height="3.6" rx="1.2" fill="#d02a30" opacity="0.58"/><rect x="121.2" y="109.2" width="6" height="3.6" rx="1.2" fill="#e0403a" opacity="0.60"/><rect x="127.6" y="110.1" width="6" height="3.6" rx="1.2" fill="#2a8ee8" opacity="0.46"/><rect x="140.4" y="111.9" width="6" height="3.6" rx="1.2" fill="#38a8f0" opacity="0.84"/><rect x="146.8" y="112.8" width="6.1" height="3.6" rx="1.2" fill="#b8222c" opacity="0.91"/><rect x="159.6" y="114.6" width="6.1" height="3.7" rx="1.2" fill="#b8222c" opacity="0.75"/><rect x="166" y="115.5" width="6.1" height="3.7" rx="1.2" fill="#e0403a" opacity="0.84"/><rect x="172.4" y="116.4" width="6.2" height="3.7" rx="1.2" fill="#a01c28" opacity="0.83"/><rect x="198" y="120" width="6.3" height="3.8" rx="1.2" fill="#a01c28" opacity="0.89"/><rect x="204.4" y="120.9" width="6.3" height="3.8" rx="1.2" fill="#d02a30" opacity="0.55"/><rect x="210.8" y="121.8" width="6.3" height="3.8" rx="1.2" fill="#38a8f0" opacity="0.54"/><rect x="70.8" y="108.2" width="5.9" height="3.6" rx="1.2" fill="#30b84a" opacity="0.84"/><rect x="109.2" y="113.6" width="6.1" height="3.7" rx="1.2" fill="#2a8ee8" opacity="0.53"/><rect x="115.6" y="114.5" width="6.1" height="3.7" rx="1.2" fill="#38a8f0" opacity="0.48"/><rect x="134.8" y="117.2" width="6.2" height="3.7" rx="1.2" fill="#2a8ee8" opacity="0.78"/><rect x="141.2" y="118.1" width="6.2" height="3.7" rx="1.2" fill="#38a8f0" opacity="0.89"/><rect x="154" y="119.9" width="6.3" height="3.8" rx="1.2" fill="#38a8f0" opacity="0.57"/><rect x="166.8" y="121.7" width="6.3" height="3.8" rx="1.2" fill="#30b84a" opacity="0.64"/><rect x="173.2" y="122.6" width="6.4" height="3.8" rx="1.2" fill="#e0403a" opacity="0.84"/><rect x="179.6" y="123.5" width="6.4" height="3.8" rx="1.2" fill="#e0403a" opacity="0.56"/><rect x="186" y="124.4" width="6.4" height="3.8" rx="1.2" fill="#b8222c" opacity="0.95"/><rect x="198.8" y="126.2" width="6.5" height="3.9" rx="1.2" fill="#2a8ee8" opacity="0.86"/><rect x="205.2" y="127.1" width="6.5" height="3.9" rx="1.2" fill="#e0403a" opacity="0.49"/><rect x="71.6" y="114.4" width="6.1" height="3.7" rx="1.2" fill="#38a8f0" opacity="0.50"/><rect x="78" y="115.3" width="6.1" height="3.7" rx="1.2" fill="#2060c8" opacity="0.72"/><rect x="84.4" y="116.2" width="6.2" height="3.7" rx="1.2" fill="#38a8f0" opacity="0.65"/><rect x="103.6" y="118.9" width="6.2" height="3.7" rx="1.2" fill="#2060c8" opacity="0.89"/><rect x="110" y="119.8" width="6.3" height="3.8" rx="1.2" fill="#38a8f0" opacity="0.77"/><rect x="116.4" y="120.7" width="6.3" height="3.8" rx="1.2" fill="#2a8ee8" opacity="0.67"/><rect x="142" y="124.3" width="6.4" height="3.8" rx="1.2" fill="#2a8ee8" opacity="0.51"/><rect x="161.2" y="127" width="6.5" height="3.9" rx="1.2" fill="#e0403a" opacity="0.82"/><rect x="174" y="128.8" width="6.5" height="3.9" rx="1.2" fill="#b8222c" opacity="0.91"/><rect x="186.8" y="130.6" width="6.6" height="4" rx="1.2" fill="#2a8ee8" opacity="0.60"/><rect x="193.2" y="131.5" width="6.6" height="4" rx="1.2" fill="#a01c28" opacity="0.61"/><rect x="199.6" y="132.4" width="6.6" height="4" rx="1.2" fill="#2a8ee8" opacity="0.90"/><rect x="72.4" y="120.6" width="6.3" height="3.8" rx="1.2" fill="#b8222c" opacity="0.77"/><rect x="78.8" y="121.5" width="6.3" height="3.8" rx="1.2" fill="#2060c8" opacity="0.87"/><rect x="85.2" y="122.4" width="6.3" height="3.8" rx="1.2" fill="#2a8ee8" opacity="0.47"/><rect x="91.6" y="123.3" width="6.4" height="3.8" rx="1.2" fill="#38a8f0" opacity="0.51"/><rect x="104.4" y="125.1" width="6.4" height="3.9" rx="1.2" fill="#d02a30" opacity="0.89"/><rect x="110.8" y="126" width="6.5" height="3.9" rx="1.2" fill="#2060c8" opacity="0.87"/><rect x="123.6" y="127.8" width="6.5" height="3.9" rx="1.2" fill="#2060c8" opacity="0.84"/><rect x="130" y="128.7" width="6.5" height="3.9" rx="1.2" fill="#2a8ee8" opacity="0.66"/><rect x="136.4" y="129.6" width="6.6" height="3.9" rx="1.2" fill="#38a8f0" opacity="0.54"/><rect x="149.2" y="131.4" width="6.6" height="4" rx="1.2" fill="#38a8f0" opacity="0.83"/><rect x="155.6" y="132.3" width="6.6" height="4" rx="1.2" fill="#2a8ee8" opacity="0.86"/><rect x="73.2" y="126.8" width="6.5" height="3.9" rx="1.2" fill="#38a8f0" opacity="0.67"/><rect x="86" y="128.6" width="6.5" height="3.9" rx="1.2" fill="#2a8ee8" opacity="0.47"/><rect x="98.8" y="130.4" width="6.6" height="3.9" rx="1.2" fill="#2060c8" opacity="0.71"/><rect x="111.6" y="132.2" width="6.6" height="4" rx="1.2" fill="#2a8ee8" opacity="0.46"/><ellipse cx="92" cy="108" rx="5" ry="3" fill="#d8e040" opacity="0.9"/></g><path d="M150,42L196,42L200,46L176,45Z" fill="#4cc8f4" opacity="0.35"/><path d="M181,42L189,42L216,88L216,104Z" fill="#4cc8f4" opacity="0.85"/><path d="M186,78L190,78L212,124L208,124Z" fill="#2f7fc8" opacity="0.5"/></g><circle cx="109.2" cy="72.1" r="10.6" fill="#c5d9ee"/><path d="M92.4,103.2V92Q92.4,81.4 104,81.4H114Q125.3,81.4 125.3,92V103.2Z" fill="#c5d9ee"/><circle cx="163.3" cy="72.1" r="10.6" fill="#c5d9ee"/><path d="M147,103.2V92Q147,81.4 158,81.4H169Q180,81.4 180,92V103.2Z" fill="#c5d9ee"/><circle cx="136.5" cy="77" r="12.4" fill="#8aa6d6" stroke="#1c2230" stroke-width="1.3"/><path d="M116.6,113.8V98Q116.6,88.3 127,88.3H146Q156.5,88.3 156.5,98V113.8Z" fill="#8aa6d6" stroke="#1c2230" stroke-width="1.3"/><circle cx="136.5" cy="77" r="11.8" fill="#8aa6d6"/><path d="M98.9,91V97" stroke="#3a4050" stroke-width="0.8"/><path d="M105.1,91V97" stroke="#3a4050" stroke-width="0.8"/><path d="M110.9,91V97" stroke="#3a4050" stroke-width="0.8"/><path d="M117.1,91V97" stroke="#3a4050" stroke-width="0.8"/><path d="M96,90C102,90 102,98 108,98C114,98 114,90 120,90" stroke="#2a3040" stroke-width="1.6" fill="none"/><path d="M96,98C102,98 102,90 108,90C114,90 114,98 120,98" stroke="#2e6a50" stroke-width="1.4" fill="none"/><path d="M154.9,91V97" stroke="#3a4050" stroke-width="0.8"/><path d="M161.1,91V97" stroke="#3a4050" stroke-width="0.8"/><path d="M166.9,91V97" stroke="#3a4050" stroke-width="0.8"/><path d="M173.1,91V97" stroke="#3a4050" stroke-width="0.8"/><path d="M152,90C158,90 158,98 164,98C170,98 170,90 176,90" stroke="#2a3040" stroke-width="1.6" fill="none"/><path d="M152,98C158,98 158,90 164,90C170,90 170,98 176,98" stroke="#2e6a50" stroke-width="1.4" fill="none"/><path d="M125.9,100.5V107.5" stroke="#3a4050" stroke-width="0.8"/><path d="M133.1,100.5V107.5" stroke="#3a4050" stroke-width="0.8"/><path d="M139.9,100.5V107.5" stroke="#3a4050" stroke-width="0.8"/><path d="M147.1,100.5V107.5" stroke="#3a4050" stroke-width="0.8"/><path d="M122.5,99.5C129.5,99.5 129.5,108.5 136.5,108.5C143.5,108.5 143.5,99.5 150.5,99.5" stroke="#2a3040" stroke-width="1.6" fill="none"/><path d="M122.5,108.5C129.5,108.5 129.5,99.5 136.5,99.5C143.5,99.5 143.5,108.5 150.5,108.5" stroke="#2e6a50" stroke-width="1.4" fill="none"/><text x="84.9" y="52.8" font-family="Liberation Serif" font-size="14.5" fill="#f2f2f2" textLength="112.6" lengthAdjust="spacingAndGlyphs">Reference genome</text><g font-family="Liberation Sans" fill="#9aa6b8"><text x="218.4" y="65.5" font-size="10" transform="scale(1,1)" textLength="3.3" lengthAdjust="spacingAndGlyphs">A</text><text x="223.9" y="65.2" font-size="10.4" transform="scale(1,1)" textLength="3.4" lengthAdjust="spacingAndGlyphs">T</text><text x="229.4" y="65" font-size="10.8" transform="scale(1,1)" textLength="3.5" lengthAdjust="spacingAndGlyphs">A</text><text x="234.9" y="64.7" font-size="11.2" transform="scale(1,1)" textLength="3.6" lengthAdjust="spacingAndGlyphs">T</text><text x="240.4" y="64.5" font-size="11.7" transform="scale(1,1)" textLength="3.7" lengthAdjust="spacingAndGlyphs">C</text><text x="245.9" y="64.2" font-size="12.1" transform="scale(1,1)" textLength="3.9" lengthAdjust="spacingAndGlyphs">A</text><text x="251.4" y="64" font-size="12.5" transform="scale(1,1)" textLength="4" lengthAdjust="spacingAndGlyphs">T</text><text x="257" y="63.7" font-size="12.9" transform="scale(1,1)" textLength="4.1" lengthAdjust="spacingAndGlyphs">G</text><text x="262.5" y="63.4" font-size="13.3" transform="scale(1,1)" textLength="4.2" lengthAdjust="spacingAndGlyphs">C</text><text x="268" y="63.2" font-size="13.8" transform="scale(1,1)" textLength="4.3" lengthAdjust="spacingAndGlyphs">G</text><text x="273.5" y="62.9" font-size="14.2" transform="scale(1,1)" textLength="4.4" lengthAdjust="spacingAndGlyphs">C</text><text x="279" y="62.7" font-size="14.6" transform="scale(1,1)" textLength="4.5" lengthAdjust="spacingAndGlyphs">A</text><text x="284.5" y="62.4" font-size="15" transform="scale(1,1)" textLength="4.6" lengthAdjust="spacingAndGlyphs">T</text><text x="218" y="75.6" font-size="10" transform="scale(1,1)" textLength="3.6" lengthAdjust="spacingAndGlyphs">A</text><text x="224" y="75.7" font-size="10.3" transform="scale(1,1)" textLength="3.7" lengthAdjust="spacingAndGlyphs">A</text><text x="230" y="75.7" font-size="10.6" transform="scale(1,1)" textLength="3.8" lengthAdjust="spacingAndGlyphs">A</text><text x="236" y="75.8" font-size="11" transform="scale(1,1)" textLength="4" lengthAdjust="spacingAndGlyphs">T</text><text x="242" y="75.9" font-size="11.3" transform="scale(1,1)" textLength="4.1" lengthAdjust="spacingAndGlyphs">A</text><text x="248" y="76" font-size="11.6" transform="scale(1,1)" textLength="4.2" lengthAdjust="spacingAndGlyphs">T</text><text x="254" y="76" font-size="11.9" transform="scale(1,1)" textLength="4.4" lengthAdjust="spacingAndGlyphs">C</text><text x="260" y="76.1" font-size="12.2" transform="scale(1,1)" textLength="4.5" lengthAdjust="spacingAndGlyphs">A</text><text x="266" y="76.2" font-size="12.5" transform="scale(1,1)" textLength="4.6" lengthAdjust="spacingAndGlyphs">T</text><text x="272" y="76.3" font-size="12.9" transform="scale(1,1)" textLength="4.8" lengthAdjust="spacingAndGlyphs">G</text><text x="278" y="76.3" font-size="13.2" transform="scale(1,1)" textLength="4.9" lengthAdjust="spacingAndGlyphs">C</text><text x="284" y="76.4" font-size="13.5" transform="scale(1,1)" textLength="5" lengthAdjust="spacingAndGlyphs">G</text><text x="219" y="85" font-size="10" transform="scale(1,1)" textLength="3.4" lengthAdjust="spacingAndGlyphs">T</text><text x="224.8" y="85.5" font-size="10.2" transform="scale(1,1)" textLength="3.6" lengthAdjust="spacingAndGlyphs">A</text><text x="230.6" y="85.9" font-size="10.4" transform="scale(1,1)" textLength="3.7" lengthAdjust="spacingAndGlyphs">T</text><text x="236.5" y="86.4" font-size="10.5" transform="scale(1,1)" textLength="3.8" lengthAdjust="spacingAndGlyphs">C</text><text x="242.3" y="86.9" font-size="10.7" transform="scale(1,1)" textLength="4" lengthAdjust="spacingAndGlyphs">A</text><text x="248.1" y="87.4" font-size="10.9" transform="scale(1,1)" textLength="4.1" lengthAdjust="spacingAndGlyphs">T</text><text x="253.9" y="87.8" font-size="11.1" transform="scale(1,1)" textLength="4.2" lengthAdjust="spacingAndGlyphs">G</text><text x="259.7" y="88.3" font-size="11.3" transform="scale(1,1)" textLength="4.4" lengthAdjust="spacingAndGlyphs">C</text><text x="265.5" y="88.8" font-size="11.5" transform="scale(1,1)" textLength="4.5" lengthAdjust="spacingAndGlyphs">G</text><text x="271.4" y="89.3" font-size="11.6" transform="scale(1,1)" textLength="4.6" lengthAdjust="spacingAndGlyphs">C</text><text x="277.2" y="89.7" font-size="11.8" transform="scale(1,1)" textLength="4.8" lengthAdjust="spacingAndGlyphs">A</text><text x="283" y="90.2" font-size="12" transform="scale(1,1)" textLength="4.9" lengthAdjust="spacingAndGlyphs">T</text></g><path d="M138,131.5V292.6H229" stroke="#8c8c8c" stroke-width="1" stroke-dasharray="3,2" fill="none"/><g transform="translate(147.2,180.3)"><path d="M0,-6.5C0.9,-2.2 2.2,-0.9 6.5,0C2.2,0.9 0.9,2.2 0,6.5C-0.9,2.2 -2.2,0.9 -6.5,0C-2.2,-0.9 -0.9,-2.2 0,-6.5Z" fill="#222"/></g><text x="157" y="183" font-family="Liberation Serif" font-size="13.4" fill="#1e1e1e" textLength="115" lengthAdjust="spacingAndGlyphs">Sequence variations</text><text x="143.8" y="200.4" font-family="Liberation Serif" font-size="13.4" fill="#1e1e1e" textLength="126" lengthAdjust="spacingAndGlyphs">at the PAM site of the</text><text x="143.8" y="217.8" font-family="Liberation Serif" font-size="13.4" fill="#1e1e1e" textLength="108" lengthAdjust="spacingAndGlyphs">potential off-target</text><text x="143.8" y="235.2" font-family="Liberation Serif" font-size="13.4" fill="#1e1e1e" textLength="95" lengthAdjust="spacingAndGlyphs">increase increase</text><text x="143.8" y="252.6" font-family="Liberation Serif" font-size="13.4" fill="#1e1e1e" textLength="88" lengthAdjust="spacingAndGlyphs">gRNA activity.</text><circle cx="260.3" cy="105.2" r="14.2" stroke="#1d3a52" stroke-width="2" fill="#fff"/><path d="M269.3,98.5A9,9 0 0 1 269.8,108.5" stroke="#1d3a52" stroke-width="2" fill="none" stroke-linecap="round"/><path d="M234.5,127.8L247.2,118" stroke="#2b8fd6" stroke-width="5" stroke-linecap="round"/><text x="280" y="106.2" font-family="Liberation Serif" font-size="13" font-weight="bold" fill="#1a1a1a" textLength="282" lengthAdjust="spacingAndGlyphs">Potential off-target based on the reference genome</text><text x="296.4" y="134.4" font-family="Liberation Serif" font-size="12.3" fill="#7a7a7a" textLength="224" lengthAdjust="spacingAndGlyphs">3' CTAAGCTGAGCAAAGGTACGACT 5'</text><text x="239.8" y="157" font-family="Liberation Serif" font-size="12" fill="#2a2a2a" textLength="50.8" lengthAdjust="spacingAndGlyphs">On-target:</text><text x="296.4" y="157.6" font-family="Liberation Serif" font-size="12.3" fill="#7a7a7a" textLength="224" lengthAdjust="spacingAndGlyphs">3' ATATGCTGAGCAAAGGTACGACC 5'</text><rect x="307.8" y="120.3" width="9.5" height="18.6" fill="none" stroke="#e0479a" stroke-width="1.1"/><rect x="332.2" y="120.3" width="10.2" height="18.6" fill="none" stroke="#e0479a" stroke-width="1.1"/><rect x="500.5" y="120.3" width="8.8" height="18.6" fill="none" stroke="#e0479a" stroke-width="1.1"/></g></svg></body></html>
